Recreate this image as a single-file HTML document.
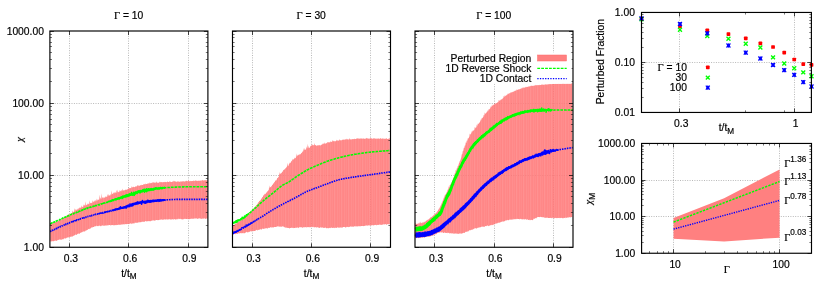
<!DOCTYPE html>
<html><head><meta charset="utf-8"><title>plot</title>
<style>html,body{margin:0;padding:0;background:#fff}svg{display:block;will-change:transform}</style>
</head><body>
<svg width="830" height="291" viewBox="0 0 830 291">
<defs>
<pattern id="st" width="7" height="8" patternUnits="userSpaceOnUse"><rect x="0" y="0" width="1" height="8" fill="#f00" fill-opacity="0.471"/><rect x="1" y="0" width="1" height="8" fill="#f00" fill-opacity="0.443"/><rect x="2" y="0" width="1" height="8" fill="#f00" fill-opacity="0.467"/><rect x="3" y="0" width="1" height="8" fill="#f00" fill-opacity="0.451"/><rect x="4" y="0" width="1" height="8" fill="#f00" fill-opacity="0.475"/><rect x="5" y="0" width="1" height="8" fill="#f00" fill-opacity="0.431"/><rect x="6" y="0" width="1" height="8" fill="#f00" fill-opacity="0.463"/></pattern>
<style>
.g{stroke:#000;stroke-opacity:.28;stroke-width:1;stroke-dasharray:1 1.4;fill:none}
.t{stroke:#000;stroke-opacity:.85;stroke-width:0.85;fill:none}
.m{stroke:#000;stroke-opacity:.6;stroke-width:.9;fill:none}
text{fill:#000;stroke:#000;stroke-width:.18px}
</style>
</defs>
<rect width="830" height="291" fill="#fff"/>
<path d="M49.9 175.5H207.9" class="g"/>
<path d="M49.9 103.5H207.9" class="g"/>
<path d="M69.5 31V247.25" class="g"/>
<path d="M128.5 31V247.25" class="g"/>
<path d="M188.5 31V247.25" class="g"/>
<path d="M232.5 175.5H390.5" class="g"/>
<path d="M232.5 103.5H390.5" class="g"/>
<path d="M252.5 31V247.25" class="g"/>
<path d="M311.5 31V247.25" class="g"/>
<path d="M370.5 31V247.25" class="g"/>
<path d="M415 175.5H573" class="g"/>
<path d="M415 103.5H573" class="g"/>
<path d="M434.5 31V247.25" class="g"/>
<path d="M494.5 31V247.25" class="g"/>
<path d="M553.5 31V247.25" class="g"/>
<path d="M50.2 224.67 L50.7 224.24 L51.2 224.27 L51.7 223.35 L52.2 223.85 L52.7 222.84 L53.2 223.49 L53.7 222.08 L54.2 223.01 L54.7 222.28 L55.2 222.57 L55.7 222.07 L56.2 222.16 L56.7 221.03 L57.2 221.71 L57.7 220.76 L58.2 221.02 L58.7 220.5 L59.2 220.43 L59.7 219.08 L60.2 219.92 L60.7 219.7 L61.2 219.47 L61.7 219.1 L62.2 219.1 L62.7 218.61 L63.2 218.07 L63.7 217.56 L64.2 217.91 L64.7 217.46 L65.2 217 L65.7 216.35 L66.2 216.47 L66.7 215.25 L67.2 215.82 L67.7 214.6 L68.2 215.42 L68.7 213.84 L69.2 214.69 L69.7 214.35 L70.2 214.19 L70.7 213.81 L71.2 213.31 L71.7 213.17 L72.2 212.66 L72.7 210.14 L73.2 212.16 L73.7 211.86 L74.2 211.6 L74.7 207.97 L75.2 210.96 L75.7 208.72 L76.2 210.56 L76.7 209.23 L77.2 209.96 L77.7 208.44 L78.2 209.45 L78.7 207.9 L79.2 208.51 L79.7 207.33 L80.2 208.36 L80.7 207.22 L81.2 207.87 L81.7 205.18 L82.2 207.23 L82.7 206.75 L83.2 206.64 L83.7 204.19 L84.2 206.01 L84.7 204.45 L85.2 205.76 L85.7 201.23 L86.2 205.36 L86.7 205.07 L87.2 204.63 L87.7 203.22 L88.2 204.5 L88.7 203.52 L89.2 204.09 L89.7 200.29 L90.2 203.59 L90.7 202.8 L91.2 203.2 L91.7 202.82 L92.2 202.84 L92.7 199.92 L93.2 202.5 L93.7 201.18 L94.2 201.65 L94.7 200.23 L95.2 201.69 L95.7 199.78 L96.2 201.17 L96.7 198.39 L97.2 200.9 L97.7 199.19 L98.2 200 L98.7 199.4 L99.2 199.45 L99.7 194.62 L100.2 199.59 L100.7 197.17 L101.2 199.24 L101.7 193.27 L102.2 198.58 L102.7 197.08 L103.2 198.42 L103.7 197.02 L104.2 198.01 L104.7 197.35 L105.2 197.4 L105.7 196.13 L106.2 196.85 L106.7 196.84 L107.2 196.81 L107.7 193.97 L108.2 196.31 L108.7 194.06 L109.2 195.63 L109.7 195.31 L110.2 195.54 L110.7 193.93 L111.2 195.12 L111.7 190.17 L112.2 194.36 L112.7 193.71 L113.2 193.62 L113.7 192.2 L114.2 193.38 L114.7 192.06 L115.2 193.32 L115.7 191.68 L116.2 193.2 L116.7 189.68 L117.2 192.48 L117.7 189.6 L118.2 192.51 L118.7 191.78 L119.2 192.14 L119.7 190.01 L120.2 191.52 L120.7 190.59 L121.2 191.5 L121.7 189.79 L122.2 191 L122.7 188.57 L123.2 190.5 L123.7 190.4 L124.2 190.26 L124.7 190.34 L125.2 190.02 L125.7 189.46 L126.2 189.73 L126.7 189.7 L127.2 189.46 L127.7 188.89 L128.2 188.89 L128.7 187.76 L129.2 188.51 L129.7 187.68 L130.2 188.33 L130.7 187.89 L131.2 187.93 L131.7 185.93 L132.2 187.87 L132.7 186.85 L133.2 187.22 L133.7 186.41 L134.2 187.27 L134.7 187.02 L135.2 186.81 L135.7 186.22 L136.2 186.56 L136.7 186.34 L137.2 186.17 L137.7 184.76 L138.2 185.87 L138.7 185.38 L139.2 185.79 L139.7 185.67 L140.2 185.51 L140.7 184.89 L141.2 185.22 L141.7 184.87 L142.2 185.04 L142.7 184.92 L143.2 184.65 L143.7 184.03 L144.2 184.54 L144.7 183.94 L145.2 184.18 L145.7 183.38 L146.2 184.04 L146.7 183.96 L147.2 183.92 L147.7 183.22 L148.2 183.73 L148.7 182.96 L149.2 183.63 L149.7 182.34 L150.2 183.39 L150.7 182.77 L151.2 183.35 L151.7 182.65 L152.2 183.07 L152.7 182.07 L153.2 183.04 L153.7 181.83 L154.2 182.97 L154.7 182.25 L155.2 182.96 L155.7 182.3 L156.2 182.69 L156.7 181.3 L157.2 182.75 L157.7 182.7 L158.2 182.67 L158.7 182.63 L159.2 182.53 L159.7 181.54 L160.2 182.53 L160.7 181.85 L161.2 182.31 L161.7 182.1 L162.2 182.4 L162.7 182.11 L163.2 182.25 L163.7 181.89 L164.2 182.19 L164.7 181.69 L165.2 182.21 L165.7 181.71 L166.2 182.14 L166.7 181.94 L167.2 181.93 L167.7 181.24 L168.2 181.99 L168.7 182 L169.2 182.03 L169.7 181.12 L170.2 181.95 L170.7 181.52 L171.2 181.94 L171.7 181.88 L172.2 181.88 L172.7 181.2 L173.2 181.87 L173.7 180.54 L174.2 181.78 L174.7 180.65 L175.2 181.52 L175.7 181.48 L176.2 181.66 L176.7 181.73 L177.2 181.64 L177.7 181.17 L178.2 181.61 L178.7 181.6 L179.2 181.67 L179.7 181.63 L180.2 181.64 L180.7 181.16 L181.2 181.57 L181.7 181.47 L182.2 181.49 L182.7 181.27 L183.2 181.49 L183.7 180.9 L184.2 181.41 L184.7 181.42 L185.2 181.48 L185.7 180.7 L186.2 181.3 L186.7 180.58 L187.2 181.37 L187.7 180.94 L188.2 181.33 L188.7 179.84 L189.2 181.3 L189.7 181.26 L190.2 181.27 L190.7 180.64 L191.2 181.21 L191.7 181.11 L192.2 181.09 L192.7 180.97 L193.2 181.14 L193.7 180.24 L194.2 181.04 L194.7 180.85 L195.2 180.89 L195.7 180.12 L196.2 180.91 L196.7 180.44 L197.2 180.89 L197.7 180.85 L198.2 180.87 L198.7 180.72 L199.2 180.82 L199.7 180.78 L200.2 180.66 L200.7 180.44 L201.2 180.73 L201.7 180.37 L202.2 180.62 L202.7 179.73 L203.2 180.58 L203.7 180.55 L204.2 180.53 L204.7 179.9 L205.2 180.5 L205.7 179.98 L206.2 180.41 L206.7 180.29 L207.2 180.37 L207.7 180.31 L207.7 218.74 L207.2 218.46 L206.7 218.41 L206.2 218.39 L205.7 218.93 L205.2 218.68 L204.7 218.46 L204.2 218.35 L203.7 218.69 L203.2 218.58 L202.7 218.6 L202.2 218.82 L201.7 218.97 L201.2 218.73 L200.7 218.71 L200.2 218.56 L199.7 217.91 L199.2 218.8 L198.7 218.62 L198.2 218.49 L197.7 218.75 L197.2 218.89 L196.7 218.59 L196.2 218.13 L195.7 218.49 L195.2 218.57 L194.7 218.64 L194.2 218.32 L193.7 218.84 L193.2 218.76 L192.7 218.93 L192.2 218.39 L191.7 218.56 L191.2 218.92 L190.7 218.76 L190.2 218.95 L189.7 219.14 L189.2 219.03 L188.7 219.08 L188.2 218.9 L187.7 218.73 L187.2 219.19 L186.7 218.98 L186.2 219.07 L185.7 219.09 L185.2 218.82 L184.7 218.69 L184.2 218.96 L183.7 219.01 L183.2 219.45 L182.7 219.5 L182.2 219.14 L181.7 218.99 L181.2 219.42 L180.7 218.95 L180.2 218.8 L179.7 218.76 L179.2 219.24 L178.7 218.53 L178.2 219.14 L177.7 219.42 L177.2 218.81 L176.7 219.27 L176.2 219.48 L175.7 219.53 L175.2 219.38 L174.7 218.88 L174.2 219.33 L173.7 219.4 L173.2 219.46 L172.7 219.25 L172.2 219.17 L171.7 219.44 L171.2 219.43 L170.7 219.44 L170.2 219.51 L169.7 219 L169.2 219.57 L168.7 219.34 L168.2 219.43 L167.7 219.52 L167.2 219.56 L166.7 219.22 L166.2 219.57 L165.7 219.43 L165.2 219.52 L164.7 219.37 L164.2 219.55 L163.7 219.56 L163.2 219.66 L162.7 219.77 L162.2 219.79 L161.7 219.28 L161.2 219.76 L160.7 219.72 L160.2 219.58 L159.7 219.98 L159.2 219.66 L158.7 220.05 L158.2 220.15 L157.7 220.01 L157.2 220.13 L156.7 220.01 L156.2 220.11 L155.7 220.3 L155.2 220.46 L154.7 220.43 L154.2 220.66 L153.7 220.31 L153.2 220.61 L152.7 220.5 L152.2 220.59 L151.7 220.78 L151.2 220.67 L150.7 220.88 L150.2 221.45 L149.7 221.36 L149.2 221.09 L148.7 221.14 L148.2 220.94 L147.7 221.26 L147.2 221.32 L146.7 221.39 L146.2 221.36 L145.7 221.04 L145.2 221.36 L144.7 221.54 L144.2 221.9 L143.7 222.11 L143.2 221.58 L142.7 221.52 L142.2 221.89 L141.7 221.76 L141.2 222.37 L140.7 221.91 L140.2 222.39 L139.7 221.63 L139.2 222.76 L138.7 222.4 L138.2 222.22 L137.7 222.41 L137.2 222.93 L136.7 223 L136.2 222.56 L135.7 222.72 L135.2 222.66 L134.7 222.87 L134.2 223.69 L133.7 223.3 L133.2 223.41 L132.7 223.43 L132.2 223.58 L131.7 223.51 L131.2 224.13 L130.7 223.28 L130.2 223.51 L129.7 223.63 L129.2 224.05 L128.7 223.82 L128.2 224.21 L127.7 223.95 L127.2 223.98 L126.7 224.33 L126.2 224.01 L125.7 224.15 L125.2 224.11 L124.7 224.04 L124.2 224.74 L123.7 224.49 L123.2 224.09 L122.7 224.31 L122.2 224.78 L121.7 224.23 L121.2 224.68 L120.7 224.5 L120.2 225 L119.7 224.81 L119.2 224.8 L118.7 224.59 L118.2 224.88 L117.7 225.07 L117.2 224.91 L116.7 225.13 L116.2 224.82 L115.7 224.98 L115.2 225.16 L114.7 224.9 L114.2 225.49 L113.7 225.02 L113.2 225.39 L112.7 224.96 L112.2 225.06 L111.7 225.25 L111.2 224.9 L110.7 225.52 L110.2 225.32 L109.7 225.03 L109.2 225.12 L108.7 225.33 L108.2 225.23 L107.7 225.32 L107.2 225.47 L106.7 225.4 L106.2 225.41 L105.7 225.3 L105.2 225.67 L104.7 225.88 L104.2 225.33 L103.7 225.91 L103.2 225.59 L102.7 225.29 L102.2 225.76 L101.7 225.58 L101.2 226.16 L100.7 225.74 L100.2 226.44 L99.7 225.54 L99.2 225.78 L98.7 225.78 L98.2 226.25 L97.7 226.09 L97.2 226.32 L96.7 225.56 L96.2 226.22 L95.7 226.4 L95.2 226.09 L94.7 226.16 L94.2 226.68 L93.7 227.06 L93.2 226.91 L92.7 227.31 L92.2 227.48 L91.7 227.47 L91.2 227.48 L90.7 228.42 L90.2 228.48 L89.7 228.64 L89.2 229.15 L88.7 228.85 L88.2 229.15 L87.7 229.65 L87.2 229.89 L86.7 230.2 L86.2 230.6 L85.7 230.58 L85.2 231.19 L84.7 231.39 L84.2 231.61 L83.7 231.25 L83.2 231.78 L82.7 231.68 L82.2 232.14 L81.7 232.38 L81.2 232.32 L80.7 232.64 L80.2 233.1 L79.7 233.83 L79.2 233.64 L78.7 233.53 L78.2 233.82 L77.7 233.7 L77.2 234.3 L76.7 234.72 L76.2 234.97 L75.7 234.61 L75.2 234.67 L74.7 235.46 L74.2 235.13 L73.7 235.76 L73.2 236.08 L72.7 236.58 L72.2 236.42 L71.7 236.44 L71.2 236.68 L70.7 236.78 L70.2 236.87 L69.7 237.16 L69.2 237.29 L68.7 237.33 L68.2 237.6 L67.7 237.54 L67.2 237.6 L66.7 237.72 L66.2 238.33 L65.7 238.6 L65.2 238.38 L64.7 238.17 L64.2 238.49 L63.7 238.73 L63.2 239.4 L62.7 239.18 L62.2 239.23 L61.7 239.67 L61.2 239.69 L60.7 239.31 L60.2 239.98 L59.7 239.5 L59.2 239.58 L58.7 240.09 L58.2 239.86 L57.7 240.18 L57.2 240.28 L56.7 240.95 L56.2 240.66 L55.7 240.4 L55.2 240.75 L54.7 240.89 L54.2 240.78 L53.7 240.95 L53.2 241.49 L52.7 241.34 L52.2 241.08 L51.7 241.58 L51.2 241.22 L50.7 241.45 L50.2 241.17Z" fill="#fff" fill-opacity=".75"/>
<path d="M50.2 224.67 L50.7 224.24 L51.2 224.27 L51.7 223.35 L52.2 223.85 L52.7 222.84 L53.2 223.49 L53.7 222.08 L54.2 223.01 L54.7 222.28 L55.2 222.57 L55.7 222.07 L56.2 222.16 L56.7 221.03 L57.2 221.71 L57.7 220.76 L58.2 221.02 L58.7 220.5 L59.2 220.43 L59.7 219.08 L60.2 219.92 L60.7 219.7 L61.2 219.47 L61.7 219.1 L62.2 219.1 L62.7 218.61 L63.2 218.07 L63.7 217.56 L64.2 217.91 L64.7 217.46 L65.2 217 L65.7 216.35 L66.2 216.47 L66.7 215.25 L67.2 215.82 L67.7 214.6 L68.2 215.42 L68.7 213.84 L69.2 214.69 L69.7 214.35 L70.2 214.19 L70.7 213.81 L71.2 213.31 L71.7 213.17 L72.2 212.66 L72.7 210.14 L73.2 212.16 L73.7 211.86 L74.2 211.6 L74.7 207.97 L75.2 210.96 L75.7 208.72 L76.2 210.56 L76.7 209.23 L77.2 209.96 L77.7 208.44 L78.2 209.45 L78.7 207.9 L79.2 208.51 L79.7 207.33 L80.2 208.36 L80.7 207.22 L81.2 207.87 L81.7 205.18 L82.2 207.23 L82.7 206.75 L83.2 206.64 L83.7 204.19 L84.2 206.01 L84.7 204.45 L85.2 205.76 L85.7 201.23 L86.2 205.36 L86.7 205.07 L87.2 204.63 L87.7 203.22 L88.2 204.5 L88.7 203.52 L89.2 204.09 L89.7 200.29 L90.2 203.59 L90.7 202.8 L91.2 203.2 L91.7 202.82 L92.2 202.84 L92.7 199.92 L93.2 202.5 L93.7 201.18 L94.2 201.65 L94.7 200.23 L95.2 201.69 L95.7 199.78 L96.2 201.17 L96.7 198.39 L97.2 200.9 L97.7 199.19 L98.2 200 L98.7 199.4 L99.2 199.45 L99.7 194.62 L100.2 199.59 L100.7 197.17 L101.2 199.24 L101.7 193.27 L102.2 198.58 L102.7 197.08 L103.2 198.42 L103.7 197.02 L104.2 198.01 L104.7 197.35 L105.2 197.4 L105.7 196.13 L106.2 196.85 L106.7 196.84 L107.2 196.81 L107.7 193.97 L108.2 196.31 L108.7 194.06 L109.2 195.63 L109.7 195.31 L110.2 195.54 L110.7 193.93 L111.2 195.12 L111.7 190.17 L112.2 194.36 L112.7 193.71 L113.2 193.62 L113.7 192.2 L114.2 193.38 L114.7 192.06 L115.2 193.32 L115.7 191.68 L116.2 193.2 L116.7 189.68 L117.2 192.48 L117.7 189.6 L118.2 192.51 L118.7 191.78 L119.2 192.14 L119.7 190.01 L120.2 191.52 L120.7 190.59 L121.2 191.5 L121.7 189.79 L122.2 191 L122.7 188.57 L123.2 190.5 L123.7 190.4 L124.2 190.26 L124.7 190.34 L125.2 190.02 L125.7 189.46 L126.2 189.73 L126.7 189.7 L127.2 189.46 L127.7 188.89 L128.2 188.89 L128.7 187.76 L129.2 188.51 L129.7 187.68 L130.2 188.33 L130.7 187.89 L131.2 187.93 L131.7 185.93 L132.2 187.87 L132.7 186.85 L133.2 187.22 L133.7 186.41 L134.2 187.27 L134.7 187.02 L135.2 186.81 L135.7 186.22 L136.2 186.56 L136.7 186.34 L137.2 186.17 L137.7 184.76 L138.2 185.87 L138.7 185.38 L139.2 185.79 L139.7 185.67 L140.2 185.51 L140.7 184.89 L141.2 185.22 L141.7 184.87 L142.2 185.04 L142.7 184.92 L143.2 184.65 L143.7 184.03 L144.2 184.54 L144.7 183.94 L145.2 184.18 L145.7 183.38 L146.2 184.04 L146.7 183.96 L147.2 183.92 L147.7 183.22 L148.2 183.73 L148.7 182.96 L149.2 183.63 L149.7 182.34 L150.2 183.39 L150.7 182.77 L151.2 183.35 L151.7 182.65 L152.2 183.07 L152.7 182.07 L153.2 183.04 L153.7 181.83 L154.2 182.97 L154.7 182.25 L155.2 182.96 L155.7 182.3 L156.2 182.69 L156.7 181.3 L157.2 182.75 L157.7 182.7 L158.2 182.67 L158.7 182.63 L159.2 182.53 L159.7 181.54 L160.2 182.53 L160.7 181.85 L161.2 182.31 L161.7 182.1 L162.2 182.4 L162.7 182.11 L163.2 182.25 L163.7 181.89 L164.2 182.19 L164.7 181.69 L165.2 182.21 L165.7 181.71 L166.2 182.14 L166.7 181.94 L167.2 181.93 L167.7 181.24 L168.2 181.99 L168.7 182 L169.2 182.03 L169.7 181.12 L170.2 181.95 L170.7 181.52 L171.2 181.94 L171.7 181.88 L172.2 181.88 L172.7 181.2 L173.2 181.87 L173.7 180.54 L174.2 181.78 L174.7 180.65 L175.2 181.52 L175.7 181.48 L176.2 181.66 L176.7 181.73 L177.2 181.64 L177.7 181.17 L178.2 181.61 L178.7 181.6 L179.2 181.67 L179.7 181.63 L180.2 181.64 L180.7 181.16 L181.2 181.57 L181.7 181.47 L182.2 181.49 L182.7 181.27 L183.2 181.49 L183.7 180.9 L184.2 181.41 L184.7 181.42 L185.2 181.48 L185.7 180.7 L186.2 181.3 L186.7 180.58 L187.2 181.37 L187.7 180.94 L188.2 181.33 L188.7 179.84 L189.2 181.3 L189.7 181.26 L190.2 181.27 L190.7 180.64 L191.2 181.21 L191.7 181.11 L192.2 181.09 L192.7 180.97 L193.2 181.14 L193.7 180.24 L194.2 181.04 L194.7 180.85 L195.2 180.89 L195.7 180.12 L196.2 180.91 L196.7 180.44 L197.2 180.89 L197.7 180.85 L198.2 180.87 L198.7 180.72 L199.2 180.82 L199.7 180.78 L200.2 180.66 L200.7 180.44 L201.2 180.73 L201.7 180.37 L202.2 180.62 L202.7 179.73 L203.2 180.58 L203.7 180.55 L204.2 180.53 L204.7 179.9 L205.2 180.5 L205.7 179.98 L206.2 180.41 L206.7 180.29 L207.2 180.37 L207.7 180.31 L207.7 218.74 L207.2 218.46 L206.7 218.41 L206.2 218.39 L205.7 218.93 L205.2 218.68 L204.7 218.46 L204.2 218.35 L203.7 218.69 L203.2 218.58 L202.7 218.6 L202.2 218.82 L201.7 218.97 L201.2 218.73 L200.7 218.71 L200.2 218.56 L199.7 217.91 L199.2 218.8 L198.7 218.62 L198.2 218.49 L197.7 218.75 L197.2 218.89 L196.7 218.59 L196.2 218.13 L195.7 218.49 L195.2 218.57 L194.7 218.64 L194.2 218.32 L193.7 218.84 L193.2 218.76 L192.7 218.93 L192.2 218.39 L191.7 218.56 L191.2 218.92 L190.7 218.76 L190.2 218.95 L189.7 219.14 L189.2 219.03 L188.7 219.08 L188.2 218.9 L187.7 218.73 L187.2 219.19 L186.7 218.98 L186.2 219.07 L185.7 219.09 L185.2 218.82 L184.7 218.69 L184.2 218.96 L183.7 219.01 L183.2 219.45 L182.7 219.5 L182.2 219.14 L181.7 218.99 L181.2 219.42 L180.7 218.95 L180.2 218.8 L179.7 218.76 L179.2 219.24 L178.7 218.53 L178.2 219.14 L177.7 219.42 L177.2 218.81 L176.7 219.27 L176.2 219.48 L175.7 219.53 L175.2 219.38 L174.7 218.88 L174.2 219.33 L173.7 219.4 L173.2 219.46 L172.7 219.25 L172.2 219.17 L171.7 219.44 L171.2 219.43 L170.7 219.44 L170.2 219.51 L169.7 219 L169.2 219.57 L168.7 219.34 L168.2 219.43 L167.7 219.52 L167.2 219.56 L166.7 219.22 L166.2 219.57 L165.7 219.43 L165.2 219.52 L164.7 219.37 L164.2 219.55 L163.7 219.56 L163.2 219.66 L162.7 219.77 L162.2 219.79 L161.7 219.28 L161.2 219.76 L160.7 219.72 L160.2 219.58 L159.7 219.98 L159.2 219.66 L158.7 220.05 L158.2 220.15 L157.7 220.01 L157.2 220.13 L156.7 220.01 L156.2 220.11 L155.7 220.3 L155.2 220.46 L154.7 220.43 L154.2 220.66 L153.7 220.31 L153.2 220.61 L152.7 220.5 L152.2 220.59 L151.7 220.78 L151.2 220.67 L150.7 220.88 L150.2 221.45 L149.7 221.36 L149.2 221.09 L148.7 221.14 L148.2 220.94 L147.7 221.26 L147.2 221.32 L146.7 221.39 L146.2 221.36 L145.7 221.04 L145.2 221.36 L144.7 221.54 L144.2 221.9 L143.7 222.11 L143.2 221.58 L142.7 221.52 L142.2 221.89 L141.7 221.76 L141.2 222.37 L140.7 221.91 L140.2 222.39 L139.7 221.63 L139.2 222.76 L138.7 222.4 L138.2 222.22 L137.7 222.41 L137.2 222.93 L136.7 223 L136.2 222.56 L135.7 222.72 L135.2 222.66 L134.7 222.87 L134.2 223.69 L133.7 223.3 L133.2 223.41 L132.7 223.43 L132.2 223.58 L131.7 223.51 L131.2 224.13 L130.7 223.28 L130.2 223.51 L129.7 223.63 L129.2 224.05 L128.7 223.82 L128.2 224.21 L127.7 223.95 L127.2 223.98 L126.7 224.33 L126.2 224.01 L125.7 224.15 L125.2 224.11 L124.7 224.04 L124.2 224.74 L123.7 224.49 L123.2 224.09 L122.7 224.31 L122.2 224.78 L121.7 224.23 L121.2 224.68 L120.7 224.5 L120.2 225 L119.7 224.81 L119.2 224.8 L118.7 224.59 L118.2 224.88 L117.7 225.07 L117.2 224.91 L116.7 225.13 L116.2 224.82 L115.7 224.98 L115.2 225.16 L114.7 224.9 L114.2 225.49 L113.7 225.02 L113.2 225.39 L112.7 224.96 L112.2 225.06 L111.7 225.25 L111.2 224.9 L110.7 225.52 L110.2 225.32 L109.7 225.03 L109.2 225.12 L108.7 225.33 L108.2 225.23 L107.7 225.32 L107.2 225.47 L106.7 225.4 L106.2 225.41 L105.7 225.3 L105.2 225.67 L104.7 225.88 L104.2 225.33 L103.7 225.91 L103.2 225.59 L102.7 225.29 L102.2 225.76 L101.7 225.58 L101.2 226.16 L100.7 225.74 L100.2 226.44 L99.7 225.54 L99.2 225.78 L98.7 225.78 L98.2 226.25 L97.7 226.09 L97.2 226.32 L96.7 225.56 L96.2 226.22 L95.7 226.4 L95.2 226.09 L94.7 226.16 L94.2 226.68 L93.7 227.06 L93.2 226.91 L92.7 227.31 L92.2 227.48 L91.7 227.47 L91.2 227.48 L90.7 228.42 L90.2 228.48 L89.7 228.64 L89.2 229.15 L88.7 228.85 L88.2 229.15 L87.7 229.65 L87.2 229.89 L86.7 230.2 L86.2 230.6 L85.7 230.58 L85.2 231.19 L84.7 231.39 L84.2 231.61 L83.7 231.25 L83.2 231.78 L82.7 231.68 L82.2 232.14 L81.7 232.38 L81.2 232.32 L80.7 232.64 L80.2 233.1 L79.7 233.83 L79.2 233.64 L78.7 233.53 L78.2 233.82 L77.7 233.7 L77.2 234.3 L76.7 234.72 L76.2 234.97 L75.7 234.61 L75.2 234.67 L74.7 235.46 L74.2 235.13 L73.7 235.76 L73.2 236.08 L72.7 236.58 L72.2 236.42 L71.7 236.44 L71.2 236.68 L70.7 236.78 L70.2 236.87 L69.7 237.16 L69.2 237.29 L68.7 237.33 L68.2 237.6 L67.7 237.54 L67.2 237.6 L66.7 237.72 L66.2 238.33 L65.7 238.6 L65.2 238.38 L64.7 238.17 L64.2 238.49 L63.7 238.73 L63.2 239.4 L62.7 239.18 L62.2 239.23 L61.7 239.67 L61.2 239.69 L60.7 239.31 L60.2 239.98 L59.7 239.5 L59.2 239.58 L58.7 240.09 L58.2 239.86 L57.7 240.18 L57.2 240.28 L56.7 240.95 L56.2 240.66 L55.7 240.4 L55.2 240.75 L54.7 240.89 L54.2 240.78 L53.7 240.95 L53.2 241.49 L52.7 241.34 L52.2 241.08 L51.7 241.58 L51.2 241.22 L50.7 241.45 L50.2 241.17Z" fill="url(#st)"/>
<path d="M110 200.64 L110.4 199.84 L110.8 199.92 L111.2 200.13 L111.6 199.98 L112 199.57 L112.4 199.31 L112.8 198.96 L113.2 199.08 L113.6 199.2 L114 198.91 L114.4 198.38 L114.8 198.46 L115.2 198.56 L115.6 198.42 L116 198.29 L116.4 197.9 L116.8 198.11 L117.2 197.58 L117.6 197.52 L118 197.41 L118.4 197.56 L118.8 197.19 L119.2 197.06 L119.6 197.11 L120 196.67 L120.4 196.91 L120.8 196.64 L121.2 196.25 L121.6 196.23 L122 196.18 L122.4 195.69 L122.8 195.09 L123.2 195.06 L123.6 195.79 L124 195.59 L124.4 194.86 L124.8 195.36 L125.2 194.84 L125.6 195.09 L126 194.81 L126.4 194.52 L126.8 194.03 L127.2 194 L127.6 194.22 L128 194.06 L128.4 194.22 L128.8 194.06 L129.2 193.76 L129.6 193.76 L130 193.56 L130.4 193.26 L130.8 193.38 L131.2 192.95 L131.6 192.78 L132 193.15 L132.4 192.71 L132.8 192.75 L133.2 192.69 L133.6 192.35 L134 191.82 L134.4 191.95 L134.8 192.12 L135.2 191.03 L135.6 191.61 L136 191.87 L136.4 191.48 L136.8 190.75 L137.2 191.45 L137.6 191.28 L138 190.78 L138.4 190.98 L138.8 190.79 L139.2 190.75 L139.6 190 L140 189.98 L140.4 190.39 L140.8 190.22 L141.2 189.51 L141.6 190.03 L142 190.13 L142.4 189.92 L142.8 189.71 L143.2 189.76 L143.6 189.06 L144 189.56 L144.4 189.3 L144.8 189.4 L145.2 189.19 L145.6 189.23 L146 188.27 L146.4 188.69 L146.8 189.05 L147.2 188.6 L147.6 188.14 L148 188.96 L148.4 188.1 L148.8 188.44 L149.2 188.24 L149.6 188.5 L150 188.63 L150.4 187.7 L150.8 188.39 L151.2 187.8 L151.6 188.29 L152 188.32 L152.4 188.17 L152.8 188.22 L153.2 187.96 L153.6 187.87 L154 187.33 L154.4 188.02 L154.8 187.15 L155.2 187.04 L155.6 187.29 L156 187.51 L156.4 187.48 L156.8 187.08 L157.2 187.66 L157.6 187.61 L158 187.46 L158.4 187.5 L158.8 187.3 L159.2 187.42 L159.6 186.93 L160 187.2 L160.4 186.31 L160.8 187.27 L161.2 187.17 L161.6 187.01 L162 186.91 L162.4 186.7 L162.8 187.09 L163.2 186.75 L163.6 187.02 L164 187.07 L164.4 186.41 L164.8 186.79 L165.2 187.04 L165.2 188.76 L164.8 188.93 L164.4 189.08 L164 188.48 L163.6 188.54 L163.2 188.88 L162.8 188.7 L162.4 189.56 L162 189.75 L161.6 189.28 L161.2 189.3 L160.8 188.97 L160.4 189.42 L160 189.29 L159.6 189.15 L159.2 189.53 L158.8 189.54 L158.4 189.21 L158 189.76 L157.6 189.36 L157.2 189.41 L156.8 189.54 L156.4 189.61 L156 189.73 L155.6 189.92 L155.2 189.86 L154.8 189.76 L154.4 190.19 L154 190.64 L153.6 189.96 L153.2 190.07 L152.8 190.37 L152.4 191.03 L152 190.54 L151.6 190.71 L151.2 190.65 L150.8 190.49 L150.4 191.01 L150 190.53 L149.6 190.56 L149.2 190.75 L148.8 191.47 L148.4 190.98 L148 191.38 L147.6 191.05 L147.2 191.02 L146.8 191.28 L146.4 191.48 L146 192.34 L145.6 191.38 L145.2 191.67 L144.8 191.91 L144.4 191.79 L144 192.19 L143.6 191.86 L143.2 192.51 L142.8 192.31 L142.4 192.57 L142 192.41 L141.6 192.53 L141.2 192.75 L140.8 192.49 L140.4 192.81 L140 193.03 L139.6 192.99 L139.2 193.69 L138.8 193.08 L138.4 193.18 L138 193.41 L137.6 193.99 L137.2 194.4 L136.8 193.79 L136.4 194.12 L136 194.25 L135.6 193.94 L135.2 194.27 L134.8 194.68 L134.4 194.64 L134 194.79 L133.6 194.74 L133.2 195.1 L132.8 195.93 L132.4 195.33 L132 195.03 L131.6 195.46 L131.2 195.5 L130.8 195.66 L130.4 195.53 L130 195.93 L129.6 195.77 L129.2 195.97 L128.8 196.73 L128.4 196.63 L128 196.25 L127.6 197.05 L127.2 197.05 L126.8 196.65 L126.4 196.79 L126 196.87 L125.6 197.57 L125.2 197.22 L124.8 197.33 L124.4 197.46 L124 197.94 L123.6 197.52 L123.2 197.91 L122.8 197.8 L122.4 198.03 L122 198.04 L121.6 198.43 L121.2 199.13 L120.8 198.65 L120.4 198.68 L120 199.15 L119.6 199.14 L119.2 199.19 L118.8 199.67 L118.4 199.19 L118 199.94 L117.6 199.49 L117.2 199.64 L116.8 199.88 L116.4 200.39 L116 200.01 L115.6 200.9 L115.2 200.5 L114.8 200.45 L114.4 200.63 L114 200.58 L113.6 200.91 L113.2 201.41 L112.8 201.45 L112.4 201.22 L112 201.38 L111.6 201.44 L111.2 201.63 L110.8 202.33 L110.4 202.25 L110 201.94Z" fill="#00ff00"/>
<path d="M50.2 223.9 L50.4 223.98 L50.6 223.74 L50.8 223.54 L51 223.56 L51.2 223.52 L51.4 223.34 L51.6 223.3 L51.8 223.09 L52 222.8 L52.2 223.07 L52.4 222.95 L52.6 222.8 L52.8 222.69 L53 222.72 L53.2 222.44 L53.4 222.32 L53.6 222.29 L53.8 222.36 L54 221.96 L54.2 222.18 L54.4 221.86 L54.6 221.72 L54.8 221.91 L55 221.65 L55.2 221.42 L55.4 221.44 L55.6 221.5 L55.8 221.44 L56 221.15 L56.2 221.16 L56.4 221.11 L56.6 220.85 L56.8 220.88 L57 220.75 L57.2 220.59 L57.4 220.51 L57.6 220.49 L57.8 220.39 L58 220.23 L58.2 220.15 L58.4 220.25 L58.6 220.05 L58.8 220.04 L59 219.99 L59.2 219.83 L59.4 219.94 L59.6 219.48 L59.8 219.58 L60 219.36 L60.2 219.53 L60.4 219.42 L60.6 218.9 L60.8 218.93 L61 219.03 L61.2 218.96 L61.4 218.86 L61.6 218.68 L61.8 218.65 L62 218.59 L62.2 218.41 L62.4 218.46 L62.6 217.98 L62.8 218.24 L63 217.95 L63.2 218.1 L63.4 217.87 L63.6 217.7 L63.8 217.77 L64 217.53 L64.2 217.44 L64.4 217.27 L64.6 217.37 L64.8 217.35 L65 217.33 L65.2 217.1 L65.4 217.16 L65.6 216.95 L65.8 216.85 L66 216.84 L66.2 216.81 L66.4 216.56 L66.6 216.49 L66.8 216.41 L67 216.35 L67.2 216.15 L67.4 216.3 L67.6 216.04 L67.8 216.06 L68 215.82 L68.2 215.88 L68.4 215.8 L68.6 215.62 L68.8 215.83 L69 215.54 L69.2 215.63 L69.4 215.45 L69.6 215.17 L69.8 215.12 L70 215.13 L70.2 215 L70.4 214.92 L70.6 214.79 L70.8 214.53 L71 214.63 L71.2 214.31 L71.4 214.54 L71.6 214.32 L71.8 214.24 L72 214.21 L72.2 214.19 L72.4 213.9 L72.6 213.78 L72.8 213.78 L73 213.58 L73.2 213.62 L73.4 213.85 L73.6 213.45 L73.8 213.57 L74 213.24 L74.2 213.36 L74.4 213.2 L74.6 213.15 L74.8 213.14 L75 213.2 L75.2 212.93 L75.4 212.84 L75.6 212.63 L75.8 212.73 L76 212.55 L76.2 212.6 L76.4 212.41 L76.6 212.54 L76.8 212.01 L77 212.13 L77.2 212.19 L77.4 211.96 L77.6 211.83 L77.8 211.81 L78 211.6 L78.2 211.69 L78.4 211.89 L78.6 211.66 L78.8 211.31 L79 211.25 L79.2 211.23 L79.4 211.32 L79.6 211.02 L79.8 210.96 L80 211.07 L80.2 210.99 L80.4 210.76 L80.6 210.59 L80.8 210.46 L81 210.48 L81.2 210.22 L81.4 210.5 L81.6 210.26 L81.8 210.32 L82 210.41 L82.2 210.25 L82.4 209.89 L82.6 210.06 L82.8 210.01 L83 209.71 L83.2 209.61 L83.4 209.63 L83.6 209.38 L83.8 209.68 L84 209.13 L84.2 209.22 L84.4 209.24 L84.6 209.17 L84.8 209.15 L85 209.09 L85.2 208.96 L85.4 209.05 L85.6 208.58 L85.8 208.77 L86 208.61 L86.2 208.64 L86.4 208.58 L86.6 208.37 L86.8 208.33 L87 208.44 L87.2 208.32 L87.4 208.12 L87.6 208.39 L87.8 208.35 L88 207.82 L88.2 207.97 L88.4 208.17 L88.6 207.9 L88.8 207.76 L89 207.64 L89.2 207.53 L89.4 207.51 L89.6 207.4 L89.8 207.5 L90 207.3 L90.2 207.23 L90.4 207.07 L90.6 207.15 L90.8 206.98 L91 207.01 L91.2 207.1 L91.4 206.96 L91.6 206.91 L91.8 206.83 L92 206.74 L92.2 206.65 L92.4 206.57 L92.6 206.65 L92.8 206.35 L93 206.6 L93.2 206.38 L93.4 206.22 L93.6 206.19 L93.8 206.11 L94 206.16 L94.2 205.99 L94.4 206.17 L94.6 205.86 L94.8 205.61 L95 205.75 L95.2 205.53 L95.4 205.73 L95.6 205.82 L95.8 205.71 L96 205.38 L96.2 205.4 L96.4 205.69 L96.6 205.44 L96.8 205.34 L97 205.43 L97.2 205.56 L97.4 205.35 L97.6 205.13 L97.8 205.1 L98 205.08 L98.2 204.85 L98.4 204.73 L98.6 204.83 L98.8 204.62 L99 204.7 L99.2 204.66 L99.4 204.94 L99.6 204.4 L99.8 204.45 L100 204.39 L100.2 204.42 L100.4 204.46 L100.6 204.16 L100.8 204.05 L101 203.86 L101.2 203.91 L101.4 204.08 L101.6 203.94 L101.8 203.71 L102 203.75 L102.2 203.76 L102.4 203.77 L102.6 203.53 L102.8 203.52 L103 203.19 L103.2 203.24 L103.4 203.66 L103.6 202.92 L103.8 203.18 L104 203.22 L104.2 203.05 L104.4 202.9 L104.6 202.97 L104.8 202.92 L105 202.84 L105.2 202.43 L105.4 202.7 L105.6 202.49 L105.8 202.48 L106 202.57 L106.2 202.59 L106.4 202.58 L106.6 202.22 L106.8 202.45 L107 202.44 L107.2 202.37 L107.4 202.36 L107.6 201.96 L107.8 201.88 L108 202.04 L108.2 201.48 L108.4 201.77 L108.6 201.53 L108.8 201.5 L109 201.1 L109.2 201.24 L109.4 201.38 L109.6 201.53 L109.8 201.49 L110 201.16 L110.2 201.06 L110.4 200.83 L110.6 201.08 L110.8 200.84 L111 201 L111.2 201.25 L111.4 200.69 L111.6 200.22 L111.8 200.32 L112 200.08 L112.2 200.09 L112.4 200.75 L112.6 200.37 L112.8 199.77 L113 200.36 L113.2 200.49 L113.4 199.92 L113.6 199.75 L113.8 199.79 L114 199.92 L114.2 199.98 L114.4 200.09 L114.6 200.04 L114.8 199.97 L115 199.97 L115.2 199.67 L115.4 198.82 L115.6 199.26 L115.8 199.35 L116 199.03 L116.2 199.45 L116.4 198.9 L116.6 198.62 L116.8 199.47 L117 199.1 L117.2 198.86 L117.4 199.08 L117.6 199.07 L117.8 198.71 L118 197.48 L118.2 198.16 L118.4 198.18 L118.6 197.88 L118.8 198.33 L119 198.7 L119.2 197.89 L119.4 197.53 L119.6 198.9 L119.8 197.7 L120 197.27 L120.2 197.89 L120.4 197.91 L120.6 197.3 L120.8 197.96 L121 197.27 L121.2 196.99 L121.4 197.47 L121.6 197.71 L121.8 196.93 L122 197.35 L122.2 197.07 L122.4 198.54 L122.6 196.61 L122.8 197.67 L123 196.83 L123.2 196.72 L123.4 197.13 L123.6 197.16 L123.8 197.31 L124 196.72 L124.2 196.13 L124.4 196.1 L124.6 196.64 L124.8 196.62 L125 197.04 L125.2 196.4 L125.4 196.73 L125.6 196.94 L125.8 196.07 L126 195 L126.2 195.12 L126.4 194.89 L126.6 196.71 L126.8 195.13 L127 196.38 L127.2 195.91 L127.4 196.58 L127.6 196.06 L127.8 195.29 L128 195.17 L128.2 195.3 L128.4 195.3 L128.6 194.77 L128.8 195.04 L129 196.08 L129.2 193.8 L129.4 195.06 L129.6 194.21 L129.8 194.89 L130 195.27 L130.2 194.6 L130.4 195.11 L130.6 193.42 L130.8 195.22 L131 193.97 L131.2 194.77 L131.4 194.4 L131.6 192.4 L131.8 193.62 L132 194.24 L132.2 195.12 L132.4 194.17 L132.6 194.09 L132.8 192.84 L133 194.8 L133.2 195.01 L133.4 193.68 L133.6 193.44 L133.8 192.37 L134 194.11 L134.2 195.35 L134.4 193.87 L134.6 194.2 L134.8 193.62 L135 192.46 L135.2 194.07 L135.4 192.16 L135.6 192.83 L135.8 193.13 L136 193.5 L136.2 193.1 L136.4 193.02 L136.6 192.14 L136.8 191.7 L137 192.61 L137.2 192 L137.4 191.52 L137.6 191.49 L137.8 191.99 L138 190.96 L138.2 191.26 L138.4 191.01 L138.6 192.23 L138.8 192.33 L139 193.39 L139.2 190.89 L139.4 191.4 L139.6 192.45 L139.8 191.62 L140 191.49 L140.2 192.83 L140.4 191.37 L140.6 190.76 L140.8 190.6 L141 191.67 L141.2 191.59 L141.4 190.42 L141.6 190.63 L141.8 191.59 L142 191.56 L142.2 190.71 L142.4 191.49 L142.6 191.4 L142.8 189.83 L143 190.73 L143.2 191.15 L143.4 190.48 L143.6 189.45 L143.8 190.57 L144 191.16 L144.2 191.62 L144.4 189.27 L144.6 192.15 L144.8 189.84 L145 191.05 L145.2 191.16 L145.4 190.97 L145.6 190.44 L145.8 189.63 L146 190.63 L146.2 189.82 L146.4 188.76 L146.6 191.74 L146.8 190.51 L147 191.08 L147.2 189.54 L147.4 190.8 L147.6 190.82 L147.8 190.76 L148 189.89 L148.2 189.24 L148.4 189.74 L148.6 188.67 L148.8 188.91 L149 189.78 L149.2 189.21 L149.4 189.59 L149.6 189.58 L149.8 190.53 L150 190.19 L150.2 189.52 L150.4 190.07 L150.6 189.12 L150.8 189.29 L151 189.82 L151.2 188.83 L151.4 189.23 L151.6 188.75 L151.8 189.34 L152 189.95 L152.2 188.91 L152.4 189.29 L152.6 188.8 L152.8 188.67 L153 188.61 L153.2 189.65 L153.4 189.97 L153.6 189.21 L153.8 188.72 L154 189.23 L154.2 188.81 L154.4 189.2 L154.6 188.98 L154.8 188.95 L155 189.03 L155.2 188.59 L155.4 188.63 L155.6 188.16 L155.8 188.56 L156 188.22 L156.2 188.61 L156.4 188.33 L156.6 188.63 L156.8 188.71 L157 188.12 L157.2 188.28 L157.4 188.22 L157.6 188.68 L157.8 188.92 L158 188.65 L158.2 188.3 L158.4 188.75 L158.6 187.96 L158.8 188.7 L159 188.14 L159.2 187.61 L159.4 188.87 L159.6 188.59 L159.8 187.97 L160 188.22 L160.2 188.11 L160.4 188.16 L160.6 187.82 L160.8 187.96 L161 188.16 L161.2 188.09 L161.4 188.24 L161.6 188.02 L161.8 188.38 L162 187.85 L162.2 187.99 L162.4 187.64 L162.6 187.73 L162.8 188.07 L163 187.75 L163.2 187.92 L163.4 187.83 L163.6 187.7 L163.8 187.76 L164 187.73 L164.2 187.72 L164.4 187.82 L164.6 187.79 L164.8 187.67 L165 187.62 L165.2 187.71 L165.4 187.66 L165.6 187.73 L165.8 187.82 L166 187.68 L166.2 187.61 L166.4 187.59 L166.6 187.54 L166.8 187.52 L167 187.51 L167.2 187.53 L167.4 187.51 L167.6 187.56 L167.8 187.49 L168 187.49 L168.2 187.44 L168.4 187.54 L168.6 187.49 L168.8 187.52 L169 187.47 L169.2 187.48 L169.4 187.42 L169.6 187.44 L169.8 187.48 L170 187.36 L170.2 187.42 L170.4 187.42 L170.6 187.37 L170.8 187.37 L171 187.38 L171.2 187.32 L171.4 187.33 L171.6 187.29 L171.8 187.29 L172 187.28 L172.2 187.28 L172.4 187.28 L172.6 187.28 L172.8 187.22 L173 187.29 L173.2 187.26 L173.4 187.24 L173.6 187.21 L173.8 187.21 L174 187.21 L174.2 187.2 L174.4 187.15 L174.6 187.19 L174.8 187.23 L175 187.12 L175.2 187.17 L175.4 187.15 L175.6 187.13 L175.8 187.15 L176 187.09 L176.2 187.11 L176.4 187.13 L176.6 187.09 L176.8 187.07 L177 187.08 L177.2 187.06 L177.4 187.09 L177.6 187.03 L177.8 187.06 L178 187.01 L178.2 187.04 L178.4 187.02 L178.6 186.96 L178.8 187.01 L179 186.98 L179.2 186.99 L179.4 187.02 L179.6 186.96 L179.8 186.95 L180 187 L180.2 186.96 L180.4 186.99 L180.6 186.96 L180.8 186.93 L181 186.94 L181.2 186.96 L181.4 186.95 L181.6 186.92 L181.8 186.92 L182 186.91 L182.2 186.89 L182.4 186.94 L182.6 186.89 L182.8 186.87 L183 186.87 L183.2 186.89 L183.4 186.89 L183.6 186.87 L183.8 186.85 L184 186.86 L184.2 186.82 L184.4 186.83 L184.6 186.87 L184.8 186.83 L185 186.85 L185.2 186.86 L185.4 186.85 L185.6 186.83 L185.8 186.87 L186 186.84 L186.2 186.81 L186.4 186.83 L186.6 186.82 L186.8 186.8 L187 186.81 L187.2 186.8 L187.4 186.77 L187.6 186.8 L187.8 186.8 L188 186.79 L188.2 186.76 L188.4 186.79 L188.6 186.79 L188.8 186.8 L189 186.77 L189.2 186.8 L189.4 186.76 L189.6 186.78 L189.8 186.81 L190 186.77 L190.2 186.77 L190.4 186.8 L190.6 186.77 L190.8 186.77 L191 186.78 L191.2 186.79 L191.4 186.73 L191.6 186.75 L191.8 186.75 L192 186.74 L192.2 186.75 L192.4 186.75 L192.6 186.77 L192.8 186.74 L193 186.76 L193.2 186.77 L193.4 186.74 L193.6 186.76 L193.8 186.79 L194 186.76 L194.2 186.74 L194.4 186.75 L194.6 186.73 L194.8 186.75 L195 186.76 L195.2 186.73 L195.4 186.74 L195.6 186.76 L195.8 186.73 L196 186.74 L196.2 186.72 L196.4 186.72 L196.6 186.72 L196.8 186.78 L197 186.72 L197.2 186.72 L197.4 186.72 L197.6 186.73 L197.8 186.74 L198 186.73 L198.2 186.77 L198.4 186.73 L198.6 186.75 L198.8 186.73 L199 186.73 L199.2 186.69 L199.4 186.72 L199.6 186.72 L199.8 186.71 L200 186.67 L200.2 186.73 L200.4 186.71 L200.6 186.71 L200.8 186.71 L201 186.71 L201.2 186.72 L201.4 186.69 L201.6 186.69 L201.8 186.72 L202 186.71 L202.2 186.7 L202.4 186.7 L202.6 186.69 L202.8 186.71 L203 186.73 L203.2 186.68 L203.4 186.74 L203.6 186.72 L203.8 186.7 L204 186.72 L204.2 186.67 L204.4 186.67 L204.6 186.68 L204.8 186.69 L205 186.7 L205.2 186.69 L205.4 186.7 L205.6 186.66 L205.8 186.71 L206 186.67 L206.2 186.69 L206.4 186.69 L206.6 186.68 L206.8 186.67 L207 186.68 L207.2 186.7 L207.4 186.71 L207.6 186.71" fill="none" stroke="#00ff00" stroke-width="1.55" stroke-dasharray="2.7 1.0" stroke-linejoin="round"/>
<path d="M113.2 209.21 L113.6 209.19 L114 209.02 L114.4 209.12 L114.8 208.29 L115.2 208.54 L115.6 208.77 L116 208.52 L116.4 208.61 L116.8 208.18 L117.2 208.38 L117.6 207.95 L118 208.25 L118.4 207.64 L118.8 207.52 L119.2 207.92 L119.6 207.21 L120 207.67 L120.4 207.59 L120.8 207.09 L121.2 207.26 L121.6 206.93 L122 206.57 L122.4 206.75 L122.8 206.77 L123.2 206.68 L123.6 205.69 L124 206.52 L124.4 206.16 L124.8 205.98 L125.2 206.16 L125.6 205.01 L126 205.66 L126.4 205.54 L126.8 205.32 L127.2 204.76 L127.6 205.15 L128 205.23 L128.4 204.84 L128.8 204.65 L129.2 204.65 L129.6 203.78 L130 204.27 L130.4 204.18 L130.8 204.23 L131.2 203.74 L131.6 203.52 L132 203.13 L132.4 203.44 L132.8 202.83 L133.2 202.94 L133.6 202.82 L134 202.81 L134.4 202.53 L134.8 202.52 L135.2 202.71 L135.6 202.04 L136 201.91 L136.4 202 L136.8 202.04 L137.2 201.22 L137.6 202.13 L138 201.8 L138.4 201.65 L138.8 201.13 L139.2 201.65 L139.6 201.25 L140 201.56 L140.4 201.04 L140.8 201.37 L141.2 201.18 L141.6 201.01 L142 201.34 L142.4 200.84 L142.8 201.11 L143.2 200.88 L143.6 201.03 L144 201.05 L144.4 200.53 L144.8 200.67 L145.2 200.23 L145.6 200.7 L146 200.43 L146.4 200.58 L146.8 200.27 L147.2 200.43 L147.6 200.2 L148 200.17 L148.4 200.07 L148.8 199.53 L149.2 200.01 L149.6 200.1 L150 200.25 L150.4 199.73 L150.8 199.72 L151.2 199.76 L151.6 200.09 L152 200.05 L152.4 199.15 L152.8 199.81 L153.2 199.59 L153.6 199.61 L154 199.75 L154.4 199.99 L154.8 199.3 L155.2 199.14 L155.6 199.55 L156 199.8 L156.4 199.79 L156.8 199.22 L157.2 199.62 L157.6 199.34 L158 199.43 L158.4 199.24 L158.8 199.37 L159.2 199.52 L159.6 198.8 L160 199.49 L160.4 199.55 L160.8 198.57 L161.2 199.4 L161.6 199.18 L162 199.2 L162.4 198.98 L162.8 198.99 L163.2 198.94 L163.6 199.21 L164 199.17 L164.4 199.36 L164.8 199.41 L165.2 198.97 L165.2 201.16 L164.8 201.1 L164.4 200.78 L164 200.89 L163.6 201.08 L163.2 201.56 L162.8 201.02 L162.4 201.13 L162 201.08 L161.6 201.1 L161.2 201.42 L160.8 201.63 L160.4 201.27 L160 201.67 L159.6 201.5 L159.2 201.51 L158.8 201.41 L158.4 202.26 L158 202.11 L157.6 201.71 L157.2 201.84 L156.8 201.72 L156.4 201.89 L156 201.78 L155.6 201.7 L155.2 201.76 L154.8 202.36 L154.4 201.93 L154 202.32 L153.6 202.42 L153.2 202.32 L152.8 201.97 L152.4 202.13 L152 202.84 L151.6 202.52 L151.2 202.43 L150.8 202.56 L150.4 203.15 L150 202.26 L149.6 202.93 L149.2 202.48 L148.8 202.53 L148.4 202.48 L148 202.64 L147.6 203.53 L147.2 202.61 L146.8 202.83 L146.4 203.28 L146 203.63 L145.6 203.05 L145.2 202.88 L144.8 203.13 L144.4 202.95 L144 203.21 L143.6 203.44 L143.2 203.24 L142.8 203.27 L142.4 203.27 L142 203.32 L141.6 203.82 L141.2 203.38 L140.8 203.48 L140.4 203.53 L140 203.68 L139.6 204 L139.2 203.94 L138.8 204.41 L138.4 204.3 L138 204.03 L137.6 204.66 L137.2 204.68 L136.8 204.38 L136.4 204.53 L136 204.67 L135.6 205.56 L135.2 204.76 L134.8 204.78 L134.4 205.36 L134 205.17 L133.6 205.45 L133.2 205.63 L132.8 206.27 L132.4 205.91 L132 205.91 L131.6 206.35 L131.2 206.46 L130.8 206.27 L130.4 207.29 L130 206.6 L129.6 206.91 L129.2 207.3 L128.8 206.98 L128.4 207.87 L128 207.18 L127.6 207.21 L127.2 207.72 L126.8 207.43 L126.4 208.27 L126 207.82 L125.6 208.14 L125.2 207.9 L124.8 208.01 L124.4 208.18 L124 208.33 L123.6 208.53 L123.2 208.69 L122.8 208.94 L122.4 208.51 L122 209.11 L121.6 208.84 L121.2 209.26 L120.8 209.39 L120.4 209.13 L120 209.79 L119.6 209.65 L119.2 209.76 L118.8 209.41 L118.4 209.91 L118 209.73 L117.6 210.19 L117.2 210.37 L116.8 210.14 L116.4 210.03 L116 210.3 L115.6 210.68 L115.2 210.36 L114.8 210.44 L114.4 210.59 L114 210.7 L113.6 211.52 L113.2 210.95Z" fill="#0000ff"/>
<path d="M50.2 231.37 L50.4 231.3 L50.6 231.48 L50.8 231.37 L51 231.01 L51.2 230.85 L51.4 230.82 L51.6 230.73 L51.8 230.5 L52 230.6 L52.2 230.34 L52.4 230.25 L52.6 230.41 L52.8 230.12 L53 230.09 L53.2 230.08 L53.4 230 L53.6 229.76 L53.8 229.71 L54 229.51 L54.2 229.72 L54.4 229.49 L54.6 229.19 L54.8 229.22 L55 229.21 L55.2 229.09 L55.4 229.15 L55.6 229 L55.8 228.68 L56 228.64 L56.2 228.4 L56.4 228.49 L56.6 228.38 L56.8 228.59 L57 228.19 L57.2 227.83 L57.4 227.91 L57.6 227.91 L57.8 227.65 L58 227.6 L58.2 227.57 L58.4 227.56 L58.6 227.41 L58.8 227.23 L59 227.34 L59.2 227.09 L59.4 227 L59.6 226.81 L59.8 226.79 L60 226.87 L60.2 226.51 L60.4 226.6 L60.6 226.61 L60.8 226.39 L61 226.37 L61.2 226.12 L61.4 226.32 L61.6 226.21 L61.8 226.02 L62 225.69 L62.2 225.69 L62.4 225.84 L62.6 225.85 L62.8 225.59 L63 225.62 L63.2 225.31 L63.4 225.27 L63.6 225.21 L63.8 225.17 L64 224.86 L64.2 225.07 L64.4 225.03 L64.6 224.65 L64.8 224.54 L65 224.66 L65.2 224.45 L65.4 224.17 L65.6 224.46 L65.8 224.3 L66 224.14 L66.2 224.37 L66.4 224.05 L66.6 223.87 L66.8 223.89 L67 223.67 L67.2 223.62 L67.4 223.68 L67.6 223.49 L67.8 223.42 L68 223.59 L68.2 223.42 L68.4 223.33 L68.6 223.22 L68.8 223.14 L69 223.17 L69.2 222.92 L69.4 223.07 L69.6 222.65 L69.8 222.66 L70 222.45 L70.2 222.49 L70.4 222.52 L70.6 222.56 L70.8 222.23 L71 222.23 L71.2 222.11 L71.4 221.99 L71.6 221.86 L71.8 221.93 L72 221.64 L72.2 221.79 L72.4 221.7 L72.6 221.55 L72.8 221.43 L73 221.31 L73.2 221.63 L73.4 221.17 L73.6 221.44 L73.8 221.25 L74 221.07 L74.2 220.9 L74.4 221.09 L74.6 221.1 L74.8 220.71 L75 220.71 L75.2 220.8 L75.4 220.64 L75.6 220.77 L75.8 220.39 L76 220.45 L76.2 220.17 L76.4 220.5 L76.6 220.09 L76.8 219.84 L77 220.02 L77.2 219.95 L77.4 220.12 L77.6 219.78 L77.8 219.75 L78 219.76 L78.2 219.81 L78.4 219.54 L78.6 219.6 L78.8 219.47 L79 219.3 L79.2 219.28 L79.4 219.21 L79.6 219.03 L79.8 219.22 L80 218.84 L80.2 219.08 L80.4 218.98 L80.6 218.79 L80.8 218.64 L81 218.64 L81.2 218.66 L81.4 218.63 L81.6 218.51 L81.8 218.53 L82 218.28 L82.2 218.31 L82.4 218.02 L82.6 218.24 L82.8 218.1 L83 217.97 L83.2 218.1 L83.4 217.98 L83.6 217.49 L83.8 217.77 L84 217.53 L84.2 217.77 L84.4 217.88 L84.6 217.46 L84.8 217.47 L85 217.36 L85.2 217.38 L85.4 217.35 L85.6 217.37 L85.8 217.03 L86 217.28 L86.2 216.92 L86.4 217 L86.6 217.05 L86.8 216.94 L87 216.68 L87.2 216.65 L87.4 216.62 L87.6 216.61 L87.8 216.7 L88 216.34 L88.2 216.5 L88.4 216.46 L88.6 216.4 L88.8 216.33 L89 216.4 L89.2 216.22 L89.4 216.21 L89.6 216.12 L89.8 216.21 L90 215.71 L90.2 216.04 L90.4 215.8 L90.6 215.74 L90.8 215.6 L91 215.44 L91.2 215.57 L91.4 215.48 L91.6 215.57 L91.8 215.27 L92 215.58 L92.2 215.39 L92.4 215.27 L92.6 215.16 L92.8 215.1 L93 215.01 L93.2 215.03 L93.4 215.05 L93.6 214.97 L93.8 214.77 L94 214.86 L94.2 214.73 L94.4 214.81 L94.6 214.98 L94.8 214.77 L95 214.61 L95.2 214.39 L95.4 214.37 L95.6 214.28 L95.8 214.54 L96 214.3 L96.2 214.36 L96.4 214.22 L96.6 214.27 L96.8 214.39 L97 214.07 L97.2 214.07 L97.4 213.96 L97.6 214.13 L97.8 213.83 L98 213.77 L98.2 213.69 L98.4 213.64 L98.6 213.84 L98.8 214.08 L99 213.55 L99.2 213.76 L99.4 213.62 L99.6 213.39 L99.8 213.45 L100 213.41 L100.2 213.3 L100.4 213.62 L100.6 213.04 L100.8 213.31 L101 213.26 L101.2 213.08 L101.4 213.14 L101.6 213.19 L101.8 213.04 L102 213.03 L102.2 213.03 L102.4 212.58 L102.6 213.05 L102.8 213.12 L103 212.88 L103.2 212.84 L103.4 212.42 L103.6 212.57 L103.8 212.42 L104 212.4 L104.2 212.6 L104.4 212.27 L104.6 212.33 L104.8 211.99 L105 212.22 L105.2 212.22 L105.4 212.04 L105.6 211.98 L105.8 212.37 L106 211.8 L106.2 211.77 L106.4 211.77 L106.6 212.06 L106.8 212.18 L107 211.81 L107.2 211.58 L107.4 211.58 L107.6 211.8 L107.8 211.38 L108 211.77 L108.2 211.72 L108.4 211.41 L108.6 211.47 L108.8 211.44 L109 211.55 L109.2 210.98 L109.4 211.38 L109.6 211.01 L109.8 210.88 L110 211.01 L110.2 210.89 L110.4 210.67 L110.6 210.49 L110.8 210.58 L111 211.05 L111.2 211.12 L111.4 210.78 L111.6 210.85 L111.8 210.41 L112 210.46 L112.2 210.49 L112.4 210.12 L112.6 210.08 L112.8 210.3 L113 210.14 L113.2 209.9 L113.4 210.22 L113.6 210 L113.8 210.29 L114 209.97 L114.2 209.84 L114.4 209.9 L114.6 209.77 L114.8 209.58 L115 209.6 L115.2 209.88 L115.4 209.8 L115.6 209.94 L115.8 209 L116 209.34 L116.2 209.28 L116.4 209.41 L116.6 209.16 L116.8 209.09 L117 209.45 L117.2 209.2 L117.4 208.71 L117.6 209.49 L117.8 209.33 L118 208.74 L118.2 209.18 L118.4 208.58 L118.6 209.19 L118.8 208.65 L119 208.38 L119.2 208.49 L119.4 208.29 L119.6 208.59 L119.8 208.54 L120 208.43 L120.2 208.14 L120.4 206.85 L120.6 208.29 L120.8 207.43 L121 208.25 L121.2 208.57 L121.4 208.16 L121.6 207.82 L121.8 207.86 L122 207.82 L122.2 207.58 L122.4 207.51 L122.6 207.3 L122.8 208.21 L123 207.6 L123.2 208 L123.4 207.38 L123.6 207.48 L123.8 207.31 L124 207.56 L124.2 207.69 L124.4 207.35 L124.6 206.83 L124.8 206.72 L125 207.91 L125.2 206.86 L125.4 206.79 L125.6 207.66 L125.8 207.41 L126 207.06 L126.2 206.5 L126.4 207.95 L126.6 206.82 L126.8 206.85 L127 206.39 L127.2 205.63 L127.4 205.61 L127.6 206.55 L127.8 206.49 L128 206.06 L128.2 205.45 L128.4 205.22 L128.6 205.82 L128.8 205.08 L129 206.44 L129.2 206.53 L129.4 207.5 L129.6 206.23 L129.8 205.25 L130 205 L130.2 203.3 L130.4 205.03 L130.6 205.23 L130.8 205.89 L131 205.59 L131.2 205.5 L131.4 205.19 L131.6 205.41 L131.8 205.86 L132 204.12 L132.2 204.45 L132.4 203.75 L132.6 205.7 L132.8 205.41 L133 204.98 L133.2 203.57 L133.4 204.44 L133.6 204.09 L133.8 204.24 L134 203.98 L134.2 204.4 L134.4 203.7 L134.6 204.51 L134.8 204.01 L135 203.57 L135.2 203.63 L135.4 203.34 L135.6 204.17 L135.8 203.34 L136 203.68 L136.2 203.14 L136.4 202.3 L136.6 203.96 L136.8 202.5 L137 203.7 L137.2 203.47 L137.4 201.93 L137.6 202.4 L137.8 202.67 L138 202.41 L138.2 202.11 L138.4 203.46 L138.6 202.72 L138.8 203.13 L139 202.51 L139.2 203.01 L139.4 202.21 L139.6 202.7 L139.8 203.1 L140 202.68 L140.2 202.29 L140.4 201.81 L140.6 202.67 L140.8 202.76 L141 202.3 L141.2 201.91 L141.4 202.81 L141.6 204.14 L141.8 202.15 L142 202.57 L142.2 202.56 L142.4 200.48 L142.6 202.33 L142.8 201.72 L143 203.14 L143.2 201.98 L143.4 201.59 L143.6 201.95 L143.8 202.18 L144 201.66 L144.2 201.98 L144.4 201.08 L144.6 201.81 L144.8 202.45 L145 203.21 L145.2 202.35 L145.4 202.03 L145.6 202.6 L145.8 202.46 L146 202.85 L146.2 202.45 L146.4 201.65 L146.6 201.87 L146.8 201.79 L147 201.85 L147.2 201.76 L147.4 201.13 L147.6 200.3 L147.8 201.16 L148 200.32 L148.2 201.56 L148.4 201.5 L148.6 200.49 L148.8 201.85 L149 201.93 L149.2 201.46 L149.4 202.33 L149.6 202.42 L149.8 200.67 L150 201.9 L150.2 201.54 L150.4 201.51 L150.6 201.76 L150.8 200.86 L151 200.91 L151.2 200.77 L151.4 200.79 L151.6 201.11 L151.8 200.4 L152 200.6 L152.2 201.39 L152.4 201.05 L152.6 201.25 L152.8 200.14 L153 200.65 L153.2 200.75 L153.4 201.01 L153.6 200.7 L153.8 201.38 L154 200.91 L154.2 200.93 L154.4 200.91 L154.6 201.19 L154.8 200.66 L155 201.32 L155.2 201.02 L155.4 200.88 L155.6 200.81 L155.8 200.99 L156 201.16 L156.2 201.11 L156.4 200.87 L156.6 201.04 L156.8 200.74 L157 201.14 L157.2 200.66 L157.4 199.92 L157.6 201.09 L157.8 200.65 L158 200.21 L158.2 200.52 L158.4 200.29 L158.6 201.21 L158.8 200.69 L159 200.05 L159.2 200.66 L159.4 200.37 L159.6 201.01 L159.8 200.17 L160 199.84 L160.2 200.44 L160.4 200.32 L160.6 200.29 L160.8 199.86 L161 200.45 L161.2 200.71 L161.4 199.91 L161.6 200.55 L161.8 200.17 L162 200.73 L162.2 200.34 L162.4 200.2 L162.6 200.41 L162.8 200.29 L163 200.09 L163.2 200.28 L163.4 200.08 L163.6 199.89 L163.8 200.39 L164 200.06 L164.2 200.02 L164.4 200.11 L164.6 199.89 L164.8 199.9 L165 199.98 L165.2 199.96 L165.4 200 L165.6 200.07 L165.8 199.93 L166 199.98 L166.2 199.97 L166.4 199.84 L166.6 199.92 L166.8 199.83 L167 199.93 L167.2 199.88 L167.4 199.84 L167.6 199.76 L167.8 199.82 L168 199.77 L168.2 199.82 L168.4 199.77 L168.6 199.73 L168.8 199.78 L169 199.76 L169.2 199.7 L169.4 199.74 L169.6 199.68 L169.8 199.67 L170 199.67 L170.2 199.63 L170.4 199.63 L170.6 199.63 L170.8 199.66 L171 199.65 L171.2 199.59 L171.4 199.63 L171.6 199.58 L171.8 199.58 L172 199.58 L172.2 199.56 L172.4 199.6 L172.6 199.54 L172.8 199.49 L173 199.54 L173.2 199.49 L173.4 199.49 L173.6 199.42 L173.8 199.5 L174 199.49 L174.2 199.48 L174.4 199.48 L174.6 199.49 L174.8 199.45 L175 199.46 L175.2 199.42 L175.4 199.42 L175.6 199.45 L175.8 199.43 L176 199.39 L176.2 199.42 L176.4 199.41 L176.6 199.39 L176.8 199.42 L177 199.4 L177.2 199.37 L177.4 199.38 L177.6 199.44 L177.8 199.37 L178 199.4 L178.2 199.41 L178.4 199.41 L178.6 199.38 L178.8 199.39 L179 199.4 L179.2 199.42 L179.4 199.39 L179.6 199.38 L179.8 199.42 L180 199.42 L180.2 199.41 L180.4 199.39 L180.6 199.41 L180.8 199.4 L181 199.42 L181.2 199.37 L181.4 199.4 L181.6 199.4 L181.8 199.38 L182 199.4 L182.2 199.4 L182.4 199.39 L182.6 199.41 L182.8 199.37 L183 199.4 L183.2 199.41 L183.4 199.41 L183.6 199.42 L183.8 199.38 L184 199.37 L184.2 199.4 L184.4 199.41 L184.6 199.44 L184.8 199.41 L185 199.38 L185.2 199.42 L185.4 199.38 L185.6 199.37 L185.8 199.45 L186 199.41 L186.2 199.41 L186.4 199.41 L186.6 199.44 L186.8 199.41 L187 199.42 L187.2 199.38 L187.4 199.37 L187.6 199.43 L187.8 199.43 L188 199.41 L188.2 199.4 L188.4 199.4 L188.6 199.39 L188.8 199.43 L189 199.41 L189.2 199.41 L189.4 199.41 L189.6 199.42 L189.8 199.41 L190 199.41 L190.2 199.38 L190.4 199.41 L190.6 199.44 L190.8 199.39 L191 199.4 L191.2 199.42 L191.4 199.42 L191.6 199.41 L191.8 199.37 L192 199.41 L192.2 199.38 L192.4 199.38 L192.6 199.41 L192.8 199.39 L193 199.42 L193.2 199.46 L193.4 199.42 L193.6 199.41 L193.8 199.38 L194 199.39 L194.2 199.38 L194.4 199.39 L194.6 199.38 L194.8 199.39 L195 199.4 L195.2 199.38 L195.4 199.37 L195.6 199.37 L195.8 199.41 L196 199.4 L196.2 199.42 L196.4 199.42 L196.6 199.39 L196.8 199.41 L197 199.37 L197.2 199.45 L197.4 199.42 L197.6 199.4 L197.8 199.38 L198 199.41 L198.2 199.36 L198.4 199.38 L198.6 199.41 L198.8 199.4 L199 199.39 L199.2 199.42 L199.4 199.38 L199.6 199.41 L199.8 199.39 L200 199.38 L200.2 199.41 L200.4 199.38 L200.6 199.44 L200.8 199.39 L201 199.44 L201.2 199.38 L201.4 199.41 L201.6 199.38 L201.8 199.37 L202 199.4 L202.2 199.41 L202.4 199.37 L202.6 199.42 L202.8 199.38 L203 199.4 L203.2 199.41 L203.4 199.41 L203.6 199.36 L203.8 199.43 L204 199.41 L204.2 199.39 L204.4 199.38 L204.6 199.37 L204.8 199.37 L205 199.41 L205.2 199.39 L205.4 199.38 L205.6 199.39 L205.8 199.43 L206 199.39 L206.2 199.39 L206.4 199.43 L206.6 199.41 L206.8 199.4 L207 199.39 L207.2 199.37 L207.4 199.38 L207.6 199.39" fill="none" stroke="#0000ff" stroke-width="1.6" stroke-dasharray="1.5 1.0" stroke-linejoin="round"/>
<path d="M232.8 225.66 L233.3 225.28 L233.8 225.15 L234.3 224.75 L234.8 224.55 L235.3 223.62 L235.8 223.72 L236.3 223.26 L236.8 223.16 L237.3 222.5 L237.8 222.54 L238.3 221.41 L238.8 221.75 L239.3 221.44 L239.8 221.13 L240.3 220.33 L240.8 220.35 L241.3 219.87 L241.8 219.53 L242.3 219.23 L242.8 218.67 L243.3 218 L243.8 217.95 L244.3 216.69 L244.8 217.12 L245.3 216.27 L245.8 216.24 L246.3 215.96 L246.8 215.59 L247.3 215.02 L247.8 214.69 L248.3 214.28 L248.8 213.85 L249.3 212.38 L249.8 212.87 L250.3 211.62 L250.8 211.9 L251.3 210.91 L251.8 210.87 L252.3 209.56 L252.8 209.84 L253.3 209.01 L253.8 208.64 L254.3 207.12 L254.8 207.65 L255.3 206.78 L255.8 206.17 L256.3 205.03 L256.8 204.9 L257.3 203.92 L257.8 203.61 L258.3 202.13 L258.8 202.23 L259.3 200.64 L259.8 200.96 L260.3 200.4 L260.8 199.66 L261.3 198.43 L261.8 198.46 L262.3 196.95 L262.8 197.06 L263.3 195.26 L263.8 195.61 L264.3 193.58 L264.8 194.69 L265.3 194.09 L265.8 193.53 L266.3 192.84 L266.8 192.28 L267.3 191.59 L267.8 190.98 L268.3 190.51 L268.8 189.83 L269.3 185.13 L269.8 188.58 L270.3 186.81 L270.8 187.33 L271.3 186.24 L271.8 185.96 L272.3 184.51 L272.8 184.98 L273.3 182.98 L273.8 183.83 L274.3 181.85 L274.8 182.3 L275.3 179.78 L275.8 181.34 L276.3 180.24 L276.8 179.6 L277.3 177.9 L277.8 178.07 L278.3 177.08 L278.8 176.84 L279.3 171.85 L279.8 174.99 L280.3 173.15 L280.8 173.68 L281.3 173.07 L281.8 172.68 L282.3 171.43 L282.8 171.65 L283.3 169.69 L283.8 170.33 L284.3 169.33 L284.8 169.52 L285.3 168.28 L285.8 168.34 L286.3 167.24 L286.8 167.2 L287.3 162.75 L287.8 166.36 L288.3 165.9 L288.8 164.84 L289.3 162.29 L289.8 164.3 L290.3 162.44 L290.8 162.87 L291.3 161.11 L291.8 161.35 L292.3 158.56 L292.8 160.45 L293.3 158.91 L293.8 159.84 L294.3 157.13 L294.8 159.1 L295.3 158 L295.8 157.98 L296.3 153.15 L296.8 157.17 L297.3 154.58 L297.8 156.21 L298.3 154.18 L298.8 155.57 L299.3 154.04 L299.8 154.81 L300.3 154.3 L300.8 154.01 L301.3 152.7 L301.8 153.16 L302.3 151.14 L302.8 152.37 L303.3 148.08 L303.8 151.73 L304.3 147.81 L304.8 150.29 L305.3 149.27 L305.8 150.37 L306.3 146.36 L306.8 149.05 L307.3 143.58 L307.8 148.82 L308.3 145.41 L308.8 148.32 L309.3 147.75 L309.8 147.74 L310.3 145.48 L310.8 146.81 L311.3 144.29 L311.8 146.3 L312.3 144 L312.8 145.52 L313.3 144.95 L313.8 145.57 L314.3 142.92 L314.8 145.3 L315.3 145.04 L315.8 145.35 L316.3 145.79 L316.8 145.74 L317.3 144.8 L317.8 146.02 L318.3 144.76 L318.8 145.73 L319.3 144.69 L319.8 145.56 L320.3 145.61 L320.8 145.33 L321.3 144.5 L321.8 145.07 L322.3 143.19 L322.8 144.67 L323.3 143.17 L323.8 143.91 L324.3 142.28 L324.8 143.91 L325.3 143.46 L325.8 143.49 L326.3 143.35 L326.8 142.92 L327.3 141.82 L327.8 142.77 L328.3 141.94 L328.8 142.45 L329.3 142.22 L329.8 142.45 L330.3 140.98 L330.8 142.22 L331.3 141.86 L331.8 142 L332.3 139.82 L332.8 141.74 L333.3 140.49 L333.8 141.6 L334.3 140.83 L334.8 141.39 L335.3 141.34 L335.8 141.31 L336.3 139.61 L336.8 141.13 L337.3 139.68 L337.8 140.93 L338.3 140.56 L338.8 140.81 L339.3 138.95 L339.8 140.59 L340.3 140.08 L340.8 140.5 L341.3 140.29 L341.8 140.26 L342.3 139.43 L342.8 140.09 L343.3 139.36 L343.8 140.07 L344.3 139.33 L344.8 139.96 L345.3 139.03 L345.8 139.78 L346.3 138.53 L346.8 139.79 L347.3 138.76 L347.8 139.69 L348.3 139.43 L348.8 139.46 L349.3 138.04 L349.8 139.41 L350.3 139.35 L350.8 139.49 L351.3 139.29 L351.8 139.39 L352.3 138.99 L352.8 139.14 L353.3 139.11 L353.8 139.19 L354.3 138.45 L354.8 139.15 L355.3 139.09 L355.8 139.11 L356.3 138.19 L356.8 139.02 L357.3 137.79 L357.8 138.91 L358.3 137.95 L358.8 138.93 L359.3 138.56 L359.8 138.86 L360.3 138.2 L360.8 138.76 L361.3 138.36 L361.8 138.71 L362.3 138.43 L362.8 138.76 L363.3 138.33 L363.8 138.68 L364.3 138.71 L364.8 138.63 L365.3 138.65 L365.8 138.61 L366.3 137.86 L366.8 138.54 L367.3 138.22 L367.8 138.55 L368.3 138.5 L368.8 138.67 L369.3 138.39 L369.8 138.63 L370.3 137.87 L370.8 138.46 L371.3 138.16 L371.8 138.48 L372.3 138.66 L372.8 138.68 L373.3 138.26 L373.8 138.52 L374.3 138 L374.8 138.68 L375.3 138.58 L375.8 138.64 L376.3 138.6 L376.8 138.64 L377.3 138.46 L377.8 138.71 L378.3 138.33 L378.8 138.66 L379.3 138.65 L379.8 138.72 L380.3 138.07 L380.8 138.62 L381.3 138.68 L381.8 138.65 L382.3 138.15 L382.8 138.73 L383.3 138.52 L383.8 138.82 L384.3 138.69 L384.8 138.84 L385.3 138.54 L385.8 138.88 L386.3 137.74 L386.8 138.73 L387.3 138.91 L387.8 138.93 L388.3 138.38 L388.8 138.89 L389.3 137.8 L389.8 139.03 L389.8 224.03 L389.3 224.16 L388.8 224.4 L388.3 224.07 L387.8 224.26 L387.3 224.1 L386.8 224.77 L386.3 224.66 L385.8 224.1 L385.3 224.37 L384.8 224.28 L384.3 224.48 L383.8 224.42 L383.3 224.22 L382.8 224.61 L382.3 224.67 L381.8 224.86 L381.3 224.92 L380.8 224.79 L380.3 224.74 L379.8 224.85 L379.3 224.49 L378.8 224.84 L378.3 225.02 L377.8 224.88 L377.3 224.71 L376.8 225.57 L376.3 225.1 L375.8 225.01 L375.3 224.81 L374.8 225.32 L374.3 225.12 L373.8 224.92 L373.3 225.77 L372.8 225.11 L372.3 225.31 L371.8 225.59 L371.3 225.34 L370.8 225.41 L370.3 225.86 L369.8 225.03 L369.3 225.64 L368.8 225.6 L368.3 225.31 L367.8 225.44 L367.3 225.7 L366.8 225.42 L366.3 225.51 L365.8 225.51 L365.3 225.78 L364.8 225.88 L364.3 225.87 L363.8 226.16 L363.3 225.9 L362.8 226.01 L362.3 226.02 L361.8 226.02 L361.3 225.97 L360.8 226.38 L360.3 226.08 L359.8 226.15 L359.3 226.22 L358.8 226.28 L358.3 226.31 L357.8 225.9 L357.3 226.82 L356.8 226.55 L356.3 226.35 L355.8 226.32 L355.3 226.47 L354.8 226.33 L354.3 226.36 L353.8 227.02 L353.3 226.57 L352.8 226.5 L352.3 226.76 L351.8 226.86 L351.3 226.52 L350.8 226.64 L350.3 226.36 L349.8 226.79 L349.3 227.04 L348.8 227.03 L348.3 227.35 L347.8 226.84 L347.3 227.01 L346.8 226.81 L346.3 227.17 L345.8 227.47 L345.3 227.47 L344.8 226.94 L344.3 227.08 L343.8 226.99 L343.3 226.95 L342.8 227.17 L342.3 227.63 L341.8 227.38 L341.3 227.77 L340.8 227.31 L340.3 227.67 L339.8 227.19 L339.3 227.95 L338.8 227.6 L338.3 227.78 L337.8 227.51 L337.3 227.25 L336.8 227.8 L336.3 228.1 L335.8 228.08 L335.3 227.62 L334.8 227.71 L334.3 228.2 L333.8 227.76 L333.3 227.87 L332.8 227.89 L332.3 227.99 L331.8 227.58 L331.3 227.72 L330.8 227.77 L330.3 228.18 L329.8 227.87 L329.3 228.11 L328.8 228.38 L328.3 227.92 L327.8 228.3 L327.3 227.88 L326.8 228.25 L326.3 228.27 L325.8 227.81 L325.3 227.59 L324.8 227.7 L324.3 228.03 L323.8 227.85 L323.3 228.02 L322.8 227.86 L322.3 227.36 L321.8 227.73 L321.3 227.51 L320.8 227.54 L320.3 227.37 L319.8 227.69 L319.3 227.89 L318.8 227.81 L318.3 227.52 L317.8 227.22 L317.3 227.14 L316.8 227.24 L316.3 227.69 L315.8 227.1 L315.3 227.34 L314.8 227.43 L314.3 227.24 L313.8 226.69 L313.3 227.24 L312.8 227.17 L312.3 226.86 L311.8 227.01 L311.3 226.86 L310.8 227.03 L310.3 227.16 L309.8 227.46 L309.3 227.09 L308.8 227.12 L308.3 227.23 L307.8 227.31 L307.3 227.09 L306.8 227.16 L306.3 227.42 L305.8 227.03 L305.3 227.17 L304.8 227.17 L304.3 227.25 L303.8 227.38 L303.3 226.92 L302.8 227.79 L302.3 227.66 L301.8 227.3 L301.3 227.28 L300.8 227.59 L300.3 226.97 L299.8 227.19 L299.3 227.34 L298.8 227.42 L298.3 228.13 L297.8 227.64 L297.3 227.37 L296.8 227.82 L296.3 227.79 L295.8 227.71 L295.3 227.76 L294.8 227.94 L294.3 227.95 L293.8 228.21 L293.3 227.82 L292.8 228.09 L292.3 227.67 L291.8 227.88 L291.3 227.57 L290.8 227.89 L290.3 228.1 L289.8 228.13 L289.3 228.4 L288.8 228 L288.3 228.1 L287.8 227.82 L287.3 227.88 L286.8 227.78 L286.3 227.61 L285.8 228.01 L285.3 227.2 L284.8 227.38 L284.3 227.04 L283.8 226.5 L283.3 226.63 L282.8 226.43 L282.3 226.26 L281.8 226.65 L281.3 226.74 L280.8 226.64 L280.3 226.45 L279.8 226.86 L279.3 226.61 L278.8 226.72 L278.3 226.32 L277.8 226.26 L277.3 226.59 L276.8 226.83 L276.3 226.8 L275.8 227.07 L275.3 227.04 L274.8 226.91 L274.3 227.05 L273.8 227.2 L273.3 227.44 L272.8 227.52 L272.3 227.32 L271.8 227.5 L271.3 227.52 L270.8 227.34 L270.3 227.3 L269.8 227.67 L269.3 228.03 L268.8 227.85 L268.3 227.77 L267.8 228.65 L267.3 228.2 L266.8 228.51 L266.3 227.99 L265.8 228.28 L265.3 228.45 L264.8 228.48 L264.3 228.81 L263.8 228.9 L263.3 228.64 L262.8 228.59 L262.3 228.87 L261.8 229.18 L261.3 229.77 L260.8 229.16 L260.3 229.36 L259.8 229.55 L259.3 229.66 L258.8 229.66 L258.3 229.9 L257.8 230.16 L257.3 230.43 L256.8 229.85 L256.3 229.97 L255.8 230.41 L255.3 230.8 L254.8 230.88 L254.3 230.88 L253.8 231.01 L253.3 231.18 L252.8 230.75 L252.3 231.17 L251.8 231.42 L251.3 231.27 L250.8 231.5 L250.3 230.94 L249.8 231.87 L249.3 231.73 L248.8 232.38 L248.3 231.67 L247.8 232.61 L247.3 232.28 L246.8 232.3 L246.3 231.73 L245.8 232.41 L245.3 232.76 L244.8 232.97 L244.3 233.6 L243.8 232.87 L243.3 233.48 L242.8 233.03 L242.3 233.34 L241.8 233.26 L241.3 233.16 L240.8 233.04 L240.3 233.25 L239.8 233.25 L239.3 233.54 L238.8 233.36 L238.3 233.32 L237.8 233.83 L237.3 234.01 L236.8 233.77 L236.3 233.8 L235.8 233.92 L235.3 234.15 L234.8 234.05 L234.3 234.04 L233.8 233.97 L233.3 234.12 L232.8 234.52Z" fill="#fff" fill-opacity=".75"/>
<path d="M232.8 225.66 L233.3 225.28 L233.8 225.15 L234.3 224.75 L234.8 224.55 L235.3 223.62 L235.8 223.72 L236.3 223.26 L236.8 223.16 L237.3 222.5 L237.8 222.54 L238.3 221.41 L238.8 221.75 L239.3 221.44 L239.8 221.13 L240.3 220.33 L240.8 220.35 L241.3 219.87 L241.8 219.53 L242.3 219.23 L242.8 218.67 L243.3 218 L243.8 217.95 L244.3 216.69 L244.8 217.12 L245.3 216.27 L245.8 216.24 L246.3 215.96 L246.8 215.59 L247.3 215.02 L247.8 214.69 L248.3 214.28 L248.8 213.85 L249.3 212.38 L249.8 212.87 L250.3 211.62 L250.8 211.9 L251.3 210.91 L251.8 210.87 L252.3 209.56 L252.8 209.84 L253.3 209.01 L253.8 208.64 L254.3 207.12 L254.8 207.65 L255.3 206.78 L255.8 206.17 L256.3 205.03 L256.8 204.9 L257.3 203.92 L257.8 203.61 L258.3 202.13 L258.8 202.23 L259.3 200.64 L259.8 200.96 L260.3 200.4 L260.8 199.66 L261.3 198.43 L261.8 198.46 L262.3 196.95 L262.8 197.06 L263.3 195.26 L263.8 195.61 L264.3 193.58 L264.8 194.69 L265.3 194.09 L265.8 193.53 L266.3 192.84 L266.8 192.28 L267.3 191.59 L267.8 190.98 L268.3 190.51 L268.8 189.83 L269.3 185.13 L269.8 188.58 L270.3 186.81 L270.8 187.33 L271.3 186.24 L271.8 185.96 L272.3 184.51 L272.8 184.98 L273.3 182.98 L273.8 183.83 L274.3 181.85 L274.8 182.3 L275.3 179.78 L275.8 181.34 L276.3 180.24 L276.8 179.6 L277.3 177.9 L277.8 178.07 L278.3 177.08 L278.8 176.84 L279.3 171.85 L279.8 174.99 L280.3 173.15 L280.8 173.68 L281.3 173.07 L281.8 172.68 L282.3 171.43 L282.8 171.65 L283.3 169.69 L283.8 170.33 L284.3 169.33 L284.8 169.52 L285.3 168.28 L285.8 168.34 L286.3 167.24 L286.8 167.2 L287.3 162.75 L287.8 166.36 L288.3 165.9 L288.8 164.84 L289.3 162.29 L289.8 164.3 L290.3 162.44 L290.8 162.87 L291.3 161.11 L291.8 161.35 L292.3 158.56 L292.8 160.45 L293.3 158.91 L293.8 159.84 L294.3 157.13 L294.8 159.1 L295.3 158 L295.8 157.98 L296.3 153.15 L296.8 157.17 L297.3 154.58 L297.8 156.21 L298.3 154.18 L298.8 155.57 L299.3 154.04 L299.8 154.81 L300.3 154.3 L300.8 154.01 L301.3 152.7 L301.8 153.16 L302.3 151.14 L302.8 152.37 L303.3 148.08 L303.8 151.73 L304.3 147.81 L304.8 150.29 L305.3 149.27 L305.8 150.37 L306.3 146.36 L306.8 149.05 L307.3 143.58 L307.8 148.82 L308.3 145.41 L308.8 148.32 L309.3 147.75 L309.8 147.74 L310.3 145.48 L310.8 146.81 L311.3 144.29 L311.8 146.3 L312.3 144 L312.8 145.52 L313.3 144.95 L313.8 145.57 L314.3 142.92 L314.8 145.3 L315.3 145.04 L315.8 145.35 L316.3 145.79 L316.8 145.74 L317.3 144.8 L317.8 146.02 L318.3 144.76 L318.8 145.73 L319.3 144.69 L319.8 145.56 L320.3 145.61 L320.8 145.33 L321.3 144.5 L321.8 145.07 L322.3 143.19 L322.8 144.67 L323.3 143.17 L323.8 143.91 L324.3 142.28 L324.8 143.91 L325.3 143.46 L325.8 143.49 L326.3 143.35 L326.8 142.92 L327.3 141.82 L327.8 142.77 L328.3 141.94 L328.8 142.45 L329.3 142.22 L329.8 142.45 L330.3 140.98 L330.8 142.22 L331.3 141.86 L331.8 142 L332.3 139.82 L332.8 141.74 L333.3 140.49 L333.8 141.6 L334.3 140.83 L334.8 141.39 L335.3 141.34 L335.8 141.31 L336.3 139.61 L336.8 141.13 L337.3 139.68 L337.8 140.93 L338.3 140.56 L338.8 140.81 L339.3 138.95 L339.8 140.59 L340.3 140.08 L340.8 140.5 L341.3 140.29 L341.8 140.26 L342.3 139.43 L342.8 140.09 L343.3 139.36 L343.8 140.07 L344.3 139.33 L344.8 139.96 L345.3 139.03 L345.8 139.78 L346.3 138.53 L346.8 139.79 L347.3 138.76 L347.8 139.69 L348.3 139.43 L348.8 139.46 L349.3 138.04 L349.8 139.41 L350.3 139.35 L350.8 139.49 L351.3 139.29 L351.8 139.39 L352.3 138.99 L352.8 139.14 L353.3 139.11 L353.8 139.19 L354.3 138.45 L354.8 139.15 L355.3 139.09 L355.8 139.11 L356.3 138.19 L356.8 139.02 L357.3 137.79 L357.8 138.91 L358.3 137.95 L358.8 138.93 L359.3 138.56 L359.8 138.86 L360.3 138.2 L360.8 138.76 L361.3 138.36 L361.8 138.71 L362.3 138.43 L362.8 138.76 L363.3 138.33 L363.8 138.68 L364.3 138.71 L364.8 138.63 L365.3 138.65 L365.8 138.61 L366.3 137.86 L366.8 138.54 L367.3 138.22 L367.8 138.55 L368.3 138.5 L368.8 138.67 L369.3 138.39 L369.8 138.63 L370.3 137.87 L370.8 138.46 L371.3 138.16 L371.8 138.48 L372.3 138.66 L372.8 138.68 L373.3 138.26 L373.8 138.52 L374.3 138 L374.8 138.68 L375.3 138.58 L375.8 138.64 L376.3 138.6 L376.8 138.64 L377.3 138.46 L377.8 138.71 L378.3 138.33 L378.8 138.66 L379.3 138.65 L379.8 138.72 L380.3 138.07 L380.8 138.62 L381.3 138.68 L381.8 138.65 L382.3 138.15 L382.8 138.73 L383.3 138.52 L383.8 138.82 L384.3 138.69 L384.8 138.84 L385.3 138.54 L385.8 138.88 L386.3 137.74 L386.8 138.73 L387.3 138.91 L387.8 138.93 L388.3 138.38 L388.8 138.89 L389.3 137.8 L389.8 139.03 L389.8 224.03 L389.3 224.16 L388.8 224.4 L388.3 224.07 L387.8 224.26 L387.3 224.1 L386.8 224.77 L386.3 224.66 L385.8 224.1 L385.3 224.37 L384.8 224.28 L384.3 224.48 L383.8 224.42 L383.3 224.22 L382.8 224.61 L382.3 224.67 L381.8 224.86 L381.3 224.92 L380.8 224.79 L380.3 224.74 L379.8 224.85 L379.3 224.49 L378.8 224.84 L378.3 225.02 L377.8 224.88 L377.3 224.71 L376.8 225.57 L376.3 225.1 L375.8 225.01 L375.3 224.81 L374.8 225.32 L374.3 225.12 L373.8 224.92 L373.3 225.77 L372.8 225.11 L372.3 225.31 L371.8 225.59 L371.3 225.34 L370.8 225.41 L370.3 225.86 L369.8 225.03 L369.3 225.64 L368.8 225.6 L368.3 225.31 L367.8 225.44 L367.3 225.7 L366.8 225.42 L366.3 225.51 L365.8 225.51 L365.3 225.78 L364.8 225.88 L364.3 225.87 L363.8 226.16 L363.3 225.9 L362.8 226.01 L362.3 226.02 L361.8 226.02 L361.3 225.97 L360.8 226.38 L360.3 226.08 L359.8 226.15 L359.3 226.22 L358.8 226.28 L358.3 226.31 L357.8 225.9 L357.3 226.82 L356.8 226.55 L356.3 226.35 L355.8 226.32 L355.3 226.47 L354.8 226.33 L354.3 226.36 L353.8 227.02 L353.3 226.57 L352.8 226.5 L352.3 226.76 L351.8 226.86 L351.3 226.52 L350.8 226.64 L350.3 226.36 L349.8 226.79 L349.3 227.04 L348.8 227.03 L348.3 227.35 L347.8 226.84 L347.3 227.01 L346.8 226.81 L346.3 227.17 L345.8 227.47 L345.3 227.47 L344.8 226.94 L344.3 227.08 L343.8 226.99 L343.3 226.95 L342.8 227.17 L342.3 227.63 L341.8 227.38 L341.3 227.77 L340.8 227.31 L340.3 227.67 L339.8 227.19 L339.3 227.95 L338.8 227.6 L338.3 227.78 L337.8 227.51 L337.3 227.25 L336.8 227.8 L336.3 228.1 L335.8 228.08 L335.3 227.62 L334.8 227.71 L334.3 228.2 L333.8 227.76 L333.3 227.87 L332.8 227.89 L332.3 227.99 L331.8 227.58 L331.3 227.72 L330.8 227.77 L330.3 228.18 L329.8 227.87 L329.3 228.11 L328.8 228.38 L328.3 227.92 L327.8 228.3 L327.3 227.88 L326.8 228.25 L326.3 228.27 L325.8 227.81 L325.3 227.59 L324.8 227.7 L324.3 228.03 L323.8 227.85 L323.3 228.02 L322.8 227.86 L322.3 227.36 L321.8 227.73 L321.3 227.51 L320.8 227.54 L320.3 227.37 L319.8 227.69 L319.3 227.89 L318.8 227.81 L318.3 227.52 L317.8 227.22 L317.3 227.14 L316.8 227.24 L316.3 227.69 L315.8 227.1 L315.3 227.34 L314.8 227.43 L314.3 227.24 L313.8 226.69 L313.3 227.24 L312.8 227.17 L312.3 226.86 L311.8 227.01 L311.3 226.86 L310.8 227.03 L310.3 227.16 L309.8 227.46 L309.3 227.09 L308.8 227.12 L308.3 227.23 L307.8 227.31 L307.3 227.09 L306.8 227.16 L306.3 227.42 L305.8 227.03 L305.3 227.17 L304.8 227.17 L304.3 227.25 L303.8 227.38 L303.3 226.92 L302.8 227.79 L302.3 227.66 L301.8 227.3 L301.3 227.28 L300.8 227.59 L300.3 226.97 L299.8 227.19 L299.3 227.34 L298.8 227.42 L298.3 228.13 L297.8 227.64 L297.3 227.37 L296.8 227.82 L296.3 227.79 L295.8 227.71 L295.3 227.76 L294.8 227.94 L294.3 227.95 L293.8 228.21 L293.3 227.82 L292.8 228.09 L292.3 227.67 L291.8 227.88 L291.3 227.57 L290.8 227.89 L290.3 228.1 L289.8 228.13 L289.3 228.4 L288.8 228 L288.3 228.1 L287.8 227.82 L287.3 227.88 L286.8 227.78 L286.3 227.61 L285.8 228.01 L285.3 227.2 L284.8 227.38 L284.3 227.04 L283.8 226.5 L283.3 226.63 L282.8 226.43 L282.3 226.26 L281.8 226.65 L281.3 226.74 L280.8 226.64 L280.3 226.45 L279.8 226.86 L279.3 226.61 L278.8 226.72 L278.3 226.32 L277.8 226.26 L277.3 226.59 L276.8 226.83 L276.3 226.8 L275.8 227.07 L275.3 227.04 L274.8 226.91 L274.3 227.05 L273.8 227.2 L273.3 227.44 L272.8 227.52 L272.3 227.32 L271.8 227.5 L271.3 227.52 L270.8 227.34 L270.3 227.3 L269.8 227.67 L269.3 228.03 L268.8 227.85 L268.3 227.77 L267.8 228.65 L267.3 228.2 L266.8 228.51 L266.3 227.99 L265.8 228.28 L265.3 228.45 L264.8 228.48 L264.3 228.81 L263.8 228.9 L263.3 228.64 L262.8 228.59 L262.3 228.87 L261.8 229.18 L261.3 229.77 L260.8 229.16 L260.3 229.36 L259.8 229.55 L259.3 229.66 L258.8 229.66 L258.3 229.9 L257.8 230.16 L257.3 230.43 L256.8 229.85 L256.3 229.97 L255.8 230.41 L255.3 230.8 L254.8 230.88 L254.3 230.88 L253.8 231.01 L253.3 231.18 L252.8 230.75 L252.3 231.17 L251.8 231.42 L251.3 231.27 L250.8 231.5 L250.3 230.94 L249.8 231.87 L249.3 231.73 L248.8 232.38 L248.3 231.67 L247.8 232.61 L247.3 232.28 L246.8 232.3 L246.3 231.73 L245.8 232.41 L245.3 232.76 L244.8 232.97 L244.3 233.6 L243.8 232.87 L243.3 233.48 L242.8 233.03 L242.3 233.34 L241.8 233.26 L241.3 233.16 L240.8 233.04 L240.3 233.25 L239.8 233.25 L239.3 233.54 L238.8 233.36 L238.3 233.32 L237.8 233.83 L237.3 234.01 L236.8 233.77 L236.3 233.8 L235.8 233.92 L235.3 234.15 L234.8 234.05 L234.3 234.04 L233.8 233.97 L233.3 234.12 L232.8 234.52Z" fill="url(#st)"/>
<path d="M232.8 222.91 L233 223.05 L233.2 222.5 L233.4 223.15 L233.6 222.47 L233.8 222.95 L234 222.69 L234.2 223.06 L234.4 222.47 L234.6 222.88 L234.8 221.87 L235 222.52 L235.2 222.03 L235.4 222.15 L235.6 222.01 L235.8 222.35 L236 220.77 L236.2 221.87 L236.4 220.84 L236.6 222.14 L236.8 220.39 L237 220.8 L237.2 220.34 L237.4 222 L237.6 220.34 L237.8 220.99 L238 220.54 L238.2 219.76 L238.4 220.44 L238.6 220.88 L238.8 220.32 L239 220.82 L239.2 220.01 L239.4 220.1 L239.6 219.78 L239.8 220.06 L240 220.78 L240.2 219.84 L240.4 219.64 L240.6 219.1 L240.8 218.92 L241 219.96 L241.2 218.5 L241.4 218.49 L241.6 218.8 L241.8 218.51 L242 219.59 L242.2 217.31 L242.4 218.54 L242.6 218.59 L242.8 217.59 L243 217.69 L243.2 218.08 L243.4 218.5 L243.6 217.2 L243.8 216.78 L244 217.78 L244.2 217.88 L244.4 216.94 L244.6 216.01 L244.8 217.4 L245 216.57 L245.2 216.95 L245.4 216.34 L245.6 216.06 L245.8 215.88 L246 216.44 L246.2 216.26 L246.4 214.84 L246.6 215.11 L246.8 215.87 L247 214.99 L247.2 214.51 L247.4 214.79 L247.6 214.59 L247.8 214.43 L248 214.15 L248.2 214.03 L248.4 213.83 L248.6 213.87 L248.8 213.4 L249 213.37 L249.2 213.24 L249.4 213.42 L249.6 213.02 L249.8 212.73 L250 212.7 L250.2 212.5 L250.4 212.46 L250.6 212.17 L250.8 212.24 L251 211.97 L251.2 211.54 L251.4 211.3 L251.6 211.35 L251.8 211.11 L252 210.84 L252.2 210.45 L252.4 210.24 L252.6 210.39 L252.8 210.28 L253 210.11 L253.2 209.66 L253.4 209.79 L253.6 209.42 L253.8 209.36 L254 209.19 L254.2 208.87 L254.4 208.72 L254.6 208.39 L254.8 208.34 L255 208.07 L255.2 208.11 L255.4 207.9 L255.6 207.79 L255.8 207.56 L256 207.29 L256.2 207.19 L256.4 206.95 L256.6 206.84 L256.8 206.63 L257 206.35 L257.2 206.24 L257.4 206.06 L257.6 205.85 L257.8 205.74 L258 205.61 L258.2 205.29 L258.4 205.11 L258.6 204.81 L258.8 204.75 L259 204.55 L259.2 204.27 L259.4 204.22 L259.6 204.05 L259.8 203.8 L260 203.64 L260.2 203.42 L260.4 203.33 L260.6 203.03 L260.8 202.91 L261 202.84 L261.2 202.57 L261.4 202.41 L261.6 202.21 L261.8 201.98 L262 201.86 L262.2 201.71 L262.4 201.47 L262.6 201.36 L262.8 201.23 L263 201.05 L263.2 200.76 L263.4 200.62 L263.6 200.43 L263.8 200.37 L264 200.19 L264.2 200.03 L264.4 199.79 L264.6 199.62 L264.8 199.51 L265 199.34 L265.2 199.14 L265.4 199.02 L265.6 198.88 L265.8 198.7 L266 198.49 L266.2 198.28 L266.4 198.2 L266.6 198.06 L266.8 197.88 L267 197.71 L267.2 197.55 L267.4 197.44 L267.6 197.25 L267.8 197.1 L268 196.9 L268.2 196.76 L268.4 196.63 L268.6 196.43 L268.8 196.26 L269 196.14 L269.2 196.05 L269.4 195.85 L269.6 195.74 L269.8 195.52 L270 195.36 L270.2 195.16 L270.4 195.03 L270.6 194.96 L270.8 194.76 L271 194.61 L271.2 194.46 L271.4 194.27 L271.6 194.1 L271.8 193.96 L272 193.82 L272.2 193.66 L272.4 193.5 L272.6 193.33 L272.8 193.13 L273 192.99 L273.2 192.8 L273.4 192.72 L273.6 192.43 L273.8 192.34 L274 192.28 L274.2 192 L274.4 191.8 L274.6 191.68 L274.8 191.56 L275 191.33 L275.2 191.19 L275.4 191 L275.6 190.81 L275.8 190.78 L276 190.49 L276.2 190.29 L276.4 190.12 L276.6 189.98 L276.8 189.81 L277 189.65 L277.2 189.46 L277.4 189.22 L277.6 189.13 L277.8 188.93 L278 188.76 L278.2 188.54 L278.4 188.41 L278.6 188.24 L278.8 188.1 L279 187.88 L279.2 187.77 L279.4 187.61 L279.6 187.4 L279.8 187.26 L280 187.09 L280.2 187.01 L280.4 186.72 L280.6 186.65 L280.8 186.45 L281 186.35 L281.2 186.25 L281.4 186.05 L281.6 185.93 L281.8 185.76 L282 185.73 L282.2 185.55 L282.4 185.43 L282.6 185.2 L282.8 185.08 L283 185.04 L283.2 184.87 L283.4 184.75 L283.6 184.66 L283.8 184.49 L284 184.46 L284.2 184.32 L284.4 184.24 L284.6 184.09 L284.8 184.04 L285 183.89 L285.2 183.86 L285.4 183.77 L285.6 183.67 L285.8 183.55 L286 183.46 L286.2 183.23 L286.4 183.28 L286.6 183.13 L286.8 183.05 L287 182.93 L287.2 182.78 L287.4 182.71 L287.6 182.65 L287.8 182.57 L288 182.38 L288.2 182.25 L288.4 182.22 L288.6 182.01 L288.8 182 L289 181.8 L289.2 181.64 L289.4 181.58 L289.6 181.48 L289.8 181.23 L290 181.22 L290.2 181.01 L290.4 180.95 L290.6 180.74 L290.8 180.55 L291 180.5 L291.2 180.38 L291.4 180.29 L291.6 180.13 L291.8 179.95 L292 179.77 L292.2 179.62 L292.4 179.49 L292.6 179.32 L292.8 179.2 L293 178.97 L293.2 178.93 L293.4 178.78 L293.6 178.74 L293.8 178.53 L294 178.33 L294.2 178.23 L294.4 178.02 L294.6 177.9 L294.8 177.71 L295 177.7 L295.2 177.52 L295.4 177.31 L295.6 177.21 L295.8 177.11 L296 176.96 L296.2 176.81 L296.4 176.63 L296.6 176.5 L296.8 176.39 L297 176.29 L297.2 176.09 L297.4 175.94 L297.6 175.9 L297.8 175.69 L298 175.64 L298.2 175.48 L298.4 175.38 L298.6 175.29 L298.8 175.12 L299 174.99 L299.2 174.8 L299.4 174.68 L299.6 174.61 L299.8 174.51 L300 174.38 L300.2 174.29 L300.4 174.09 L300.6 173.96 L300.8 173.86 L301 173.7 L301.2 173.57 L301.4 173.4 L301.6 173.36 L301.8 173.15 L302 173.09 L302.2 172.89 L302.4 172.87 L302.6 172.66 L302.8 172.61 L303 172.39 L303.2 172.31 L303.4 172.26 L303.6 172.06 L303.8 171.97 L304 171.83 L304.2 171.64 L304.4 171.62 L304.6 171.51 L304.8 171.33 L305 171.28 L305.2 171.11 L305.4 170.99 L305.6 170.91 L305.8 170.77 L306 170.78 L306.2 170.51 L306.4 170.49 L306.6 170.39 L306.8 170.16 L307 170.06 L307.2 170.05 L307.4 169.9 L307.6 169.83 L307.8 169.75 L308 169.59 L308.2 169.45 L308.4 169.28 L308.6 169.3 L308.8 169.15 L309 169.1 L309.2 169 L309.4 168.83 L309.6 168.86 L309.8 168.73 L310 168.63 L310.2 168.45 L310.4 168.38 L310.6 168.28 L310.8 168.19 L311 168.07 L311.2 168.03 L311.4 167.93 L311.6 167.84 L311.8 167.71 L312 167.69 L312.2 167.56 L312.4 167.35 L312.6 167.34 L312.8 167.27 L313 167.22 L313.2 167.08 L313.4 166.99 L313.6 166.89 L313.8 166.85 L314 166.72 L314.2 166.62 L314.4 166.53 L314.6 166.49 L314.8 166.36 L315 166.23 L315.2 166.23 L315.4 166.09 L315.6 166.05 L315.8 165.96 L316 165.91 L316.2 165.81 L316.4 165.66 L316.6 165.59 L316.8 165.46 L317 165.5 L317.2 165.36 L317.4 165.31 L317.6 165.16 L317.8 165 L318 165.06 L318.2 164.92 L318.4 164.83 L318.6 164.75 L318.8 164.68 L319 164.59 L319.2 164.42 L319.4 164.44 L319.6 164.3 L319.8 164.21 L320 164.22 L320.2 164.1 L320.4 163.96 L320.6 163.82 L320.8 163.81 L321 163.74 L321.2 163.64 L321.4 163.51 L321.6 163.44 L321.8 163.34 L322 163.31 L322.2 163.25 L322.4 163.18 L322.6 163.03 L322.8 162.98 L323 162.92 L323.2 162.79 L323.4 162.73 L323.6 162.74 L323.8 162.58 L324 162.53 L324.2 162.39 L324.4 162.33 L324.6 162.19 L324.8 162.18 L325 162.15 L325.2 162.11 L325.4 161.99 L325.6 161.9 L325.8 161.8 L326 161.69 L326.2 161.64 L326.4 161.59 L326.6 161.46 L326.8 161.46 L327 161.31 L327.2 161.21 L327.4 161.17 L327.6 161.07 L327.8 161.01 L328 161.05 L328.2 160.92 L328.4 160.87 L328.6 160.84 L328.8 160.78 L329 160.64 L329.2 160.65 L329.4 160.55 L329.6 160.46 L329.8 160.42 L330 160.28 L330.2 160.24 L330.4 160.2 L330.6 160.17 L330.8 160.06 L331 160.01 L331.2 159.99 L331.4 159.95 L331.6 159.86 L331.8 159.82 L332 159.69 L332.2 159.63 L332.4 159.6 L332.6 159.51 L332.8 159.44 L333 159.47 L333.2 159.34 L333.4 159.25 L333.6 159.25 L333.8 159.24 L334 159.11 L334.2 159.1 L334.4 158.98 L334.6 158.92 L334.8 158.85 L335 158.82 L335.2 158.84 L335.4 158.66 L335.6 158.72 L335.8 158.56 L336 158.53 L336.2 158.52 L336.4 158.46 L336.6 158.39 L336.8 158.26 L337 158.28 L337.2 158.17 L337.4 158.26 L337.6 158.1 L337.8 158.06 L338 157.95 L338.2 157.93 L338.4 157.84 L338.6 157.88 L338.8 157.78 L339 157.76 L339.2 157.65 L339.4 157.61 L339.6 157.63 L339.8 157.49 L340 157.4 L340.2 157.44 L340.4 157.32 L340.6 157.3 L340.8 157.3 L341 157.18 L341.2 157.2 L341.4 157.08 L341.6 157.12 L341.8 157.06 L342 156.94 L342.2 156.9 L342.4 156.83 L342.6 156.82 L342.8 156.81 L343 156.65 L343.2 156.7 L343.4 156.56 L343.6 156.53 L343.8 156.45 L344 156.56 L344.2 156.43 L344.4 156.39 L344.6 156.3 L344.8 156.33 L345 156.15 L345.2 156.19 L345.4 156.24 L345.6 156.09 L345.8 156.06 L346 156.04 L346.2 155.94 L346.4 155.93 L346.6 155.92 L346.8 155.85 L347 155.82 L347.2 155.75 L347.4 155.73 L347.6 155.68 L347.8 155.7 L348 155.63 L348.2 155.55 L348.4 155.42 L348.6 155.51 L348.8 155.47 L349 155.37 L349.2 155.29 L349.4 155.28 L349.6 155.33 L349.8 155.21 L350 155.19 L350.2 155.18 L350.4 155.18 L350.6 155.1 L350.8 155.06 L351 155 L351.2 155.05 L351.4 154.99 L351.6 154.9 L351.8 154.82 L352 154.8 L352.2 154.82 L352.4 154.73 L352.6 154.76 L352.8 154.7 L353 154.66 L353.2 154.64 L353.4 154.6 L353.6 154.51 L353.8 154.49 L354 154.56 L354.2 154.38 L354.4 154.38 L354.6 154.4 L354.8 154.32 L355 154.26 L355.2 154.2 L355.4 154.24 L355.6 154.23 L355.8 154.21 L356 154.12 L356.2 154.12 L356.4 154.01 L356.6 154.02 L356.8 153.95 L357 153.95 L357.2 153.94 L357.4 153.92 L357.6 153.81 L357.8 153.86 L358 153.76 L358.2 153.71 L358.4 153.71 L358.6 153.63 L358.8 153.65 L359 153.63 L359.2 153.58 L359.4 153.58 L359.6 153.51 L359.8 153.49 L360 153.41 L360.2 153.43 L360.4 153.37 L360.6 153.35 L360.8 153.34 L361 153.32 L361.2 153.22 L361.4 153.19 L361.6 153.21 L361.8 153.21 L362 153.18 L362.2 153.17 L362.4 153.16 L362.6 153.1 L362.8 153.05 L363 152.98 L363.2 152.96 L363.4 152.95 L363.6 152.95 L363.8 152.92 L364 152.89 L364.2 152.85 L364.4 152.86 L364.6 152.82 L364.8 152.79 L365 152.77 L365.2 152.71 L365.4 152.66 L365.6 152.7 L365.8 152.67 L366 152.62 L366.2 152.59 L366.4 152.67 L366.6 152.53 L366.8 152.53 L367 152.52 L367.2 152.44 L367.4 152.47 L367.6 152.52 L367.8 152.46 L368 152.43 L368.2 152.4 L368.4 152.36 L368.6 152.37 L368.8 152.31 L369 152.27 L369.2 152.27 L369.4 152.29 L369.6 152.24 L369.8 152.23 L370 152.1 L370.2 152.21 L370.4 152.24 L370.6 152.17 L370.8 152.09 L371 152.05 L371.2 152.07 L371.4 152 L371.6 152.05 L371.8 151.98 L372 152.01 L372.2 152.01 L372.4 151.85 L372.6 151.93 L372.8 151.87 L373 151.82 L373.2 151.83 L373.4 151.83 L373.6 151.86 L373.8 151.73 L374 151.82 L374.2 151.84 L374.4 151.76 L374.6 151.74 L374.8 151.7 L375 151.63 L375.2 151.68 L375.4 151.65 L375.6 151.65 L375.8 151.7 L376 151.61 L376.2 151.58 L376.4 151.61 L376.6 151.47 L376.8 151.46 L377 151.47 L377.2 151.45 L377.4 151.48 L377.6 151.42 L377.8 151.49 L378 151.46 L378.2 151.41 L378.4 151.35 L378.6 151.37 L378.8 151.36 L379 151.27 L379.2 151.31 L379.4 151.31 L379.6 151.27 L379.8 151.31 L380 151.28 L380.2 151.18 L380.4 151.2 L380.6 151.15 L380.8 151.19 L381 151.11 L381.2 151.17 L381.4 151.13 L381.6 151.14 L381.8 151.08 L382 151.01 L382.2 151.13 L382.4 151.04 L382.6 151.08 L382.8 151.03 L383 151.03 L383.2 151.06 L383.4 150.98 L383.6 151.01 L383.8 150.88 L384 150.96 L384.2 150.91 L384.4 150.9 L384.6 150.89 L384.8 150.89 L385 150.93 L385.2 150.78 L385.4 150.84 L385.6 150.8 L385.8 150.86 L386 150.78 L386.2 150.81 L386.4 150.76 L386.6 150.79 L386.8 150.8 L387 150.73 L387.2 150.74 L387.4 150.67 L387.6 150.72 L387.8 150.74 L388 150.67 L388.2 150.73 L388.4 150.59 L388.6 150.59 L388.8 150.6 L389 150.62 L389.2 150.64 L389.4 150.62 L389.6 150.61 L389.8 150.64 L390 150.58 L390.2 150.55" fill="none" stroke="#00ff00" stroke-width="1.55" stroke-dasharray="2.7 1.0" stroke-linejoin="round"/>
<path d="M232.8 232.6 L233 233.68 L233.2 232.15 L233.4 232.76 L233.6 233.21 L233.8 232.8 L234 232.26 L234.2 232.45 L234.4 232.66 L234.6 232.68 L234.8 231.86 L235 232.35 L235.2 232.07 L235.4 232.28 L235.6 232.29 L235.8 231.57 L236 231.07 L236.2 231.65 L236.4 232.06 L236.6 231.57 L236.8 231.3 L237 232.01 L237.2 230.63 L237.4 231.26 L237.6 230.6 L237.8 230.74 L238 230.65 L238.2 231.1 L238.4 230.06 L238.6 230.11 L238.8 229.6 L239 230.3 L239.2 229.83 L239.4 230.07 L239.6 229.39 L239.8 229.56 L240 230 L240.2 229.43 L240.4 229.63 L240.6 229.49 L240.8 229.04 L241 228.47 L241.2 229.35 L241.4 228.93 L241.6 229.14 L241.8 227.87 L242 227.9 L242.2 227.61 L242.4 227.99 L242.6 228.62 L242.8 228.33 L243 227.99 L243.2 227.94 L243.4 228.07 L243.6 227.56 L243.8 227.71 L244 227.5 L244.2 226.52 L244.4 227.07 L244.6 227.6 L244.8 226.84 L245 226.82 L245.2 226.54 L245.4 226.46 L245.6 226.92 L245.8 226.3 L246 225.92 L246.2 225.08 L246.4 225.84 L246.6 225.25 L246.8 225.19 L247 225.94 L247.2 225.79 L247.4 224.81 L247.6 225.59 L247.8 225.34 L248 224.82 L248.2 225.18 L248.4 224.32 L248.6 224.33 L248.8 224.14 L249 224.12 L249.2 224.59 L249.4 223.81 L249.6 223.75 L249.8 223.69 L250 223.89 L250.2 223.62 L250.4 223.82 L250.6 223.27 L250.8 223 L251 223.08 L251.2 223.1 L251.4 222.73 L251.6 222.92 L251.8 223.18 L252 222.46 L252.2 222.49 L252.4 222.68 L252.6 222.09 L252.8 221.92 L253 221.75 L253.2 221.97 L253.4 221.87 L253.6 221.61 L253.8 221.53 L254 221.66 L254.2 221.46 L254.4 220.88 L254.6 221.04 L254.8 220.94 L255 220.94 L255.2 220.64 L255.4 220.45 L255.6 220.36 L255.8 220.01 L256 220.2 L256.2 219.99 L256.4 220.05 L256.6 219.68 L256.8 219.66 L257 219.46 L257.2 219.33 L257.4 219.48 L257.6 219.19 L257.8 219.2 L258 218.86 L258.2 218.91 L258.4 218.55 L258.6 218.6 L258.8 218.48 L259 218.5 L259.2 218.33 L259.4 218.16 L259.6 218.16 L259.8 217.97 L260 217.89 L260.2 217.79 L260.4 217.58 L260.6 217.43 L260.8 217.38 L261 217.18 L261.2 217.14 L261.4 217.09 L261.6 216.94 L261.8 216.7 L262 216.49 L262.2 216.48 L262.4 216.35 L262.6 216.34 L262.8 216.09 L263 215.98 L263.2 215.93 L263.4 215.71 L263.6 215.61 L263.8 215.63 L264 215.48 L264.2 215.29 L264.4 215.13 L264.6 214.92 L264.8 214.9 L265 214.73 L265.2 214.62 L265.4 214.44 L265.6 214.34 L265.8 214.2 L266 214.1 L266.2 214.04 L266.4 213.84 L266.6 213.58 L266.8 213.5 L267 213.33 L267.2 213.25 L267.4 213.2 L267.6 213.06 L267.8 212.87 L268 212.78 L268.2 212.6 L268.4 212.43 L268.6 212.3 L268.8 212.2 L269 212.19 L269.2 211.92 L269.4 211.92 L269.6 211.79 L269.8 211.59 L270 211.47 L270.2 211.31 L270.4 211.21 L270.6 211.12 L270.8 210.96 L271 210.88 L271.2 210.76 L271.4 210.59 L271.6 210.47 L271.8 210.33 L272 210.22 L272.2 210.03 L272.4 209.98 L272.6 209.85 L272.8 209.68 L273 209.69 L273.2 209.44 L273.4 209.32 L273.6 209.25 L273.8 209.04 L274 208.97 L274.2 208.82 L274.4 208.73 L274.6 208.65 L274.8 208.55 L275 208.47 L275.2 208.34 L275.4 208.24 L275.6 208.1 L275.8 207.94 L276 207.89 L276.2 207.71 L276.4 207.59 L276.6 207.56 L276.8 207.42 L277 207.28 L277.2 207.19 L277.4 207.08 L277.6 206.88 L277.8 206.82 L278 206.66 L278.2 206.6 L278.4 206.46 L278.6 206.43 L278.8 206.29 L279 206.12 L279.2 206.05 L279.4 205.89 L279.6 205.83 L279.8 205.74 L280 205.62 L280.2 205.42 L280.4 205.38 L280.6 205.3 L280.8 205.19 L281 205.11 L281.2 204.91 L281.4 204.87 L281.6 204.72 L281.8 204.64 L282 204.55 L282.2 204.45 L282.4 204.29 L282.6 204.22 L282.8 204.06 L283 203.94 L283.2 203.91 L283.4 203.79 L283.6 203.62 L283.8 203.55 L284 203.48 L284.2 203.44 L284.4 203.31 L284.6 203.2 L284.8 203 L285 202.96 L285.2 202.88 L285.4 202.78 L285.6 202.68 L285.8 202.56 L286 202.54 L286.2 202.43 L286.4 202.26 L286.6 202.13 L286.8 202.15 L287 201.95 L287.2 201.92 L287.4 201.85 L287.6 201.64 L287.8 201.59 L288 201.47 L288.2 201.4 L288.4 201.3 L288.6 201.27 L288.8 201.11 L289 200.99 L289.2 200.94 L289.4 200.79 L289.6 200.68 L289.8 200.69 L290 200.47 L290.2 200.38 L290.4 200.31 L290.6 200.16 L290.8 200.02 L291 200.05 L291.2 199.88 L291.4 199.79 L291.6 199.69 L291.8 199.57 L292 199.46 L292.2 199.41 L292.4 199.4 L292.6 199.23 L292.8 199.13 L293 198.94 L293.2 198.89 L293.4 198.74 L293.6 198.72 L293.8 198.57 L294 198.48 L294.2 198.36 L294.4 198.24 L294.6 198.09 L294.8 198.07 L295 197.88 L295.2 197.78 L295.4 197.7 L295.6 197.58 L295.8 197.51 L296 197.42 L296.2 197.28 L296.4 197.17 L296.6 197.05 L296.8 196.97 L297 196.75 L297.2 196.73 L297.4 196.56 L297.6 196.44 L297.8 196.37 L298 196.24 L298.2 196.17 L298.4 196.08 L298.6 195.83 L298.8 195.8 L299 195.77 L299.2 195.61 L299.4 195.52 L299.6 195.36 L299.8 195.18 L300 195.08 L300.2 195.04 L300.4 194.94 L300.6 194.76 L300.8 194.66 L301 194.57 L301.2 194.38 L301.4 194.33 L301.6 194.29 L301.8 194.2 L302 194 L302.2 193.97 L302.4 193.77 L302.6 193.65 L302.8 193.48 L303 193.5 L303.2 193.34 L303.4 193.34 L303.6 193.15 L303.8 193.04 L304 192.86 L304.2 192.88 L304.4 192.71 L304.6 192.61 L304.8 192.43 L305 192.45 L305.2 192.35 L305.4 192.19 L305.6 192.12 L305.8 192.03 L306 191.96 L306.2 191.83 L306.4 191.79 L306.6 191.62 L306.8 191.51 L307 191.43 L307.2 191.25 L307.4 191.23 L307.6 191.21 L307.8 191.1 L308 190.97 L308.2 190.93 L308.4 190.75 L308.6 190.73 L308.8 190.68 L309 190.61 L309.2 190.47 L309.4 190.45 L309.6 190.41 L309.8 190.24 L310 190.21 L310.2 190.04 L310.4 189.95 L310.6 189.98 L310.8 189.88 L311 189.81 L311.2 189.71 L311.4 189.65 L311.6 189.62 L311.8 189.58 L312 189.43 L312.2 189.3 L312.4 189.35 L312.6 189.25 L312.8 189.18 L313 189.09 L313.2 189.1 L313.4 188.94 L313.6 188.89 L313.8 188.72 L314 188.7 L314.2 188.63 L314.4 188.58 L314.6 188.53 L314.8 188.41 L315 188.44 L315.2 188.25 L315.4 188.2 L315.6 188.16 L315.8 188.02 L316 188.02 L316.2 187.95 L316.4 187.84 L316.6 187.85 L316.8 187.7 L317 187.63 L317.2 187.51 L317.4 187.4 L317.6 187.37 L317.8 187.31 L318 187.23 L318.2 187.2 L318.4 187 L318.6 186.97 L318.8 186.87 L319 186.92 L319.2 186.77 L319.4 186.69 L319.6 186.59 L319.8 186.6 L320 186.47 L320.2 186.42 L320.4 186.25 L320.6 186.31 L320.8 186.2 L321 186.13 L321.2 186.08 L321.4 185.95 L321.6 185.87 L321.8 185.83 L322 185.75 L322.2 185.64 L322.4 185.58 L322.6 185.48 L322.8 185.45 L323 185.39 L323.2 185.28 L323.4 185.28 L323.6 185.06 L323.8 185.04 L324 185.04 L324.2 184.88 L324.4 184.76 L324.6 184.81 L324.8 184.7 L325 184.55 L325.2 184.56 L325.4 184.41 L325.6 184.32 L325.8 184.3 L326 184.21 L326.2 184.11 L326.4 184.07 L326.6 183.97 L326.8 183.94 L327 183.86 L327.2 183.82 L327.4 183.7 L327.6 183.59 L327.8 183.52 L328 183.49 L328.2 183.49 L328.4 183.39 L328.6 183.25 L328.8 183.24 L329 183.08 L329.2 183.1 L329.4 182.96 L329.6 182.94 L329.8 182.85 L330 182.74 L330.2 182.69 L330.4 182.56 L330.6 182.52 L330.8 182.49 L331 182.54 L331.2 182.32 L331.4 182.22 L331.6 182.1 L331.8 182.11 L332 181.92 L332.2 181.88 L332.4 181.85 L332.6 181.72 L332.8 181.75 L333 181.66 L333.2 181.52 L333.4 181.44 L333.6 181.34 L333.8 181.27 L334 181.27 L334.2 181.2 L334.4 181.12 L334.6 181.05 L334.8 180.95 L335 180.91 L335.2 180.77 L335.4 180.77 L335.6 180.76 L335.8 180.69 L336 180.55 L336.2 180.5 L336.4 180.5 L336.6 180.46 L336.8 180.27 L337 180.25 L337.2 180.22 L337.4 180.21 L337.6 180.07 L337.8 180.08 L338 179.99 L338.2 180.04 L338.4 179.91 L338.6 179.84 L338.8 179.79 L339 179.79 L339.2 179.73 L339.4 179.61 L339.6 179.62 L339.8 179.51 L340 179.49 L340.2 179.42 L340.4 179.38 L340.6 179.36 L340.8 179.31 L341 179.32 L341.2 179.29 L341.4 179.21 L341.6 179.13 L341.8 179.17 L342 179.01 L342.2 178.98 L342.4 179.04 L342.6 179 L342.8 178.98 L343 178.89 L343.2 178.81 L343.4 178.8 L343.6 178.81 L343.8 178.72 L344 178.68 L344.2 178.62 L344.4 178.59 L344.6 178.63 L344.8 178.58 L345 178.48 L345.2 178.45 L345.4 178.43 L345.6 178.44 L345.8 178.34 L346 178.34 L346.2 178.23 L346.4 178.23 L346.6 178.26 L346.8 178.24 L347 178.13 L347.2 178.11 L347.4 178.13 L347.6 178.05 L347.8 178.01 L348 178.02 L348.2 177.97 L348.4 177.97 L348.6 177.93 L348.8 177.84 L349 177.82 L349.2 177.79 L349.4 177.7 L349.6 177.69 L349.8 177.73 L350 177.59 L350.2 177.66 L350.4 177.6 L350.6 177.55 L350.8 177.55 L351 177.51 L351.2 177.51 L351.4 177.41 L351.6 177.39 L351.8 177.35 L352 177.41 L352.2 177.34 L352.4 177.23 L352.6 177.22 L352.8 177.18 L353 177.17 L353.2 177.15 L353.4 177.2 L353.6 177.01 L353.8 177.09 L354 177.04 L354.2 176.96 L354.4 176.95 L354.6 176.91 L354.8 176.9 L355 176.91 L355.2 176.77 L355.4 176.86 L355.6 176.76 L355.8 176.81 L356 176.73 L356.2 176.73 L356.4 176.68 L356.6 176.67 L356.8 176.6 L357 176.53 L357.2 176.56 L357.4 176.54 L357.6 176.56 L357.8 176.37 L358 176.41 L358.2 176.43 L358.4 176.31 L358.6 176.32 L358.8 176.39 L359 176.33 L359.2 176.21 L359.4 176.28 L359.6 176.24 L359.8 176.19 L360 176.15 L360.2 176.11 L360.4 176.04 L360.6 176.03 L360.8 176.05 L361 176 L361.2 176.04 L361.4 175.92 L361.6 175.81 L361.8 175.86 L362 175.86 L362.2 175.83 L362.4 175.79 L362.6 175.73 L362.8 175.79 L363 175.68 L363.2 175.71 L363.4 175.64 L363.6 175.57 L363.8 175.65 L364 175.46 L364.2 175.5 L364.4 175.53 L364.6 175.47 L364.8 175.48 L365 175.42 L365.2 175.38 L365.4 175.45 L365.6 175.33 L365.8 175.31 L366 175.24 L366.2 175.23 L366.4 175.25 L366.6 175.22 L366.8 175.17 L367 175.11 L367.2 175.14 L367.4 175.02 L367.6 175.04 L367.8 175.02 L368 174.97 L368.2 174.98 L368.4 174.92 L368.6 174.88 L368.8 174.96 L369 174.89 L369.2 174.88 L369.4 174.8 L369.6 174.81 L369.8 174.77 L370 174.76 L370.2 174.78 L370.4 174.65 L370.6 174.64 L370.8 174.6 L371 174.43 L371.2 174.49 L371.4 174.52 L371.6 174.51 L371.8 174.44 L372 174.48 L372.2 174.46 L372.4 174.36 L372.6 174.41 L372.8 174.39 L373 174.31 L373.2 174.22 L373.4 174.29 L373.6 174.2 L373.8 174.17 L374 174.16 L374.2 174.1 L374.4 174.14 L374.6 174.1 L374.8 174.09 L375 174.04 L375.2 173.95 L375.4 173.95 L375.6 173.96 L375.8 173.89 L376 173.99 L376.2 173.84 L376.4 173.8 L376.6 173.84 L376.8 173.79 L377 173.74 L377.2 173.7 L377.4 173.7 L377.6 173.69 L377.8 173.66 L378 173.59 L378.2 173.59 L378.4 173.58 L378.6 173.55 L378.8 173.37 L379 173.43 L379.2 173.4 L379.4 173.4 L379.6 173.39 L379.8 173.39 L380 173.35 L380.2 173.29 L380.4 173.27 L380.6 173.31 L380.8 173.19 L381 173.2 L381.2 173.23 L381.4 173.15 L381.6 173.03 L381.8 173.1 L382 173.04 L382.2 173.02 L382.4 173.04 L382.6 172.99 L382.8 172.94 L383 172.96 L383.2 172.91 L383.4 172.87 L383.6 172.85 L383.8 172.82 L384 172.77 L384.2 172.74 L384.4 172.74 L384.6 172.67 L384.8 172.63 L385 172.71 L385.2 172.62 L385.4 172.6 L385.6 172.57 L385.8 172.55 L386 172.52 L386.2 172.5 L386.4 172.44 L386.6 172.48 L386.8 172.39 L387 172.43 L387.2 172.29 L387.4 172.3 L387.6 172.35 L387.8 172.28 L388 172.23 L388.2 172.25 L388.4 172.17 L388.6 172.18 L388.8 172.07 L389 172.11 L389.2 172.08 L389.4 172.1 L389.6 172.09 L389.8 171.99 L390 172.06 L390.2 171.98" fill="none" stroke="#0000ff" stroke-width="1.6" stroke-dasharray="1.5 1.0" stroke-linejoin="round"/>
<path d="M415.3 223.89 L415.8 222.39 L416.3 223.93 L416.8 224.01 L417.3 223.97 L417.8 223.43 L418.3 223.81 L418.8 222.82 L419.3 223.79 L419.8 222.29 L420.3 223.6 L420.8 221.62 L421.3 223.33 L421.8 223.03 L422.3 223.2 L422.8 221.76 L423.3 222.89 L423.8 221.7 L424.3 222.47 L424.8 221.54 L425.3 221.84 L425.8 221.04 L426.3 221.08 L426.8 220 L427.3 220.52 L427.8 219.57 L428.3 219.68 L428.8 219.1 L429.3 218.85 L429.8 218.36 L430.3 218.11 L430.8 216.87 L431.3 217.44 L431.8 216.65 L432.3 216.57 L432.8 215.87 L433.3 215.81 L433.8 214.69 L434.3 214.91 L434.8 214.09 L435.3 213.82 L435.8 213.16 L436.3 212.73 L436.8 212.27 L437.3 211.58 L437.8 210.71 L438.3 210.04 L438.8 208.66 L439.3 208.41 L439.8 207.24 L440.3 206.47 L440.8 205.26 L441.3 204.48 L441.8 202.66 L442.3 201.96 L442.8 200.39 L443.3 199.46 L443.8 197.8 L444.3 196.91 L444.8 195.24 L445.3 195.05 L445.8 193.98 L446.3 193.21 L446.8 191.97 L447.3 191.13 L447.8 189.44 L448.3 189.33 L448.8 186.29 L449.3 187.47 L449.8 185.02 L450.3 185.15 L450.8 183.86 L451.3 183.28 L451.8 182.09 L452.3 181.01 L452.8 179.78 L453.3 178.28 L453.8 177.01 L454.3 175.9 L454.8 173.22 L455.3 173.31 L455.8 169.87 L456.3 170.81 L456.8 168.34 L457.3 168.24 L457.8 165.98 L458.3 165.77 L458.8 163.83 L459.3 162.75 L459.8 161.06 L460.3 160.44 L460.8 158.75 L461.3 157.32 L461.8 154.3 L462.3 154.15 L462.8 150.92 L463.3 150.74 L463.8 147.82 L464.3 147.99 L464.8 145.47 L465.3 145.45 L465.8 142.19 L466.3 142.88 L466.8 140.44 L467.3 140.71 L467.8 138.27 L468.3 138.61 L468.8 137.64 L469.3 136.74 L469.8 133.42 L470.3 134.86 L470.8 133.69 L471.3 133.28 L471.8 131.36 L472.3 131.82 L472.8 130.58 L473.3 130.74 L473.8 130.15 L474.3 129.73 L474.8 126.84 L475.3 128.45 L475.8 127.22 L476.3 127.38 L476.8 124.56 L477.3 126.05 L477.8 123.55 L478.3 124.28 L478.8 123.13 L479.3 122.96 L479.8 122.08 L480.3 121.26 L480.8 119.44 L481.3 119.81 L481.8 118.08 L482.3 118.37 L482.8 117.53 L483.3 116.99 L483.8 114.78 L484.3 115.45 L484.8 112.31 L485.3 114.29 L485.8 113.08 L486.3 112.88 L486.8 111.78 L487.3 111.66 L487.8 110.33 L488.3 110.64 L488.8 108.88 L489.3 109.41 L489.8 108.79 L490.3 108.3 L490.8 106.29 L491.3 107.16 L491.8 105.29 L492.3 106.13 L492.8 104.56 L493.3 105.32 L493.8 104.45 L494.3 104.39 L494.8 102.91 L495.3 103.9 L495.8 103.22 L496.3 103.16 L496.8 102.89 L497.3 102.63 L497.8 102.08 L498.3 102.04 L498.8 99.82 L499.3 101.22 L499.8 100.08 L500.3 100.4 L500.8 99.48 L501.3 99.78 L501.8 98.98 L502.3 98.91 L502.8 98.32 L503.3 98.01 L503.8 95.85 L504.3 97.16 L504.8 95.22 L505.3 96.26 L505.8 95.44 L506.3 95.49 L506.8 94.8 L507.3 94.86 L507.8 93.46 L508.3 94.22 L508.8 93.22 L509.3 93.62 L509.8 93 L510.3 93.15 L510.8 92 L511.3 92.73 L511.8 92.12 L512.3 92.14 L512.8 91.68 L513.3 91.81 L513.8 91.46 L514.3 91.32 L514.8 90.65 L515.3 90.88 L515.8 90.33 L516.3 90.54 L516.8 89.16 L517.3 90.02 L517.8 89.76 L518.3 89.79 L518.8 88.93 L519.3 89.38 L519.8 89.04 L520.3 89.1 L520.8 88.56 L521.3 88.76 L521.8 87.79 L522.3 88.42 L522.8 87.28 L523.3 87.99 L523.8 87.24 L524.3 87.78 L524.8 87.57 L525.3 87.51 L525.8 86.82 L526.3 87.23 L526.8 86.72 L527.3 86.97 L527.8 86.71 L528.3 86.75 L528.8 86.13 L529.3 86.48 L529.8 86.26 L530.3 86.29 L530.8 85.66 L531.3 86.07 L531.8 85.46 L532.3 86 L532.8 85.76 L533.3 85.88 L533.8 85.4 L534.3 85.72 L534.8 85.23 L535.3 85.6 L535.8 84.72 L536.3 85.49 L536.8 84.98 L537.3 85.37 L537.8 85.03 L538.3 85.25 L538.8 84.95 L539.3 85.17 L539.8 84.81 L540.3 85.07 L540.8 85.01 L541.3 84.91 L541.8 84.33 L542.3 84.86 L542.8 84.56 L543.3 84.75 L543.8 84.68 L544.3 84.63 L544.8 84.54 L545.3 84.61 L545.8 84.3 L546.3 84.48 L546.8 84.38 L547.3 84.44 L547.8 84.37 L548.3 84.28 L548.8 84.28 L549.3 84.22 L549.8 83.84 L550.3 84.24 L550.8 83.91 L551.3 84.18 L551.8 83.88 L552.3 84.12 L552.8 83.8 L553.3 84.06 L553.8 84.05 L554.3 84 L554.8 83.73 L555.3 83.82 L555.8 83.85 L556.3 83.84 L556.8 83.85 L557.3 83.84 L557.8 83.82 L558.3 83.76 L558.8 83.25 L559.3 83.78 L559.8 83.74 L560.3 83.65 L560.8 83.51 L561.3 83.7 L561.8 83.51 L562.3 83.62 L562.8 82.61 L563.3 83.6 L563.8 83.03 L564.3 83.54 L564.8 83.45 L565.3 83.53 L565.8 83.51 L566.3 83.47 L566.8 83.33 L567.3 83.47 L567.8 83.05 L568.3 83.43 L568.8 83.33 L569.3 83.4 L569.8 83.28 L570.3 83.41 L570.8 83.41 L571.3 83.4 L571.8 82.77 L572.3 83.37 L572.3 217.01 L571.8 216.96 L571.3 216.88 L570.8 217.67 L570.3 217.03 L569.8 217.29 L569.3 217.21 L568.8 217.23 L568.3 217.65 L567.8 217.35 L567.3 217.66 L566.8 217.7 L566.3 218.01 L565.8 217.23 L565.3 218.13 L564.8 217.95 L564.3 217.65 L563.8 218.48 L563.3 217.79 L562.8 218.26 L562.3 218.32 L561.8 217.7 L561.3 218.03 L560.8 218.37 L560.3 217.63 L559.8 218.14 L559.3 217.72 L558.8 218.11 L558.3 218.12 L557.8 218.14 L557.3 217.63 L556.8 218.19 L556.3 218.09 L555.8 217.68 L555.3 217.97 L554.8 218.06 L554.3 218.44 L553.8 218.36 L553.3 217.8 L552.8 217.56 L552.3 218.2 L551.8 217.99 L551.3 218.21 L550.8 218.12 L550.3 217.86 L549.8 218.05 L549.3 217.94 L548.8 218.04 L548.3 217.93 L547.8 217.96 L547.3 217.41 L546.8 217.55 L546.3 217.88 L545.8 217.59 L545.3 217.93 L544.8 217.97 L544.3 217.49 L543.8 217.1 L543.3 217.49 L542.8 217.52 L542.3 217.07 L541.8 217.26 L541.3 217.06 L540.8 216.76 L540.3 217.09 L539.8 217.21 L539.3 216.98 L538.8 216.93 L538.3 216.99 L537.8 217.24 L537.3 217.11 L536.8 217.5 L536.3 218.57 L535.8 218.04 L535.3 218.25 L534.8 218.71 L534.3 218.86 L533.8 218.5 L533.3 219.53 L532.8 219.94 L532.3 220.26 L531.8 219.91 L531.3 219.66 L530.8 220.21 L530.3 220 L529.8 219.52 L529.3 220.33 L528.8 220.02 L528.3 219.89 L527.8 219.62 L527.3 219.24 L526.8 220.07 L526.3 219.4 L525.8 218.72 L525.3 219.46 L524.8 219.32 L524.3 219.54 L523.8 219.46 L523.3 218.9 L522.8 219.53 L522.3 219.35 L521.8 219.22 L521.3 219.23 L520.8 218.76 L520.3 219.01 L519.8 219.55 L519.3 218.93 L518.8 219.01 L518.3 219.1 L517.8 218.97 L517.3 218.87 L516.8 219.15 L516.3 218.85 L515.8 219.38 L515.3 218.85 L514.8 219.39 L514.3 219.05 L513.8 218.77 L513.3 219.75 L512.8 219.32 L512.3 219.66 L511.8 219.5 L511.3 219.71 L510.8 219.49 L510.3 219.68 L509.8 219.41 L509.3 219.8 L508.8 220.13 L508.3 220.23 L507.8 219.68 L507.3 220.36 L506.8 220.27 L506.3 220.46 L505.8 220.4 L505.3 220.41 L504.8 221.16 L504.3 221.28 L503.8 221.13 L503.3 221.65 L502.8 221.49 L502.3 221.53 L501.8 221.76 L501.3 221.65 L500.8 222.39 L500.3 222.02 L499.8 222.51 L499.3 222.76 L498.8 222.9 L498.3 222.53 L497.8 222.78 L497.3 223.62 L496.8 223.19 L496.3 223.83 L495.8 223.31 L495.3 223.94 L494.8 224.34 L494.3 224.33 L493.8 224.84 L493.3 224.44 L492.8 224.68 L492.3 225.23 L491.8 224.87 L491.3 225.31 L490.8 225.16 L490.3 225.26 L489.8 225.51 L489.3 225.66 L488.8 225.9 L488.3 226.19 L487.8 225.36 L487.3 225.71 L486.8 225.67 L486.3 226.27 L485.8 225.96 L485.3 225.92 L484.8 226.75 L484.3 226.76 L483.8 226.89 L483.3 226.44 L482.8 226.54 L482.3 226.76 L481.8 227.02 L481.3 226.47 L480.8 227.18 L480.3 227.33 L479.8 227.13 L479.3 227.5 L478.8 227.77 L478.3 227.38 L477.8 227.73 L477.3 227.91 L476.8 228.56 L476.3 228.43 L475.8 228.42 L475.3 228.07 L474.8 228.26 L474.3 228.64 L473.8 228.68 L473.3 229.18 L472.8 229.63 L472.3 229.42 L471.8 229.86 L471.3 229.67 L470.8 230.13 L470.3 230.18 L469.8 229.88 L469.3 230.41 L468.8 230.68 L468.3 231.52 L467.8 231.42 L467.3 231.5 L466.8 231.7 L466.3 231.86 L465.8 231.69 L465.3 232 L464.8 232.99 L464.3 232.66 L463.8 232.96 L463.3 232.84 L462.8 233.1 L462.3 233.61 L461.8 233.82 L461.3 233.39 L460.8 233.46 L460.3 233.55 L459.8 233.84 L459.3 233.3 L458.8 233.91 L458.3 233.81 L457.8 233.91 L457.3 233.6 L456.8 233.57 L456.3 233.7 L455.8 233.39 L455.3 233.5 L454.8 233.56 L454.3 233.68 L453.8 233.56 L453.3 233.8 L452.8 233.58 L452.3 233.36 L451.8 233.35 L451.3 233.56 L450.8 233.47 L450.3 232.89 L449.8 233.24 L449.3 233.5 L448.8 232.91 L448.3 232.63 L447.8 232.51 L447.3 233.25 L446.8 232.96 L446.3 232.97 L445.8 232.7 L445.3 233.05 L444.8 232.56 L444.3 232.43 L443.8 233.09 L443.3 233.09 L442.8 232.4 L442.3 232.27 L441.8 232.66 L441.3 232.37 L440.8 232.09 L440.3 232.49 L439.8 232.64 L439.3 232.44 L438.8 232.56 L438.3 232.94 L437.8 233.08 L437.3 233.07 L436.8 233.94 L436.3 234.13 L435.8 233.99 L435.3 234.45 L434.8 234.36 L434.3 234.78 L433.8 235.12 L433.3 235.47 L432.8 235.2 L432.3 236.11 L431.8 235.79 L431.3 235.76 L430.8 236.42 L430.3 235.9 L429.8 236.55 L429.3 236.76 L428.8 236.85 L428.3 236.71 L427.8 236.33 L427.3 236.7 L426.8 236.7 L426.3 236.87 L425.8 237.02 L425.3 237 L424.8 237.46 L424.3 237.41 L423.8 237.34 L423.3 237.53 L422.8 237.48 L422.3 237.73 L421.8 237.63 L421.3 237.36 L420.8 238.28 L420.3 237.79 L419.8 237.74 L419.3 238.12 L418.8 238.13 L418.3 238.05 L417.8 237.82 L417.3 238 L416.8 238.03 L416.3 237.75 L415.8 238.18 L415.3 238.12Z" fill="#fff" fill-opacity=".75"/>
<path d="M415.3 223.89 L415.8 222.39 L416.3 223.93 L416.8 224.01 L417.3 223.97 L417.8 223.43 L418.3 223.81 L418.8 222.82 L419.3 223.79 L419.8 222.29 L420.3 223.6 L420.8 221.62 L421.3 223.33 L421.8 223.03 L422.3 223.2 L422.8 221.76 L423.3 222.89 L423.8 221.7 L424.3 222.47 L424.8 221.54 L425.3 221.84 L425.8 221.04 L426.3 221.08 L426.8 220 L427.3 220.52 L427.8 219.57 L428.3 219.68 L428.8 219.1 L429.3 218.85 L429.8 218.36 L430.3 218.11 L430.8 216.87 L431.3 217.44 L431.8 216.65 L432.3 216.57 L432.8 215.87 L433.3 215.81 L433.8 214.69 L434.3 214.91 L434.8 214.09 L435.3 213.82 L435.8 213.16 L436.3 212.73 L436.8 212.27 L437.3 211.58 L437.8 210.71 L438.3 210.04 L438.8 208.66 L439.3 208.41 L439.8 207.24 L440.3 206.47 L440.8 205.26 L441.3 204.48 L441.8 202.66 L442.3 201.96 L442.8 200.39 L443.3 199.46 L443.8 197.8 L444.3 196.91 L444.8 195.24 L445.3 195.05 L445.8 193.98 L446.3 193.21 L446.8 191.97 L447.3 191.13 L447.8 189.44 L448.3 189.33 L448.8 186.29 L449.3 187.47 L449.8 185.02 L450.3 185.15 L450.8 183.86 L451.3 183.28 L451.8 182.09 L452.3 181.01 L452.8 179.78 L453.3 178.28 L453.8 177.01 L454.3 175.9 L454.8 173.22 L455.3 173.31 L455.8 169.87 L456.3 170.81 L456.8 168.34 L457.3 168.24 L457.8 165.98 L458.3 165.77 L458.8 163.83 L459.3 162.75 L459.8 161.06 L460.3 160.44 L460.8 158.75 L461.3 157.32 L461.8 154.3 L462.3 154.15 L462.8 150.92 L463.3 150.74 L463.8 147.82 L464.3 147.99 L464.8 145.47 L465.3 145.45 L465.8 142.19 L466.3 142.88 L466.8 140.44 L467.3 140.71 L467.8 138.27 L468.3 138.61 L468.8 137.64 L469.3 136.74 L469.8 133.42 L470.3 134.86 L470.8 133.69 L471.3 133.28 L471.8 131.36 L472.3 131.82 L472.8 130.58 L473.3 130.74 L473.8 130.15 L474.3 129.73 L474.8 126.84 L475.3 128.45 L475.8 127.22 L476.3 127.38 L476.8 124.56 L477.3 126.05 L477.8 123.55 L478.3 124.28 L478.8 123.13 L479.3 122.96 L479.8 122.08 L480.3 121.26 L480.8 119.44 L481.3 119.81 L481.8 118.08 L482.3 118.37 L482.8 117.53 L483.3 116.99 L483.8 114.78 L484.3 115.45 L484.8 112.31 L485.3 114.29 L485.8 113.08 L486.3 112.88 L486.8 111.78 L487.3 111.66 L487.8 110.33 L488.3 110.64 L488.8 108.88 L489.3 109.41 L489.8 108.79 L490.3 108.3 L490.8 106.29 L491.3 107.16 L491.8 105.29 L492.3 106.13 L492.8 104.56 L493.3 105.32 L493.8 104.45 L494.3 104.39 L494.8 102.91 L495.3 103.9 L495.8 103.22 L496.3 103.16 L496.8 102.89 L497.3 102.63 L497.8 102.08 L498.3 102.04 L498.8 99.82 L499.3 101.22 L499.8 100.08 L500.3 100.4 L500.8 99.48 L501.3 99.78 L501.8 98.98 L502.3 98.91 L502.8 98.32 L503.3 98.01 L503.8 95.85 L504.3 97.16 L504.8 95.22 L505.3 96.26 L505.8 95.44 L506.3 95.49 L506.8 94.8 L507.3 94.86 L507.8 93.46 L508.3 94.22 L508.8 93.22 L509.3 93.62 L509.8 93 L510.3 93.15 L510.8 92 L511.3 92.73 L511.8 92.12 L512.3 92.14 L512.8 91.68 L513.3 91.81 L513.8 91.46 L514.3 91.32 L514.8 90.65 L515.3 90.88 L515.8 90.33 L516.3 90.54 L516.8 89.16 L517.3 90.02 L517.8 89.76 L518.3 89.79 L518.8 88.93 L519.3 89.38 L519.8 89.04 L520.3 89.1 L520.8 88.56 L521.3 88.76 L521.8 87.79 L522.3 88.42 L522.8 87.28 L523.3 87.99 L523.8 87.24 L524.3 87.78 L524.8 87.57 L525.3 87.51 L525.8 86.82 L526.3 87.23 L526.8 86.72 L527.3 86.97 L527.8 86.71 L528.3 86.75 L528.8 86.13 L529.3 86.48 L529.8 86.26 L530.3 86.29 L530.8 85.66 L531.3 86.07 L531.8 85.46 L532.3 86 L532.8 85.76 L533.3 85.88 L533.8 85.4 L534.3 85.72 L534.8 85.23 L535.3 85.6 L535.8 84.72 L536.3 85.49 L536.8 84.98 L537.3 85.37 L537.8 85.03 L538.3 85.25 L538.8 84.95 L539.3 85.17 L539.8 84.81 L540.3 85.07 L540.8 85.01 L541.3 84.91 L541.8 84.33 L542.3 84.86 L542.8 84.56 L543.3 84.75 L543.8 84.68 L544.3 84.63 L544.8 84.54 L545.3 84.61 L545.8 84.3 L546.3 84.48 L546.8 84.38 L547.3 84.44 L547.8 84.37 L548.3 84.28 L548.8 84.28 L549.3 84.22 L549.8 83.84 L550.3 84.24 L550.8 83.91 L551.3 84.18 L551.8 83.88 L552.3 84.12 L552.8 83.8 L553.3 84.06 L553.8 84.05 L554.3 84 L554.8 83.73 L555.3 83.82 L555.8 83.85 L556.3 83.84 L556.8 83.85 L557.3 83.84 L557.8 83.82 L558.3 83.76 L558.8 83.25 L559.3 83.78 L559.8 83.74 L560.3 83.65 L560.8 83.51 L561.3 83.7 L561.8 83.51 L562.3 83.62 L562.8 82.61 L563.3 83.6 L563.8 83.03 L564.3 83.54 L564.8 83.45 L565.3 83.53 L565.8 83.51 L566.3 83.47 L566.8 83.33 L567.3 83.47 L567.8 83.05 L568.3 83.43 L568.8 83.33 L569.3 83.4 L569.8 83.28 L570.3 83.41 L570.8 83.41 L571.3 83.4 L571.8 82.77 L572.3 83.37 L572.3 217.01 L571.8 216.96 L571.3 216.88 L570.8 217.67 L570.3 217.03 L569.8 217.29 L569.3 217.21 L568.8 217.23 L568.3 217.65 L567.8 217.35 L567.3 217.66 L566.8 217.7 L566.3 218.01 L565.8 217.23 L565.3 218.13 L564.8 217.95 L564.3 217.65 L563.8 218.48 L563.3 217.79 L562.8 218.26 L562.3 218.32 L561.8 217.7 L561.3 218.03 L560.8 218.37 L560.3 217.63 L559.8 218.14 L559.3 217.72 L558.8 218.11 L558.3 218.12 L557.8 218.14 L557.3 217.63 L556.8 218.19 L556.3 218.09 L555.8 217.68 L555.3 217.97 L554.8 218.06 L554.3 218.44 L553.8 218.36 L553.3 217.8 L552.8 217.56 L552.3 218.2 L551.8 217.99 L551.3 218.21 L550.8 218.12 L550.3 217.86 L549.8 218.05 L549.3 217.94 L548.8 218.04 L548.3 217.93 L547.8 217.96 L547.3 217.41 L546.8 217.55 L546.3 217.88 L545.8 217.59 L545.3 217.93 L544.8 217.97 L544.3 217.49 L543.8 217.1 L543.3 217.49 L542.8 217.52 L542.3 217.07 L541.8 217.26 L541.3 217.06 L540.8 216.76 L540.3 217.09 L539.8 217.21 L539.3 216.98 L538.8 216.93 L538.3 216.99 L537.8 217.24 L537.3 217.11 L536.8 217.5 L536.3 218.57 L535.8 218.04 L535.3 218.25 L534.8 218.71 L534.3 218.86 L533.8 218.5 L533.3 219.53 L532.8 219.94 L532.3 220.26 L531.8 219.91 L531.3 219.66 L530.8 220.21 L530.3 220 L529.8 219.52 L529.3 220.33 L528.8 220.02 L528.3 219.89 L527.8 219.62 L527.3 219.24 L526.8 220.07 L526.3 219.4 L525.8 218.72 L525.3 219.46 L524.8 219.32 L524.3 219.54 L523.8 219.46 L523.3 218.9 L522.8 219.53 L522.3 219.35 L521.8 219.22 L521.3 219.23 L520.8 218.76 L520.3 219.01 L519.8 219.55 L519.3 218.93 L518.8 219.01 L518.3 219.1 L517.8 218.97 L517.3 218.87 L516.8 219.15 L516.3 218.85 L515.8 219.38 L515.3 218.85 L514.8 219.39 L514.3 219.05 L513.8 218.77 L513.3 219.75 L512.8 219.32 L512.3 219.66 L511.8 219.5 L511.3 219.71 L510.8 219.49 L510.3 219.68 L509.8 219.41 L509.3 219.8 L508.8 220.13 L508.3 220.23 L507.8 219.68 L507.3 220.36 L506.8 220.27 L506.3 220.46 L505.8 220.4 L505.3 220.41 L504.8 221.16 L504.3 221.28 L503.8 221.13 L503.3 221.65 L502.8 221.49 L502.3 221.53 L501.8 221.76 L501.3 221.65 L500.8 222.39 L500.3 222.02 L499.8 222.51 L499.3 222.76 L498.8 222.9 L498.3 222.53 L497.8 222.78 L497.3 223.62 L496.8 223.19 L496.3 223.83 L495.8 223.31 L495.3 223.94 L494.8 224.34 L494.3 224.33 L493.8 224.84 L493.3 224.44 L492.8 224.68 L492.3 225.23 L491.8 224.87 L491.3 225.31 L490.8 225.16 L490.3 225.26 L489.8 225.51 L489.3 225.66 L488.8 225.9 L488.3 226.19 L487.8 225.36 L487.3 225.71 L486.8 225.67 L486.3 226.27 L485.8 225.96 L485.3 225.92 L484.8 226.75 L484.3 226.76 L483.8 226.89 L483.3 226.44 L482.8 226.54 L482.3 226.76 L481.8 227.02 L481.3 226.47 L480.8 227.18 L480.3 227.33 L479.8 227.13 L479.3 227.5 L478.8 227.77 L478.3 227.38 L477.8 227.73 L477.3 227.91 L476.8 228.56 L476.3 228.43 L475.8 228.42 L475.3 228.07 L474.8 228.26 L474.3 228.64 L473.8 228.68 L473.3 229.18 L472.8 229.63 L472.3 229.42 L471.8 229.86 L471.3 229.67 L470.8 230.13 L470.3 230.18 L469.8 229.88 L469.3 230.41 L468.8 230.68 L468.3 231.52 L467.8 231.42 L467.3 231.5 L466.8 231.7 L466.3 231.86 L465.8 231.69 L465.3 232 L464.8 232.99 L464.3 232.66 L463.8 232.96 L463.3 232.84 L462.8 233.1 L462.3 233.61 L461.8 233.82 L461.3 233.39 L460.8 233.46 L460.3 233.55 L459.8 233.84 L459.3 233.3 L458.8 233.91 L458.3 233.81 L457.8 233.91 L457.3 233.6 L456.8 233.57 L456.3 233.7 L455.8 233.39 L455.3 233.5 L454.8 233.56 L454.3 233.68 L453.8 233.56 L453.3 233.8 L452.8 233.58 L452.3 233.36 L451.8 233.35 L451.3 233.56 L450.8 233.47 L450.3 232.89 L449.8 233.24 L449.3 233.5 L448.8 232.91 L448.3 232.63 L447.8 232.51 L447.3 233.25 L446.8 232.96 L446.3 232.97 L445.8 232.7 L445.3 233.05 L444.8 232.56 L444.3 232.43 L443.8 233.09 L443.3 233.09 L442.8 232.4 L442.3 232.27 L441.8 232.66 L441.3 232.37 L440.8 232.09 L440.3 232.49 L439.8 232.64 L439.3 232.44 L438.8 232.56 L438.3 232.94 L437.8 233.08 L437.3 233.07 L436.8 233.94 L436.3 234.13 L435.8 233.99 L435.3 234.45 L434.8 234.36 L434.3 234.78 L433.8 235.12 L433.3 235.47 L432.8 235.2 L432.3 236.11 L431.8 235.79 L431.3 235.76 L430.8 236.42 L430.3 235.9 L429.8 236.55 L429.3 236.76 L428.8 236.85 L428.3 236.71 L427.8 236.33 L427.3 236.7 L426.8 236.7 L426.3 236.87 L425.8 237.02 L425.3 237 L424.8 237.46 L424.3 237.41 L423.8 237.34 L423.3 237.53 L422.8 237.48 L422.3 237.73 L421.8 237.63 L421.3 237.36 L420.8 238.28 L420.3 237.79 L419.8 237.74 L419.3 238.12 L418.8 238.13 L418.3 238.05 L417.8 237.82 L417.3 238 L416.8 238.03 L416.3 237.75 L415.8 238.18 L415.3 238.12Z" fill="url(#st)"/>
<path d="M415.3 226.91 L415.7 226.56 L416.1 226.56 L416.5 226.79 L416.9 226.75 L417.3 226.91 L417.7 226.54 L418.1 226.59 L418.5 226.66 L418.9 225.95 L419.3 225.89 L419.7 226.4 L420.1 226.69 L420.5 226.63 L420.9 226.51 L421.3 226.24 L421.7 226.43 L422.1 226.32 L422.5 225.96 L422.9 225.38 L423.3 225.68 L423.7 225.34 L424.1 225.15 L424.5 225.14 L424.9 223.99 L425.3 224.54 L425.7 224.23 L426.1 223.36 L426.5 222.74 L426.9 222.94 L427.3 222.36 L427.7 222.12 L428.1 221.77 L428.5 221.31 L428.9 221.1 L429.3 220.26 L429.7 220.58 L430.1 220.13 L430.5 219.65 L430.9 219.4 L431.3 219.09 L431.7 218.53 L432.1 218.05 L432.5 217.89 L432.9 217.41 L433.3 217.32 L433.7 216.82 L434.1 216.42 L434.5 216.27 L434.9 216.05 L435.3 215.65 L435.7 214.29 L436.1 215.05 L436.5 214.64 L436.9 214.26 L437.3 214.07 L437.7 213.61 L438.1 212.82 L438.5 212.02 L438.9 212.3 L439.3 211.18 L439.7 211.2 L440.1 210.58 L440.5 209.25 L440.9 207.91 L441.3 207.32 L441.7 206.04 L442.1 204.59 L442.5 203.63 L442.9 202.91 L443.3 201.04 L443.7 201.06 L444.1 200.18 L444.5 198.87 L444.9 197.98 L445.3 197.09 L445.7 195.86 L446.1 195.09 L446.5 193.69 L446.9 193.7 L447.3 192.39 L447.7 192.35 L448.1 191.56 L448.5 190.54 L448.9 189.53 L449.3 188.94 L449.7 187.93 L450.1 187.14 L450.5 185.61 L450.9 184.43 L451.3 183.74 L451.7 182.56 L452.1 181.36 L452.5 180.55 L452.9 179.45 L453.3 178.56 L453.7 177.78 L454.1 177.1 L454.5 175.99 L454.9 174.79 L455.3 174.34 L455.7 173.6 L456.1 173.01 L456.5 171.67 L456.9 170.64 L457.3 170.53 L457.7 168.78 L458.1 168.48 L458.5 167.9 L458.9 166.28 L459.3 165.63 L459.7 165.58 L460.1 164.81 L460.5 163.99 L460.9 162.9 L461.3 161.53 L461.7 161.68 L462.1 160.63 L462.5 159.56 L462.9 159.36 L463.3 158.81 L463.7 157.82 L464.1 157.66 L464.5 156.83 L464.9 156.4 L465.3 155.42 L465.7 154.82 L466.1 154.54 L466.5 153.5 L466.9 152.92 L467.3 152.13 L467.7 151.69 L468.1 151.13 L468.5 150.17 L468.9 149.72 L469.3 148.43 L469.7 148.19 L470.1 147.44 L470.5 146.89 L470.9 146 L471.3 146.05 L471.7 145.37 L472.1 144.5 L472.5 144.59 L472.9 143.45 L473.3 142.97 L473.7 142.93 L474.1 142 L474.5 142 L474.9 141.54 L475.3 140.99 L475.7 140.93 L476.1 140.47 L476.5 140.18 L476.9 139.23 L477.3 139.19 L477.7 138.73 L478.1 138.45 L478.5 137.97 L478.9 137.6 L479.3 137.37 L479.7 137.04 L480.1 136.59 L480.5 136.37 L480.9 135.72 L481.3 134.99 L481.7 134.97 L482.1 134.71 L482.5 134.32 L482.9 133.9 L483.3 134 L483.7 133.52 L484.1 133.36 L484.5 133.12 L484.9 132.66 L485.3 132.32 L485.7 132.11 L486.1 131.36 L486.5 131.37 L486.9 131.29 L487.3 130.94 L487.7 130.52 L488.1 130.04 L488.5 129.79 L488.9 129.69 L489.3 128.7 L489.7 128.1 L490.1 127.91 L490.5 127.76 L490.9 127.31 L491.3 127.59 L491.7 126.81 L492.1 126.93 L492.5 126.08 L492.9 125.65 L493.3 125.72 L493.7 124.75 L494.1 125.21 L494.5 124.84 L494.9 124.61 L495.3 124.32 L495.7 123.62 L496.1 123.32 L496.5 122.54 L496.9 123.03 L497.3 122.96 L497.7 122.38 L498.1 122.32 L498.5 121.99 L498.9 121.64 L499.3 121 L499.7 120.64 L500.1 120.68 L500.5 120.62 L500.9 119.56 L501.3 119.76 L501.7 119.17 L502.1 119.52 L502.5 119.47 L502.9 118.67 L503.3 119.01 L503.7 117.83 L504.1 118.43 L504.5 117.59 L504.9 117.96 L505.3 117.38 L505.7 117.52 L506.1 116.87 L506.5 117.07 L506.9 116.91 L507.3 116.33 L507.7 115.8 L508.1 116.19 L508.5 116.18 L508.9 116.1 L509.3 115.83 L509.7 115.26 L510.1 115.58 L510.5 115.3 L510.9 115.12 L511.3 114.62 L511.7 114.95 L512.1 114.06 L512.5 114.26 L512.9 114.09 L513.3 114.27 L513.7 114.05 L514.1 113.84 L514.5 113.49 L514.9 113.03 L515.3 112.88 L515.7 113.4 L516.1 113.25 L516.5 112.28 L516.9 113.07 L517.3 112.7 L517.7 112.8 L518.1 112.14 L518.5 112.31 L518.9 112.26 L519.3 112.19 L519.7 112.02 L520.1 111.5 L520.5 110.99 L520.9 111.75 L521.3 111.51 L521.7 111.45 L522.1 110.59 L522.5 111.02 L522.9 110.9 L523.3 111.09 L523.7 110.88 L524.1 110.28 L524.5 110.75 L524.9 110.05 L525.3 110.38 L525.7 110.58 L526.1 110.62 L526.5 110.52 L526.9 110.44 L527.3 109.44 L527.7 110.14 L528.1 109.75 L528.5 109.96 L528.9 109.88 L529.3 110.03 L529.7 109.78 L530.1 109.62 L530.5 109.18 L530.9 109.85 L531.3 109.7 L531.7 109.69 L532.1 109.67 L532.5 109.07 L532.9 109.45 L533.3 109.12 L533.7 108.23 L534.1 109.43 L534.5 109.08 L534.9 108.64 L535.3 109.49 L535.7 108.74 L536.1 109.2 L536.5 109.2 L536.9 108.64 L537.3 109.15 L537.7 108.9 L538.1 108.81 L538.5 109.01 L538.9 108.87 L539.3 108.16 L539.7 108.78 L540.1 109.25 L540.5 108.62 L540.9 108.63 L541.3 109 L541.7 108.8 L542.1 109.15 L542.5 109.19 L542.9 109.11 L543.3 108.37 L543.7 108.73 L544.1 108.77 L544.5 109.04 L544.9 109.18 L545.3 109.04 L545.7 108.47 L546.1 108.98 L546.5 109.16 L546.9 108.99 L547.3 108.55 L547.7 108.96 L548.1 109.17 L548.5 109.13 L548.9 109.18 L549.3 108.88 L549.7 109.03 L550.1 109.11 L550.5 108.95 L550.9 109.17 L551.3 109.28 L551.3 110.93 L550.9 110.87 L550.5 110.89 L550.1 111.12 L549.7 110.83 L549.3 111 L548.9 111.77 L548.5 110.95 L548.1 111.26 L547.7 111.09 L547.3 110.96 L546.9 111.22 L546.5 111.63 L546.1 111.55 L545.7 111.3 L545.3 111.04 L544.9 111.58 L544.5 111.71 L544.1 111.74 L543.7 111.41 L543.3 111.39 L542.9 111.26 L542.5 111.21 L542.1 112.21 L541.7 111.96 L541.3 111.59 L540.9 111.47 L540.5 112.06 L540.1 111.98 L539.7 111.6 L539.3 111.7 L538.9 112.33 L538.5 112.08 L538.1 111.41 L537.7 111.62 L537.3 111.9 L536.9 111.77 L536.5 111.53 L536.1 111.86 L535.7 111.85 L535.3 111.97 L534.9 111.66 L534.5 111.6 L534.1 111.79 L533.7 111.89 L533.3 111.85 L532.9 112.16 L532.5 112.03 L532.1 112 L531.7 111.98 L531.3 111.86 L530.9 112.38 L530.5 112.15 L530.1 112.08 L529.7 112.49 L529.3 112.2 L528.9 112.39 L528.5 112.37 L528.1 113.14 L527.7 113.29 L527.3 112.84 L526.9 112.67 L526.5 112.65 L526.1 112.72 L525.7 112.88 L525.3 112.96 L524.9 113.74 L524.5 113.35 L524.1 113.26 L523.7 113.38 L523.3 113.95 L522.9 113.9 L522.5 113.67 L522.1 113.71 L521.7 114.22 L521.3 114.11 L520.9 114.46 L520.5 114.47 L520.1 114.91 L519.7 114.33 L519.3 115.74 L518.9 115.19 L518.5 114.76 L518.1 115.15 L517.7 115.08 L517.3 115.27 L516.9 115.32 L516.5 115.75 L516.1 115.9 L515.7 116.25 L515.3 115.93 L514.9 116.27 L514.5 116.42 L514.1 116.67 L513.7 116.49 L513.3 116.73 L512.9 116.84 L512.5 117.08 L512.1 117.24 L511.7 117.75 L511.3 117.83 L510.9 118.35 L510.5 117.89 L510.1 118.1 L509.7 118.67 L509.3 118.36 L508.9 119.09 L508.5 118.78 L508.1 119.38 L507.7 119.2 L507.3 119.71 L506.9 120.75 L506.5 120.21 L506.1 120.56 L505.7 120.8 L505.3 120.49 L504.9 121.29 L504.5 121.69 L504.1 121.59 L503.7 121.59 L503.3 121.84 L502.9 122.05 L502.5 123.21 L502.1 122.53 L501.7 122.97 L501.3 123.67 L500.9 123.39 L500.5 123.83 L500.1 124.1 L499.7 124.17 L499.3 124.33 L498.9 124.77 L498.5 124.99 L498.1 125.32 L497.7 125.99 L497.3 125.87 L496.9 126.25 L496.5 126.86 L496.1 127.28 L495.7 127.64 L495.3 127.48 L494.9 128.71 L494.5 128.28 L494.1 128.67 L493.7 129.17 L493.3 129.53 L492.9 129.82 L492.5 130.39 L492.1 130.28 L491.7 131.34 L491.3 131.05 L490.9 131.46 L490.5 131.78 L490.1 131.9 L489.7 132.88 L489.3 132.73 L488.9 133.27 L488.5 133.15 L488.1 133.49 L487.7 133.76 L487.3 134.34 L486.9 134.35 L486.5 134.79 L486.1 135.43 L485.7 135.69 L485.3 136.22 L484.9 136.75 L484.5 136.84 L484.1 137.21 L483.7 137.57 L483.3 138.38 L482.9 137.83 L482.5 138.39 L482.1 138.79 L481.7 138.76 L481.3 139.75 L480.9 139.62 L480.5 140.23 L480.1 140.34 L479.7 140.85 L479.3 141.01 L478.9 142.14 L478.5 142.06 L478.1 142.45 L477.7 143.06 L477.3 143.11 L476.9 144.24 L476.5 144.03 L476.1 144.74 L475.7 144.97 L475.3 145.7 L474.9 146.27 L474.5 146.4 L474.1 146.77 L473.7 148.32 L473.3 148.49 L472.9 148.39 L472.5 148.94 L472.1 149.56 L471.7 150.11 L471.3 151.03 L470.9 151.78 L470.5 152.07 L470.1 152.72 L469.7 153.81 L469.3 154.29 L468.9 155.19 L468.5 155.82 L468.1 156.39 L467.7 157.09 L467.3 158.32 L466.9 158.38 L466.5 159.34 L466.1 159.53 L465.7 160.7 L465.3 161.12 L464.9 161.53 L464.5 162.47 L464.1 163.08 L463.7 164.22 L463.3 164.32 L462.9 165.25 L462.5 166.47 L462.1 167.22 L461.7 168.02 L461.3 168.38 L460.9 169.33 L460.5 170.14 L460.1 171.12 L459.7 171.81 L459.3 172.74 L458.9 173.52 L458.5 174.94 L458.1 175.75 L457.7 176.27 L457.3 177.34 L456.9 178.23 L456.5 178.7 L456.1 179.55 L455.7 180.33 L455.3 181.36 L454.9 182.61 L454.5 183.27 L454.1 184.96 L453.7 185.16 L453.3 186.54 L452.9 187.26 L452.5 188.91 L452.1 189.73 L451.7 191.2 L451.3 191.79 L450.9 192.97 L450.5 194.07 L450.1 195.03 L449.7 195.41 L449.3 195.96 L448.9 196.85 L448.5 197.19 L448.1 197.99 L447.7 198.71 L447.3 199.65 L446.9 200.92 L446.5 202.36 L446.1 203.73 L445.7 203.95 L445.3 205.43 L444.9 206 L444.5 207.47 L444.1 207.94 L443.7 209.27 L443.3 210.46 L442.9 211.97 L442.5 212.66 L442.1 213.74 L441.7 214.41 L441.3 214.64 L440.9 215.36 L440.5 216.03 L440.1 215.89 L439.7 216.34 L439.3 216.76 L438.9 216.92 L438.5 217.24 L438.1 217.73 L437.7 217.97 L437.3 218.81 L436.9 219.2 L436.5 218.98 L436.1 219.36 L435.7 220.08 L435.3 221.52 L434.9 220.79 L434.5 221.26 L434.1 221.66 L433.7 221.88 L433.3 222.12 L432.9 222.55 L432.5 222.74 L432.1 223.21 L431.7 223.62 L431.3 223.86 L430.9 224.41 L430.5 224.67 L430.1 225.83 L429.7 225.92 L429.3 225.84 L428.9 226.5 L428.5 226.73 L428.1 227.53 L427.7 227.38 L427.3 228.12 L426.9 228.08 L426.5 228.51 L426.1 229.02 L425.7 229.45 L425.3 229.1 L424.9 229.21 L424.5 229.45 L424.1 230.21 L423.7 229.88 L423.3 230.25 L422.9 231.05 L422.5 230.43 L422.1 230.64 L421.7 231.24 L421.3 230.75 L420.9 231.06 L420.5 231.19 L420.1 230.82 L419.7 230.88 L419.3 230.95 L418.9 231.39 L418.5 231.32 L418.1 230.99 L417.7 231.5 L417.3 231.03 L416.9 231.43 L416.5 231.61 L416.1 231.65 L415.7 231.84 L415.3 231.32Z" fill="#00ff00"/>
<path d="M415.3 228.55 L415.5 228.22 L415.7 228.61 L415.9 227.94 L416.1 229.22 L416.3 227.9 L416.5 230.34 L416.7 230.09 L416.9 229.69 L417.1 228.8 L417.3 228.55 L417.5 229.74 L417.7 229.04 L417.9 229.28 L418.1 228.42 L418.3 229.6 L418.5 228.34 L418.7 228.93 L418.9 227.7 L419.1 228.4 L419.3 229.15 L419.5 228.5 L419.7 228.49 L419.9 229.29 L420.1 228.7 L420.3 229.56 L420.5 227.12 L420.7 229.07 L420.9 229.01 L421.1 227.64 L421.3 227.77 L421.5 229.16 L421.7 227.83 L421.9 228.06 L422.1 228.81 L422.3 228.13 L422.5 228.58 L422.7 227.61 L422.9 228.29 L423.1 228.71 L423.3 228.11 L423.5 226.37 L423.7 228.12 L423.9 227.62 L424.1 226.88 L424.3 228.27 L424.5 226.12 L424.7 228.35 L424.9 226.61 L425.1 227.93 L425.3 226.76 L425.5 225.79 L425.7 226.57 L425.9 226.57 L426.1 226.55 L426.3 226.72 L426.5 225.29 L426.7 226.01 L426.9 225.99 L427.1 225.16 L427.3 224.55 L427.5 224.35 L427.7 225.24 L427.9 225.08 L428.1 223.85 L428.3 223.34 L428.5 224.78 L428.7 222.82 L428.9 223.71 L429.1 222.92 L429.3 222.14 L429.5 223.14 L429.7 222.77 L429.9 223.62 L430.1 223.96 L430.3 222.24 L430.5 222.82 L430.7 222.66 L430.9 221.51 L431.1 221.12 L431.3 222.48 L431.5 221.08 L431.7 221.11 L431.9 220.77 L432.1 220.69 L432.3 220.22 L432.5 220.88 L432.7 221.01 L432.9 219.83 L433.1 219.04 L433.3 219.73 L433.5 218.61 L433.7 218.95 L433.9 219.9 L434.1 220.37 L434.3 219.01 L434.5 217.96 L434.7 218.89 L434.9 216.88 L435.1 217.63 L435.3 218.77 L435.5 218.11 L435.7 216.66 L435.9 216.31 L436.1 217.62 L436.3 216.91 L436.5 216.42 L436.7 216.84 L436.9 216.09 L437.1 215.13 L437.3 216.56 L437.5 215.53 L437.7 215.15 L437.9 214.78 L438.1 215.52 L438.3 214.72 L438.5 215.35 L438.7 214.64 L438.9 215.2 L439.1 214.15 L439.3 213.77 L439.5 212.79 L439.7 213.04 L439.9 213.82 L440.1 214.88 L440.3 212.16 L440.5 211.98 L440.7 212.41 L440.9 212.12 L441.1 211.07 L441.3 211.06 L441.5 209.67 L441.7 209.93 L441.9 210.1 L442.1 210.01 L442.3 208.49 L442.5 207.92 L442.7 207.79 L442.9 207.62 L443.1 206.75 L443.3 205.56 L443.5 205.65 L443.7 205.48 L443.9 204.08 L444.1 203.27 L444.3 203.78 L444.5 203.2 L444.7 203.03 L444.9 202.05 L445.1 201.16 L445.3 200.77 L445.5 199.95 L445.7 199.5 L445.9 199.21 L446.1 198.77 L446.3 199.13 L446.5 197.43 L446.7 197.59 L446.9 196.86 L447.1 197.52 L447.3 196.46 L447.5 195.73 L447.7 195.95 L447.9 195.17 L448.1 194.51 L448.3 195.17 L448.5 194.37 L448.7 194.51 L448.9 193.83 L449.1 193.24 L449.3 192.52 L449.5 191.49 L449.7 191.97 L449.9 191.21 L450.1 191.06 L450.3 190.24 L450.5 189.41 L450.7 188.75 L450.9 189.09 L451.1 188.86 L451.3 187.55 L451.5 187.38 L451.7 187.3 L451.9 185.66 L452.1 185.36 L452.3 184.44 L452.5 185.04 L452.7 184.06 L452.9 183.19 L453.1 182.1 L453.3 182.31 L453.5 182.4 L453.7 181.3 L453.9 180.78 L454.1 180.83 L454.3 179.48 L454.5 179.64 L454.7 179.46 L454.9 178.36 L455.1 177.9 L455.3 177.98 L455.5 177.38 L455.7 176.89 L455.9 176.67 L456.1 176.26 L456.3 175.3 L456.5 175 L456.7 175.11 L456.9 175 L457.1 174.7 L457.3 173.26 L457.5 173.75 L457.7 173.18 L457.9 172.4 L458.1 172.23 L458.3 171.97 L458.5 171.99 L458.7 170.28 L458.9 170.62 L459.1 169.87 L459.3 169.42 L459.5 169.62 L459.7 169.05 L459.9 167.81 L460.1 167.73 L460.3 167.54 L460.5 166.4 L460.7 167.01 L460.9 166.18 L461.1 165.88 L461.3 165.56 L461.5 165.81 L461.7 164.63 L461.9 164.07 L462.1 164.6 L462.3 163.23 L462.5 162.85 L462.7 162.1 L462.9 162.8 L463.1 162.08 L463.3 161.81 L463.5 161.33 L463.7 160.85 L463.9 160.23 L464.1 159.9 L464.3 160.09 L464.5 159.63 L464.7 159.95 L464.9 158.61 L465.1 158.4 L465.3 157.86 L465.5 158.56 L465.7 157.13 L465.9 157.66 L466.1 157.63 L466.3 156.64 L466.5 156.68 L466.7 155.16 L466.9 155.56 L467.1 154.7 L467.3 155.13 L467.5 154.72 L467.7 154.05 L467.9 154.42 L468.1 153.83 L468.3 153.12 L468.5 152.78 L468.7 152.04 L468.9 152.22 L469.1 152.83 L469.3 151.32 L469.5 151.45 L469.7 150.71 L469.9 150.93 L470.1 150.45 L470.3 149.85 L470.5 148.9 L470.7 149.11 L470.9 149.5 L471.1 148.61 L471.3 148.67 L471.5 147.94 L471.7 147.1 L471.9 147.75 L472.1 147.44 L472.3 146.81 L472.5 146.63 L472.7 146.63 L472.9 146.02 L473.1 146.14 L473.3 145.67 L473.5 144.56 L473.7 145.19 L473.9 144.77 L474.1 144.43 L474.3 144.69 L474.5 144.1 L474.7 144.27 L474.9 144.26 L475.1 143.65 L475.3 142.76 L475.5 142.85 L475.7 143.28 L475.9 142.6 L476.1 142.16 L476.3 142.23 L476.5 142.24 L476.7 141.93 L476.9 141.87 L477.1 141.09 L477.3 141.1 L477.5 140.9 L477.7 140.78 L477.9 139.77 L478.1 140.3 L478.3 139.67 L478.5 140.53 L478.7 140.4 L478.9 140.26 L479.1 139.73 L479.3 139.04 L479.5 139.42 L479.7 138.78 L479.9 138.91 L480.1 138.15 L480.3 138.09 L480.5 138.32 L480.7 138.64 L480.9 137.78 L481.1 138.48 L481.3 138.49 L481.5 136.77 L481.7 137.08 L481.9 136.56 L482.1 136.7 L482.3 136.38 L482.5 136.38 L482.7 136.61 L482.9 136.43 L483.1 136 L483.3 135.73 L483.5 135.61 L483.7 135.44 L483.9 135.44 L484.1 135.06 L484.3 135.08 L484.5 134.23 L484.7 134.86 L484.9 135.06 L485.1 134.3 L485.3 133.54 L485.5 134.42 L485.7 133.63 L485.9 132.46 L486.1 133.35 L486.3 133.5 L486.5 133.26 L486.7 133.42 L486.9 133.03 L487.1 132.69 L487.3 131.74 L487.5 131.91 L487.7 132.24 L487.9 132.27 L488.1 131.47 L488.3 131.47 L488.5 131.72 L488.7 130.67 L488.9 130.5 L489.1 130.98 L489.3 131.01 L489.5 130.57 L489.7 129.74 L489.9 130.44 L490.1 129.78 L490.3 130.36 L490.5 129.91 L490.7 129.89 L490.9 129.87 L491.1 129.27 L491.3 129.61 L491.5 129.6 L491.7 129.12 L491.9 129.3 L492.1 128.41 L492.3 128.82 L492.5 128.41 L492.7 127.77 L492.9 127.95 L493.1 127.61 L493.3 127.44 L493.5 127.51 L493.7 127.71 L493.9 127.03 L494.1 127.03 L494.3 126.27 L494.5 126.69 L494.7 126.91 L494.9 126.62 L495.1 126.33 L495.3 125.8 L495.5 125.47 L495.7 125.63 L495.9 125.01 L496.1 124.89 L496.3 125.54 L496.5 124.69 L496.7 125.54 L496.9 124.18 L497.1 124.72 L497.3 123.97 L497.5 124.31 L497.7 123.71 L497.9 123.96 L498.1 123.73 L498.3 123.47 L498.5 123.68 L498.7 123.9 L498.9 122.98 L499.1 123.38 L499.3 122.95 L499.5 122.76 L499.7 123.45 L499.9 121.7 L500.1 122.11 L500.3 121.56 L500.5 121.98 L500.7 121.88 L500.9 123.24 L501.1 121.83 L501.3 122.23 L501.5 121.92 L501.7 121.15 L501.9 121.36 L502.1 121.67 L502.3 120.99 L502.5 120.88 L502.7 120.86 L502.9 120 L503.1 120.13 L503.3 120.43 L503.5 120.39 L503.7 119.73 L503.9 119.83 L504.1 119.79 L504.3 119.66 L504.5 119.85 L504.7 119.52 L504.9 119.43 L505.1 118.74 L505.3 118.76 L505.5 119.15 L505.7 118.34 L505.9 118.92 L506.1 118.47 L506.3 118.3 L506.5 118.74 L506.7 118.15 L506.9 117.98 L507.1 117.94 L507.3 118.11 L507.5 119.01 L507.7 117.12 L507.9 117.79 L508.1 117.62 L508.3 117.96 L508.5 117.38 L508.7 116.51 L508.9 117.82 L509.1 116.84 L509.3 117.13 L509.5 116.56 L509.7 116.57 L509.9 116.7 L510.1 117.11 L510.3 117.02 L510.5 116.41 L510.7 116.73 L510.9 116.32 L511.1 116.42 L511.3 116.35 L511.5 116.44 L511.7 115.9 L511.9 116 L512.1 116.05 L512.3 115.92 L512.5 115.52 L512.7 116.37 L512.9 115.49 L513.1 115.86 L513.3 115.58 L513.5 115.88 L513.7 114.55 L513.9 116.04 L514.1 115.13 L514.3 114.68 L514.5 115.11 L514.7 115.82 L514.9 115.1 L515.1 114.39 L515.3 114.6 L515.5 115.19 L515.7 114.11 L515.9 114.49 L516.1 114.38 L516.3 115.21 L516.5 114.23 L516.7 114.75 L516.9 113.95 L517.1 113.83 L517.3 114.42 L517.5 114.21 L517.7 113.27 L517.9 114.08 L518.1 114.01 L518.3 113.47 L518.5 113.71 L518.7 113.66 L518.9 113.32 L519.1 113.21 L519.3 113.11 L519.5 113.19 L519.7 112.74 L519.9 113.15 L520.1 112.55 L520.3 113.06 L520.5 112.94 L520.7 112.53 L520.9 113.16 L521.1 113.5 L521.3 113.22 L521.5 112.17 L521.7 113.09 L521.9 112.64 L522.1 112.49 L522.3 112.23 L522.5 112.4 L522.7 112.86 L522.9 112.5 L523.1 112.1 L523.3 111.96 L523.5 112 L523.7 112.33 L523.9 112.76 L524.1 111.64 L524.3 111.99 L524.5 111.81 L524.7 111.63 L524.9 112.02 L525.1 112.04 L525.3 111.27 L525.5 111.37 L525.7 112.16 L525.9 111.8 L526.1 111.84 L526.3 111.42 L526.5 111.42 L526.7 111.7 L526.9 111.31 L527.1 111.04 L527.3 111.42 L527.5 111.74 L527.7 110.96 L527.9 111.73 L528.1 111.56 L528.3 110.92 L528.5 111.22 L528.7 111.17 L528.9 111.41 L529.1 111.4 L529.3 110.57 L529.5 110.51 L529.7 111.47 L529.9 111.06 L530.1 111.16 L530.3 111.1 L530.5 111.6 L530.7 110.37 L530.9 111.37 L531.1 110.48 L531.3 111.16 L531.5 111.44 L531.7 110.11 L531.9 110.96 L532.1 110.6 L532.3 110.57 L532.5 110.72 L532.7 110.12 L532.9 110.14 L533.1 111.01 L533.3 111.11 L533.5 110.28 L533.7 109.73 L533.9 112 L534.1 111.26 L534.3 110.79 L534.5 109.87 L534.7 110.14 L534.9 110.69 L535.1 109.83 L535.3 111.65 L535.5 110.59 L535.7 110.77 L535.9 109.67 L536.1 109.73 L536.3 109.8 L536.5 110.66 L536.7 110.19 L536.9 110.16 L537.1 110.67 L537.3 110.58 L537.5 111.72 L537.7 110.18 L537.9 109.39 L538.1 110.33 L538.3 111.76 L538.5 109.77 L538.7 110.35 L538.9 109.93 L539.1 110.7 L539.3 110.54 L539.5 109.41 L539.7 110.01 L539.9 111.25 L540.1 111.42 L540.3 111.23 L540.5 111.16 L540.7 109.84 L540.9 109.8 L541.1 111.21 L541.3 108.89 L541.5 110.11 L541.7 108.12 L541.9 109.74 L542.1 109.38 L542.3 108.83 L542.5 110.76 L542.7 109.34 L542.9 109.73 L543.1 109.84 L543.3 109.34 L543.5 111.58 L543.7 109.59 L543.9 110.29 L544.1 108.78 L544.3 109.61 L544.5 109.76 L544.7 109.77 L544.9 109.51 L545.1 110.19 L545.3 111.46 L545.5 109.93 L545.7 109.92 L545.9 109.71 L546.1 112.14 L546.3 111.34 L546.5 110.47 L546.7 110.57 L546.9 109.48 L547.1 109.9 L547.3 110.16 L547.5 110.09 L547.7 109.42 L547.9 109.49 L548.1 110.33 L548.3 110.19 L548.5 108.73 L548.7 110.05 L548.9 110.71 L549.1 109.64 L549.3 110.12 L549.5 109.26 L549.7 110.39 L549.9 109.47 L550.1 109.43 L550.3 109.85 L550.5 110.94 L550.7 109.76 L550.9 109.54 L551.1 110.15 L551.3 110.06 L551.5 110.48 L551.7 109.64 L551.9 109.59 L552.1 109.92 L552.3 110.07 L552.5 110.06 L552.7 110.19 L552.9 109.76 L553.1 109.88 L553.3 109.98 L553.5 110.09 L553.7 110.05 L553.9 109.96 L554.1 109.91 L554.3 110.07 L554.5 110.06 L554.7 110.17 L554.9 109.99 L555.1 110.08 L555.3 109.94 L555.5 109.98 L555.7 109.97 L555.9 109.98 L556.1 109.97 L556.3 109.98 L556.5 110 L556.7 109.99 L556.9 110.02 L557.1 110 L557.3 110 L557.5 110.04 L557.7 110.01 L557.9 110 L558.1 110 L558.3 110 L558.5 110.01 L558.7 109.98 L558.9 110.02 L559.1 110.03 L559.3 110.02 L559.5 109.99 L559.7 109.97 L559.9 109.99 L560.1 110 L560.3 110.02 L560.5 110 L560.7 109.99 L560.9 110.03 L561.1 109.99 L561.3 110.02 L561.5 110.02 L561.7 109.97 L561.9 110 L562.1 109.99 L562.3 109.98 L562.5 109.96 L562.7 109.97 L562.9 110.01 L563.1 109.99 L563.3 110 L563.5 109.98 L563.7 109.99 L563.9 109.99 L564.1 109.97 L564.3 109.97 L564.5 110.01 L564.7 110 L564.9 109.98 L565.1 110 L565.3 110.01 L565.5 110.04 L565.7 109.98 L565.9 110.01 L566.1 110.04 L566.3 110 L566.5 110.03 L566.7 109.95 L566.9 110.03 L567.1 110 L567.3 109.96 L567.5 110.01 L567.7 110.02 L567.9 110.02 L568.1 110.02 L568.3 110 L568.5 109.98 L568.7 109.99 L568.9 110 L569.1 110.01 L569.3 109.99 L569.5 110 L569.7 110.02 L569.9 110.01 L570.1 110.04 L570.3 110.04 L570.5 109.98 L570.7 109.99 L570.9 109.97 L571.1 109.98 L571.3 110.01 L571.5 109.98 L571.7 109.98 L571.9 109.99 L572.1 110.02 L572.3 109.99 L572.5 109.99 L572.7 110.02" fill="none" stroke="#00ff00" stroke-width="1.55" stroke-dasharray="2.7 1.0" stroke-linejoin="round"/>
<path d="M415.3 232.51 L415.7 232.52 L416.1 232.3 L416.5 232.25 L416.9 232.62 L417.3 232.4 L417.7 232.25 L418.1 232.33 L418.5 232.18 L418.9 232.06 L419.3 232.09 L419.7 232.09 L420.1 232.49 L420.5 232.14 L420.9 232 L421.3 232.33 L421.7 232.42 L422.1 232.08 L422.5 232.13 L422.9 231.69 L423.3 232.27 L423.7 232.23 L424.1 231.35 L424.5 232.02 L424.9 231.53 L425.3 230.93 L425.7 231.72 L426.1 231.83 L426.5 231.51 L426.9 231.61 L427.3 231.14 L427.7 231.06 L428.1 231.11 L428.5 230.89 L428.9 231.2 L429.3 230.94 L429.7 230.77 L430.1 230.48 L430.5 230.63 L430.9 230.44 L431.3 229.68 L431.7 229.93 L432.1 229.9 L432.5 229.28 L432.9 229.67 L433.3 229.22 L433.7 229.29 L434.1 228.85 L434.5 228.7 L434.9 228.2 L435.3 228.56 L435.7 228.34 L436.1 227.97 L436.5 227.58 L436.9 227.15 L437.3 227.78 L437.7 227.32 L438.1 226.89 L438.5 226.47 L438.9 226.55 L439.3 226.56 L439.7 226.01 L440.1 225.86 L440.5 225.3 L440.9 225.05 L441.3 224.8 L441.7 224.64 L442.1 223.49 L442.5 223.78 L442.9 223.39 L443.3 222.69 L443.7 222.84 L444.1 222.53 L444.5 221.84 L444.9 221.76 L445.3 221.43 L445.7 221 L446.1 220.89 L446.5 220.52 L446.9 219.97 L447.3 219.87 L447.7 219.19 L448.1 218.55 L448.5 218.48 L448.9 218.58 L449.3 217.86 L449.7 217.99 L450.1 217.31 L450.5 216.68 L450.9 216.73 L451.3 216.61 L451.7 216.19 L452.1 215.85 L452.5 214.83 L452.9 215.12 L453.3 214.73 L453.7 214.13 L454.1 214.03 L454.5 213.07 L454.9 212.8 L455.3 212.86 L455.7 211.86 L456.1 211.92 L456.5 211.43 L456.9 211.49 L457.3 210.49 L457.7 210.81 L458.1 210.21 L458.5 210.02 L458.9 209.73 L459.3 209.47 L459.7 208.3 L460.1 208.49 L460.5 207.8 L460.9 207.61 L461.3 207.05 L461.7 207.27 L462.1 206.34 L462.5 206.15 L462.9 205.59 L463.3 205.51 L463.7 205.08 L464.1 204.73 L464.5 204.46 L464.9 203.6 L465.3 203.29 L465.7 202.87 L466.1 202.79 L466.5 201.91 L466.9 202.05 L467.3 201.33 L467.7 201.39 L468.1 200.77 L468.5 200.25 L468.9 199.74 L469.3 199.45 L469.7 199.26 L470.1 198.32 L470.5 198 L470.9 197.69 L471.3 197.17 L471.7 196.78 L472.1 195.79 L472.5 195.95 L472.9 195.55 L473.3 194.76 L473.7 194.37 L474.1 194.26 L474.5 193.2 L474.9 193.1 L475.3 192.79 L475.7 192.66 L476.1 191.6 L476.5 191.33 L476.9 191.19 L477.3 190.78 L477.7 190.3 L478.1 189.72 L478.5 189.16 L478.9 188.71 L479.3 188.7 L479.7 188.27 L480.1 187.52 L480.5 187.18 L480.9 186.87 L481.3 186.71 L481.7 185.92 L482.1 185.66 L482.5 184.9 L482.9 184.96 L483.3 184.43 L483.7 184.34 L484.1 183.55 L484.5 183.55 L484.9 183.12 L485.3 183.02 L485.7 182.52 L486.1 181.82 L486.5 181.51 L486.9 181.68 L487.3 181.15 L487.7 180.21 L488.1 180.63 L488.5 180.18 L488.9 180.04 L489.3 179.25 L489.7 178.99 L490.1 178.52 L490.5 178.53 L490.9 177.8 L491.3 177.22 L491.7 177.78 L492.1 177.46 L492.5 177.19 L492.9 176.58 L493.3 176.49 L493.7 175.71 L494.1 176.06 L494.5 175.59 L494.9 175.16 L495.3 174.76 L495.7 174.67 L496.1 174.59 L496.5 174.34 L496.9 173.98 L497.3 173.78 L497.7 172.88 L498.1 171.98 L498.5 172.72 L498.9 172.08 L499.3 171.72 L499.7 171.77 L500.1 171.74 L500.5 171.17 L500.9 171.02 L501.3 170.47 L501.7 170.65 L502.1 170.3 L502.5 170.03 L502.9 169.67 L503.3 169.15 L503.7 169.14 L504.1 168.73 L504.5 168.65 L504.9 168.21 L505.3 167.87 L505.7 168.02 L506.1 166.72 L506.5 167.21 L506.9 167.21 L507.3 167.04 L507.7 167.04 L508.1 166.12 L508.5 166.04 L508.9 166.27 L509.3 166.25 L509.7 165.98 L510.1 165.83 L510.5 165.16 L510.9 165.5 L511.3 164.67 L511.7 165.01 L512.1 164.46 L512.5 164.58 L512.9 164.35 L513.3 164.16 L513.7 164.16 L514.1 163.73 L514.5 162.99 L514.9 163.08 L515.3 163.04 L515.7 162.92 L516.1 162.73 L516.5 161.8 L516.9 162.2 L517.3 162.1 L517.7 161.65 L518.1 161.4 L518.5 161.42 L518.9 160.61 L519.3 160.11 L519.7 160.32 L520.1 160.59 L520.5 160.05 L520.9 160.31 L521.3 160.12 L521.7 159.71 L522.1 159.52 L522.5 159.04 L522.9 158.96 L523.3 158.81 L523.7 159.07 L524.1 157.87 L524.5 158.78 L524.9 157.95 L525.3 158.28 L525.7 158.1 L526.1 158.15 L526.5 157.88 L526.9 157.44 L527.3 157.27 L527.7 157.46 L528.1 156.68 L528.5 156.85 L528.9 156.88 L529.3 156.66 L529.7 156.39 L530.1 156.15 L530.5 156.51 L530.9 156.18 L531.3 156.21 L531.7 155.96 L532.1 155.17 L532.5 155.56 L532.9 154.74 L533.3 155.49 L533.7 155.31 L534.1 155.19 L534.5 154.32 L534.9 154.47 L535.3 154.73 L535.7 154.58 L536.1 153.77 L536.5 154.2 L536.9 154.16 L537.3 153.54 L537.7 153.73 L538.1 153.24 L538.5 153.68 L538.9 153.12 L539.3 153.29 L539.7 152.78 L540.1 153.08 L540.5 152.91 L540.9 152.87 L541.3 152.54 L541.7 152.29 L542.1 152.51 L542.5 152.16 L542.9 152.33 L543.3 152.07 L543.7 151.1 L544.1 151.94 L544.5 151.34 L544.9 151.71 L545.3 151.47 L545.7 151.43 L546.1 151.23 L546.5 150.75 L546.9 150.96 L547.3 150.76 L547.7 150.87 L548.1 150.84 L548.5 150.76 L548.9 150.74 L549.3 150.63 L549.7 150.58 L550.1 150.44 L550.5 150 L550.9 150.06 L551.3 150.09 L551.7 150.03 L552.1 149.05 L552.5 150.07 L552.9 148.97 L553.3 149.15 L553.7 149.6 L554.1 149.56 L554.5 149.41 L554.9 149.15 L555.3 149.48 L555.7 149.52 L556.1 149.12 L556.1 151.29 L555.7 151.17 L555.3 151.37 L554.9 151.44 L554.5 151.58 L554.1 151.58 L553.7 151.71 L553.3 151.88 L552.9 151.82 L552.5 151.97 L552.1 152.2 L551.7 152.45 L551.3 152.65 L550.9 152.39 L550.5 152.35 L550.1 152.31 L549.7 152.44 L549.3 153.01 L548.9 152.71 L548.5 152.98 L548.1 153.57 L547.7 153.17 L547.3 153.26 L546.9 153.98 L546.5 153.76 L546.1 153.82 L545.7 153.78 L545.3 153.79 L544.9 154.14 L544.5 154.64 L544.1 154.44 L543.7 154.51 L543.3 154.53 L542.9 154.53 L542.5 155.57 L542.1 154.81 L541.7 155.16 L541.3 155.75 L540.9 155.38 L540.5 155.8 L540.1 156.03 L539.7 155.77 L539.3 156.04 L538.9 156.1 L538.5 155.95 L538.1 156.65 L537.7 156.99 L537.3 156.54 L536.9 156.94 L536.5 156.76 L536.1 157.17 L535.7 157.3 L535.3 157.75 L534.9 157.44 L534.5 157.63 L534.1 157.98 L533.7 158.28 L533.3 158.49 L532.9 158.07 L532.5 158.37 L532.1 158.39 L531.7 158.4 L531.3 159.15 L530.9 158.99 L530.5 159.15 L530.1 159.6 L529.7 159.92 L529.3 159.51 L528.9 159.76 L528.5 160.17 L528.1 160.05 L527.7 159.95 L527.3 160.66 L526.9 160.3 L526.5 160.69 L526.1 161.09 L525.7 160.69 L525.3 161.17 L524.9 161.06 L524.5 161.36 L524.1 161.46 L523.7 161.54 L523.3 161.92 L522.9 162.45 L522.5 162.08 L522.1 162.25 L521.7 162.78 L521.3 163.22 L520.9 162.95 L520.5 163.07 L520.1 163.27 L519.7 163.79 L519.3 164.25 L518.9 164.62 L518.5 164.14 L518.1 164.54 L517.7 165.26 L517.3 165.32 L516.9 165.1 L516.5 165.5 L516.1 166.02 L515.7 166.18 L515.3 166.31 L514.9 166.24 L514.5 166.69 L514.1 166.58 L513.7 167.31 L513.3 167.25 L512.9 167.15 L512.5 167.66 L512.1 167.86 L511.7 168.65 L511.3 167.94 L510.9 168.44 L510.5 168.62 L510.1 168.73 L509.7 168.77 L509.3 169.04 L508.9 169.09 L508.5 169.66 L508.1 169.65 L507.7 170.17 L507.3 170.31 L506.9 171.05 L506.5 171.19 L506.1 170.73 L505.7 171.52 L505.3 171.29 L504.9 171.48 L504.5 171.8 L504.1 172.05 L503.7 172.95 L503.3 173.07 L502.9 173.43 L502.5 173.79 L502.1 174.16 L501.7 174.12 L501.3 174 L500.9 174.82 L500.5 175.11 L500.1 175.12 L499.7 175.62 L499.3 175.42 L498.9 175.93 L498.5 176.32 L498.1 176.61 L497.7 177.07 L497.3 176.94 L496.9 177.99 L496.5 178.23 L496.1 177.75 L495.7 178.97 L495.3 178.44 L494.9 179.09 L494.5 179.18 L494.1 180.33 L493.7 179.88 L493.3 179.89 L492.9 180.3 L492.5 180.62 L492.1 181.07 L491.7 181.29 L491.3 182.14 L490.9 182.07 L490.5 182.33 L490.1 182.66 L489.7 182.86 L489.3 183.87 L488.9 183.78 L488.5 184.15 L488.1 184.21 L487.7 184.62 L487.3 185.18 L486.9 185.41 L486.5 186.25 L486.1 186.11 L485.7 186.34 L485.3 186.88 L484.9 187.29 L484.5 187.8 L484.1 187.98 L483.7 188.76 L483.3 188.92 L482.9 189.21 L482.5 189.46 L482.1 189.82 L481.7 190.72 L481.3 190.89 L480.9 191.16 L480.5 191.63 L480.1 191.99 L479.7 192.59 L479.3 192.93 L478.9 193.39 L478.5 193.8 L478.1 194.7 L477.7 194.9 L477.3 195.3 L476.9 196.31 L476.5 196.4 L476.1 197.3 L475.7 197.26 L475.3 197.59 L474.9 197.86 L474.5 198.64 L474.1 199.21 L473.7 199.43 L473.3 199.71 L472.9 200.41 L472.5 200.92 L472.1 201.15 L471.7 201.83 L471.3 202.04 L470.9 202.71 L470.5 203.08 L470.1 203.25 L469.7 203.71 L469.3 204.47 L468.9 204.54 L468.5 205 L468.1 205.54 L467.7 206.03 L467.3 206.3 L466.9 206.68 L466.5 207 L466.1 207.64 L465.7 208.29 L465.3 208.53 L464.9 209.18 L464.5 209.21 L464.1 209.57 L463.7 210.38 L463.3 210.26 L462.9 210.61 L462.5 210.88 L462.1 211.39 L461.7 211.78 L461.3 212.29 L460.9 212.83 L460.5 212.85 L460.1 213.01 L459.7 213.99 L459.3 213.73 L458.9 214.49 L458.5 214.93 L458.1 215.16 L457.7 215.55 L457.3 215.84 L456.9 216.15 L456.5 216.4 L456.1 217.13 L455.7 217.51 L455.3 218.26 L454.9 217.88 L454.5 218.59 L454.1 219.21 L453.7 219.15 L453.3 219.47 L452.9 219.69 L452.5 219.98 L452.1 220.5 L451.7 220.87 L451.3 221.42 L450.9 221.67 L450.5 222.18 L450.1 223 L449.7 222.37 L449.3 222.86 L448.9 223.12 L448.5 224.24 L448.1 224.48 L447.7 224.2 L447.3 224.54 L446.9 224.85 L446.5 225.64 L446.1 225.55 L445.7 226.07 L445.3 226.52 L444.9 226.93 L444.5 227.48 L444.1 227.81 L443.7 227.9 L443.3 228.53 L442.9 228.93 L442.5 229.06 L442.1 229.57 L441.7 229.86 L441.3 229.99 L440.9 230.6 L440.5 230.63 L440.1 230.96 L439.7 231.7 L439.3 231.4 L438.9 231.75 L438.5 232.06 L438.1 231.89 L437.7 232.32 L437.3 232.26 L436.9 232.67 L436.5 232.67 L436.1 232.77 L435.7 233.29 L435.3 233.43 L434.9 233.45 L434.5 234 L434.1 233.97 L433.7 233.84 L433.3 234.13 L432.9 235.47 L432.5 234.66 L432.1 234.84 L431.7 234.92 L431.3 235.16 L430.9 235.65 L430.5 235.46 L430.1 235.86 L429.7 235.67 L429.3 235.76 L428.9 235.91 L428.5 235.99 L428.1 236.25 L427.7 236.31 L427.3 236.18 L426.9 236.37 L426.5 236.8 L426.1 236.52 L425.7 236.8 L425.3 237 L424.9 236.97 L424.5 237.14 L424.1 236.78 L423.7 236.96 L423.3 237.01 L422.9 236.79 L422.5 237.16 L422.1 237.1 L421.7 236.95 L421.3 237.26 L420.9 237.05 L420.5 237.04 L420.1 237.72 L419.7 237.52 L419.3 237.2 L418.9 237.82 L418.5 237.84 L418.1 237.35 L417.7 237.55 L417.3 237.28 L416.9 238.24 L416.5 237.76 L416.1 237.5 L415.7 237.55 L415.3 237.32Z" fill="#0000ff"/>
<path d="M415.3 235.15 L415.5 234.98 L415.7 235.71 L415.9 234.45 L416.1 235.56 L416.3 235.27 L416.5 234.35 L416.7 235.66 L416.9 235.56 L417.1 234.13 L417.3 236.23 L417.5 234.23 L417.7 234.37 L417.9 234.74 L418.1 235.43 L418.3 235.3 L418.5 234.86 L418.7 235.78 L418.9 235.15 L419.1 235.77 L419.3 236.67 L419.5 234.98 L419.7 233.2 L419.9 234.54 L420.1 234.12 L420.3 234.85 L420.5 234.84 L420.7 233.98 L420.9 234.01 L421.1 234.56 L421.3 234.58 L421.5 233.03 L421.7 235.29 L421.9 234.67 L422.1 234.62 L422.3 234.79 L422.5 233.93 L422.7 234.53 L422.9 235.2 L423.1 235.2 L423.3 234.79 L423.5 234.29 L423.7 233.92 L423.9 235.26 L424.1 234.73 L424.3 234.1 L424.5 232.96 L424.7 233.77 L424.9 233.06 L425.1 235.06 L425.3 234.36 L425.5 233.74 L425.7 234.01 L425.9 235.81 L426.1 234.9 L426.3 233.25 L426.5 233.99 L426.7 233.26 L426.9 232.92 L427.1 234.1 L427.3 235.49 L427.5 234.91 L427.7 233.9 L427.9 233.59 L428.1 233.91 L428.3 234.39 L428.5 232.75 L428.7 232.44 L428.9 234.75 L429.1 233.67 L429.3 234.45 L429.5 233.51 L429.7 234.23 L429.9 232.84 L430.1 233.46 L430.3 234.05 L430.5 233.63 L430.7 232.62 L430.9 233.39 L431.1 232.33 L431.3 231.76 L431.5 232.9 L431.7 233.36 L431.9 232.93 L432.1 231.52 L432.3 232.76 L432.5 232.55 L432.7 231.75 L432.9 230.4 L433.1 232.49 L433.3 232.32 L433.5 231.98 L433.7 230.51 L433.9 230.57 L434.1 232.03 L434.3 231.81 L434.5 231.53 L434.7 230.98 L434.9 231.29 L435.1 230.62 L435.3 230.68 L435.5 230.25 L435.7 230.85 L435.9 230.35 L436.1 231.1 L436.3 230.87 L436.5 229.84 L436.7 231.37 L436.9 229.47 L437.1 230.34 L437.3 230.63 L437.5 230.65 L437.7 228.44 L437.9 230.28 L438.1 230.31 L438.3 230.34 L438.5 228.03 L438.7 228.85 L438.9 229.09 L439.1 228.77 L439.3 229.73 L439.5 228.4 L439.7 229.42 L439.9 228.9 L440.1 227.57 L440.3 227.71 L440.5 227.89 L440.7 228.08 L440.9 228.46 L441.1 227.61 L441.3 228.1 L441.5 226.47 L441.7 225.44 L441.9 226.86 L442.1 227.15 L442.3 226.5 L442.5 225.94 L442.7 226.59 L442.9 227.28 L443.1 225.91 L443.3 225.36 L443.5 225.11 L443.7 226.54 L443.9 225.19 L444.1 225.38 L444.3 225.53 L444.5 225.26 L444.7 223.92 L444.9 224.81 L445.1 224.56 L445.3 224.17 L445.5 224.28 L445.7 223.21 L445.9 223.31 L446.1 222.88 L446.3 223.43 L446.5 222.46 L446.7 222.88 L446.9 221.88 L447.1 222.26 L447.3 221.96 L447.5 221.93 L447.7 221.9 L447.9 221.56 L448.1 221.38 L448.3 220.19 L448.5 221.78 L448.7 220.66 L448.9 220.71 L449.1 220.23 L449.3 221.06 L449.5 219.85 L449.7 220.46 L449.9 220.66 L450.1 220.74 L450.3 220.33 L450.5 219.85 L450.7 218.7 L450.9 219.87 L451.1 219.64 L451.3 219.28 L451.5 219.08 L451.7 218.52 L451.9 218.03 L452.1 218.7 L452.3 218.63 L452.5 217.22 L452.7 218.08 L452.9 217.55 L453.1 217.7 L453.3 217.2 L453.5 217.46 L453.7 217.23 L453.9 216.98 L454.1 215.62 L454.3 216.58 L454.5 216 L454.7 215.21 L454.9 215.97 L455.1 214.72 L455.3 215.7 L455.5 215.93 L455.7 214.62 L455.9 215.16 L456.1 214.74 L456.3 214.66 L456.5 213.46 L456.7 214.27 L456.9 213.85 L457.1 213.97 L457.3 213.42 L457.5 213.79 L457.7 213.19 L457.9 213.22 L458.1 213.38 L458.3 212.61 L458.5 212.83 L458.7 212.27 L458.9 212.23 L459.1 211.54 L459.3 211.99 L459.5 212.03 L459.7 211.21 L459.9 211.46 L460.1 211.1 L460.3 210.17 L460.5 210.7 L460.7 210.98 L460.9 209.93 L461.1 209.12 L461.3 209.89 L461.5 209.3 L461.7 210.33 L461.9 209.22 L462.1 209.05 L462.3 208.57 L462.5 208.8 L462.7 208.23 L462.9 207.88 L463.1 208.08 L463.3 207.54 L463.5 208.35 L463.7 206.99 L463.9 207.31 L464.1 206.83 L464.3 206.32 L464.5 207.53 L464.7 205.6 L464.9 207.04 L465.1 205.53 L465.3 206.02 L465.5 206.82 L465.7 204.61 L465.9 204.76 L466.1 205.78 L466.3 205.07 L466.5 204.54 L466.7 204.57 L466.9 203.95 L467.1 204.24 L467.3 204.65 L467.5 203.6 L467.7 203.63 L467.9 203.91 L468.1 204.05 L468.3 202.69 L468.5 202.88 L468.7 202.29 L468.9 202.04 L469.1 201.94 L469.3 201.63 L469.5 200.94 L469.7 200.61 L469.9 200.95 L470.1 201.11 L470.3 201.37 L470.5 200.38 L470.7 200.32 L470.9 200.46 L471.1 200.27 L471.3 199.68 L471.5 199.48 L471.7 200.09 L471.9 198.91 L472.1 198.62 L472.3 197.9 L472.5 198.56 L472.7 198.04 L472.9 198.74 L473.1 197.55 L473.3 197.82 L473.5 197.64 L473.7 197.72 L473.9 196.24 L474.1 197.23 L474.3 196.35 L474.5 196.08 L474.7 195.77 L474.9 195.51 L475.1 195.31 L475.3 194.25 L475.5 195.23 L475.7 194.82 L475.9 194.18 L476.1 194.33 L476.3 195.1 L476.5 194.08 L476.7 193.53 L476.9 194.18 L477.1 192.92 L477.3 192.97 L477.5 192.58 L477.7 192.49 L477.9 192.67 L478.1 192.39 L478.3 191.63 L478.5 191.65 L478.7 191.52 L478.9 191.1 L479.1 191.04 L479.3 190.54 L479.5 190.32 L479.7 190.42 L479.9 189.77 L480.1 190.14 L480.3 189.68 L480.5 189.17 L480.7 189.09 L480.9 188.93 L481.1 188.86 L481.3 188.76 L481.5 188.43 L481.7 187.96 L481.9 188.68 L482.1 188.27 L482.3 187.75 L482.5 187.89 L482.7 187.45 L482.9 187.02 L483.1 186.97 L483.3 187.8 L483.5 186.95 L483.7 186.78 L483.9 186.02 L484.1 186.23 L484.3 186.69 L484.5 185.79 L484.7 185.86 L484.9 185.75 L485.1 185.32 L485.3 185.51 L485.5 184.8 L485.7 184.72 L485.9 184.1 L486.1 185.2 L486.3 184.11 L486.5 183.86 L486.7 184.18 L486.9 183.28 L487.1 183.29 L487.3 182.82 L487.5 182.96 L487.7 182.63 L487.9 182.82 L488.1 182.39 L488.3 182.04 L488.5 181.99 L488.7 181.89 L488.9 181.57 L489.1 181.96 L489.3 181.7 L489.5 181.33 L489.7 180.66 L489.9 181.15 L490.1 180.3 L490.3 180.69 L490.5 180.48 L490.7 180.08 L490.9 179.83 L491.1 179.72 L491.3 180.61 L491.5 179.57 L491.7 179.43 L491.9 179.72 L492.1 179.36 L492.3 179.45 L492.5 178.43 L492.7 178.33 L492.9 179.84 L493.1 178.42 L493.3 178.17 L493.5 178.19 L493.7 178.35 L493.9 177.38 L494.1 177.78 L494.3 177.52 L494.5 177.63 L494.7 177.29 L494.9 176.88 L495.1 176.61 L495.3 175.88 L495.5 177 L495.7 175.95 L495.9 176.2 L496.1 176.82 L496.3 175.9 L496.5 176.14 L496.7 175.69 L496.9 175.88 L497.1 175.49 L497.3 175.15 L497.5 175.69 L497.7 174.95 L497.9 174.41 L498.1 174.64 L498.3 174.82 L498.5 174.07 L498.7 174.62 L498.9 174.48 L499.1 174.83 L499.3 173.67 L499.5 174.01 L499.7 173.01 L499.9 173.33 L500.1 173.38 L500.3 173.35 L500.5 173.04 L500.7 172.88 L500.9 172.55 L501.1 172.47 L501.3 172.6 L501.5 172.55 L501.7 172.44 L501.9 172.43 L502.1 172.36 L502.3 171.13 L502.5 171.46 L502.7 171.45 L502.9 171.14 L503.1 171.62 L503.3 171.37 L503.5 170.92 L503.7 170.87 L503.9 171.15 L504.1 170.44 L504.3 170.32 L504.5 170.63 L504.7 170.34 L504.9 170.56 L505.1 170.05 L505.3 170.06 L505.5 169.47 L505.7 169.2 L505.9 169.42 L506.1 168.34 L506.3 169.33 L506.5 169.42 L506.7 168.98 L506.9 168.76 L507.1 169.12 L507.3 168.6 L507.5 168.87 L507.7 169.2 L507.9 168.56 L508.1 168.53 L508.3 168.27 L508.5 168.08 L508.7 167.99 L508.9 167.82 L509.1 168.08 L509.3 167.02 L509.5 167.4 L509.7 167.64 L509.9 167 L510.1 167.17 L510.3 166.87 L510.5 167.18 L510.7 167.23 L510.9 167.35 L511.1 166.91 L511.3 166.38 L511.5 166.63 L511.7 166.65 L511.9 166.86 L512.1 165.49 L512.3 166.29 L512.5 165.41 L512.7 166.22 L512.9 166.03 L513.1 165.95 L513.3 165.98 L513.5 165.7 L513.7 165.23 L513.9 165.48 L514.1 165.68 L514.3 165.1 L514.5 165.05 L514.7 164.5 L514.9 165.23 L515.1 164.53 L515.3 164.33 L515.5 164.33 L515.7 164.07 L515.9 164.17 L516.1 164.6 L516.3 164.32 L516.5 164.43 L516.7 164.34 L516.9 163.37 L517.1 163.75 L517.3 164 L517.5 164.17 L517.7 162.74 L517.9 162.62 L518.1 163.18 L518.3 162.78 L518.5 162.44 L518.7 162.82 L518.9 162.29 L519.1 161.66 L519.3 162.35 L519.5 162.3 L519.7 162.38 L519.9 162.38 L520.1 162.01 L520.3 161.76 L520.5 161.51 L520.7 161.06 L520.9 161.4 L521.1 161.82 L521.3 161.6 L521.5 162.01 L521.7 161.13 L521.9 160.46 L522.1 161.31 L522.3 161.29 L522.5 160.42 L522.7 160.17 L522.9 160.72 L523.1 160.83 L523.3 160.09 L523.5 160.28 L523.7 160.04 L523.9 159.81 L524.1 159.68 L524.3 160.12 L524.5 159.86 L524.7 159.67 L524.9 158.88 L525.1 160.39 L525.3 159.32 L525.5 159.54 L525.7 159.09 L525.9 159.57 L526.1 158.8 L526.3 159.31 L526.5 159.13 L526.7 159.47 L526.9 158.63 L527.1 158.72 L527.3 158.8 L527.5 159.62 L527.7 158.17 L527.9 158.78 L528.1 158.33 L528.3 158.64 L528.5 158.7 L528.7 158.42 L528.9 158.39 L529.1 158.33 L529.3 157.9 L529.5 157.98 L529.7 157.3 L529.9 157.77 L530.1 157.51 L530.3 157.66 L530.5 158.01 L530.7 157.78 L530.9 157.75 L531.1 157.96 L531.3 156.31 L531.5 157.52 L531.7 157.23 L531.9 157.12 L532.1 156.47 L532.3 157.29 L532.5 157.52 L532.7 157.39 L532.9 156.75 L533.1 157.06 L533.3 157.14 L533.5 157.56 L533.7 157.17 L533.9 156.51 L534.1 156.41 L534.3 156.38 L534.5 156.35 L534.7 155.84 L534.9 156.54 L535.1 155.57 L535.3 155.42 L535.5 156.08 L535.7 155.41 L535.9 155.55 L536.1 154.24 L536.3 156.12 L536.5 155.49 L536.7 155.34 L536.9 155.7 L537.1 155.45 L537.3 154.69 L537.5 156.68 L537.7 154.73 L537.9 155.78 L538.1 156.42 L538.3 154.37 L538.5 154.89 L538.7 154.06 L538.9 155.58 L539.1 154.32 L539.3 153.58 L539.5 155.65 L539.7 155.25 L539.9 153.54 L540.1 155.38 L540.3 154.41 L540.5 156.74 L540.7 155.74 L540.9 153.5 L541.1 153.71 L541.3 153.04 L541.5 153.98 L541.7 153.83 L541.9 154.47 L542.1 153.75 L542.3 152.08 L542.5 152.7 L542.7 154.95 L542.9 154.62 L543.1 153.18 L543.3 153.15 L543.5 153.05 L543.7 153.19 L543.9 151.32 L544.1 154 L544.3 152.28 L544.5 153.08 L544.7 150.16 L544.9 153.06 L545.1 154.18 L545.3 150.31 L545.5 154.24 L545.7 153.07 L545.9 151.74 L546.1 150.79 L546.3 153.62 L546.5 152.61 L546.7 152.9 L546.9 151.95 L547.1 151.36 L547.3 153 L547.5 151.11 L547.7 152.91 L547.9 150.31 L548.1 151 L548.3 150.45 L548.5 153.05 L548.7 150.09 L548.9 150.63 L549.1 152.26 L549.3 151.81 L549.5 153.52 L549.7 153.13 L549.9 151.99 L550.1 152 L550.3 149.81 L550.5 150.58 L550.7 151 L550.9 151.08 L551.1 150.09 L551.3 150.41 L551.5 150.44 L551.7 151.85 L551.9 151.32 L552.1 150.73 L552.3 150.73 L552.5 151.09 L552.7 150.37 L552.9 150.63 L553.1 149.65 L553.3 151.15 L553.5 151.28 L553.7 150.87 L553.9 150.89 L554.1 150.78 L554.3 151.66 L554.5 150.61 L554.7 149.78 L554.9 149.91 L555.1 150.73 L555.3 150.84 L555.5 150.65 L555.7 150.63 L555.9 150.32 L556.1 149.66 L556.3 149.93 L556.5 149.56 L556.7 149.99 L556.9 149.69 L557.1 150.07 L557.3 149.97 L557.5 149.55 L557.7 150.09 L557.9 150.04 L558.1 149.65 L558.3 149.86 L558.5 149.9 L558.7 149.74 L558.9 149.83 L559.1 149.73 L559.3 149.77 L559.5 149.66 L559.7 149.6 L559.9 149.61 L560.1 149.59 L560.3 149.53 L560.5 149.46 L560.7 149.42 L560.9 149.4 L561.1 149.36 L561.3 149.36 L561.5 149.32 L561.7 149.28 L561.9 149.25 L562.1 149.22 L562.3 149.23 L562.5 149.19 L562.7 149.11 L562.9 149.1 L563.1 149.05 L563.3 149.03 L563.5 148.99 L563.7 148.95 L563.9 148.9 L564.1 148.85 L564.3 148.87 L564.5 148.86 L564.7 148.79 L564.9 148.79 L565.1 148.74 L565.3 148.72 L565.5 148.67 L565.7 148.65 L565.9 148.62 L566.1 148.54 L566.3 148.56 L566.5 148.53 L566.7 148.45 L566.9 148.48 L567.1 148.44 L567.3 148.41 L567.5 148.39 L567.7 148.34 L567.9 148.3 L568.1 148.28 L568.3 148.25 L568.5 148.27 L568.7 148.24 L568.9 148.16 L569.1 148.14 L569.3 148.12 L569.5 148.1 L569.7 148.04 L569.9 148.01 L570.1 148.04 L570.3 147.99 L570.5 147.91 L570.7 147.88 L570.9 147.87 L571.1 147.86 L571.3 147.84 L571.5 147.8 L571.7 147.74 L571.9 147.75 L572.1 147.73 L572.3 147.69 L572.5 147.66 L572.7 147.65" fill="none" stroke="#0000ff" stroke-width="1.6" stroke-dasharray="1.5 1.0" stroke-linejoin="round"/>
<path d="M49.9 175.5h4 M207.9 175.5h-4 M49.9 103.5h4 M207.9 103.5h-4 M49.9 31.5h4 M207.9 31.5h-4 M49.9 247.5h4 M207.9 247.5h-4 " class="t"/>
<path d="M49.9 225.5h2.1 M207.9 225.5h-2.1 M49.9 212.5h2.1 M207.9 212.5h-2.1 M49.9 203.5h2.1 M207.9 203.5h-2.1 M49.9 196.5h2.1 M207.9 196.5h-2.1 M49.9 191.5h2.1 M207.9 191.5h-2.1 M49.9 186.5h2.1 M207.9 186.5h-2.1 M49.9 182.5h2.1 M207.9 182.5h-2.1 M49.9 178.5h2.1 M207.9 178.5h-2.1 M49.9 153.5h2.1 M207.9 153.5h-2.1 M49.9 140.5h2.1 M207.9 140.5h-2.1 M49.9 131.5h2.1 M207.9 131.5h-2.1 M49.9 124.5h2.1 M207.9 124.5h-2.1 M49.9 119.5h2.1 M207.9 119.5h-2.1 M49.9 114.5h2.1 M207.9 114.5h-2.1 M49.9 110.5h2.1 M207.9 110.5h-2.1 M49.9 106.5h2.1 M207.9 106.5h-2.1 M49.9 81.5h2.1 M207.9 81.5h-2.1 M49.9 68.5h2.1 M207.9 68.5h-2.1 M49.9 59.5h2.1 M207.9 59.5h-2.1 M49.9 52.5h2.1 M207.9 52.5h-2.1 M49.9 46.5h2.1 M207.9 46.5h-2.1 M49.9 42.5h2.1 M207.9 42.5h-2.1 M49.9 37.5h2.1 M207.9 37.5h-2.1 M49.9 34.5h2.1 M207.9 34.5h-2.1 " class="m"/>
<path d="M69.5 247.25v-4 M69.5 31v4 M128.5 247.25v-4 M128.5 31v4 M188.5 247.25v-4 M188.5 31v4 " class="t"/>
<rect x="49.9" y="31" width="158" height="216.25" fill="none" stroke="#000" stroke-width="1.15"/>
<text x="128.6" y="18.9" text-anchor="middle" font-size="10.3" font-family='"Liberation Sans", sans-serif' ><tspan font-family='"Liberation Serif", serif' font-size="10.6">&#915;</tspan> = 10</text>
<text x="70.95" y="261.9" text-anchor="middle" font-size="10.3" font-family='"Liberation Sans", sans-serif' >0.3</text>
<text x="130.2" y="261.9" text-anchor="middle" font-size="10.3" font-family='"Liberation Sans", sans-serif' >0.6</text>
<text x="189.45" y="261.9" text-anchor="middle" font-size="10.3" font-family='"Liberation Sans", sans-serif' >0.9</text>
<text x="128.9" y="276.7" text-anchor="middle" font-size="10.3" font-family='"Liberation Sans", sans-serif' >t/t<tspan font-size="8.2" dy="2.6">M</tspan></text>
<path d="M232.5 175.5h4 M390.5 175.5h-4 M232.5 103.5h4 M390.5 103.5h-4 M232.5 31.5h4 M390.5 31.5h-4 M232.5 247.5h4 M390.5 247.5h-4 " class="t"/>
<path d="M232.5 225.5h2.1 M390.5 225.5h-2.1 M232.5 212.5h2.1 M390.5 212.5h-2.1 M232.5 203.5h2.1 M390.5 203.5h-2.1 M232.5 196.5h2.1 M390.5 196.5h-2.1 M232.5 191.5h2.1 M390.5 191.5h-2.1 M232.5 186.5h2.1 M390.5 186.5h-2.1 M232.5 182.5h2.1 M390.5 182.5h-2.1 M232.5 178.5h2.1 M390.5 178.5h-2.1 M232.5 153.5h2.1 M390.5 153.5h-2.1 M232.5 140.5h2.1 M390.5 140.5h-2.1 M232.5 131.5h2.1 M390.5 131.5h-2.1 M232.5 124.5h2.1 M390.5 124.5h-2.1 M232.5 119.5h2.1 M390.5 119.5h-2.1 M232.5 114.5h2.1 M390.5 114.5h-2.1 M232.5 110.5h2.1 M390.5 110.5h-2.1 M232.5 106.5h2.1 M390.5 106.5h-2.1 M232.5 81.5h2.1 M390.5 81.5h-2.1 M232.5 68.5h2.1 M390.5 68.5h-2.1 M232.5 59.5h2.1 M390.5 59.5h-2.1 M232.5 52.5h2.1 M390.5 52.5h-2.1 M232.5 46.5h2.1 M390.5 46.5h-2.1 M232.5 42.5h2.1 M390.5 42.5h-2.1 M232.5 37.5h2.1 M390.5 37.5h-2.1 M232.5 34.5h2.1 M390.5 34.5h-2.1 " class="m"/>
<path d="M252.5 247.25v-4 M252.5 31v4 M311.5 247.25v-4 M311.5 31v4 M370.5 247.25v-4 M370.5 31v4 " class="t"/>
<rect x="232.5" y="31" width="158" height="216.25" fill="none" stroke="#000" stroke-width="1.15"/>
<text x="311.2" y="18.9" text-anchor="middle" font-size="10.3" font-family='"Liberation Sans", sans-serif' ><tspan font-family='"Liberation Serif", serif' font-size="10.6">&#915;</tspan> = 30</text>
<text x="253.55" y="261.9" text-anchor="middle" font-size="10.3" font-family='"Liberation Sans", sans-serif' >0.3</text>
<text x="312.8" y="261.9" text-anchor="middle" font-size="10.3" font-family='"Liberation Sans", sans-serif' >0.6</text>
<text x="372.05" y="261.9" text-anchor="middle" font-size="10.3" font-family='"Liberation Sans", sans-serif' >0.9</text>
<text x="311.5" y="276.7" text-anchor="middle" font-size="10.3" font-family='"Liberation Sans", sans-serif' >t/t<tspan font-size="8.2" dy="2.6">M</tspan></text>
<path d="M415 175.5h4 M573 175.5h-4 M415 103.5h4 M573 103.5h-4 M415 31.5h4 M573 31.5h-4 M415 247.5h4 M573 247.5h-4 " class="t"/>
<path d="M415 225.5h2.1 M573 225.5h-2.1 M415 212.5h2.1 M573 212.5h-2.1 M415 203.5h2.1 M573 203.5h-2.1 M415 196.5h2.1 M573 196.5h-2.1 M415 191.5h2.1 M573 191.5h-2.1 M415 186.5h2.1 M573 186.5h-2.1 M415 182.5h2.1 M573 182.5h-2.1 M415 178.5h2.1 M573 178.5h-2.1 M415 153.5h2.1 M573 153.5h-2.1 M415 140.5h2.1 M573 140.5h-2.1 M415 131.5h2.1 M573 131.5h-2.1 M415 124.5h2.1 M573 124.5h-2.1 M415 119.5h2.1 M573 119.5h-2.1 M415 114.5h2.1 M573 114.5h-2.1 M415 110.5h2.1 M573 110.5h-2.1 M415 106.5h2.1 M573 106.5h-2.1 M415 81.5h2.1 M573 81.5h-2.1 M415 68.5h2.1 M573 68.5h-2.1 M415 59.5h2.1 M573 59.5h-2.1 M415 52.5h2.1 M573 52.5h-2.1 M415 46.5h2.1 M573 46.5h-2.1 M415 42.5h2.1 M573 42.5h-2.1 M415 37.5h2.1 M573 37.5h-2.1 M415 34.5h2.1 M573 34.5h-2.1 " class="m"/>
<path d="M434.5 247.25v-4 M434.5 31v4 M494.5 247.25v-4 M494.5 31v4 M553.5 247.25v-4 M553.5 31v4 " class="t"/>
<rect x="415" y="31" width="158" height="216.25" fill="none" stroke="#000" stroke-width="1.15"/>
<text x="493.7" y="18.9" text-anchor="middle" font-size="10.3" font-family='"Liberation Sans", sans-serif' ><tspan font-family='"Liberation Serif", serif' font-size="10.6">&#915;</tspan> = 100</text>
<text x="436.05" y="261.9" text-anchor="middle" font-size="10.3" font-family='"Liberation Sans", sans-serif' >0.3</text>
<text x="495.3" y="261.9" text-anchor="middle" font-size="10.3" font-family='"Liberation Sans", sans-serif' >0.6</text>
<text x="554.55" y="261.9" text-anchor="middle" font-size="10.3" font-family='"Liberation Sans", sans-serif' >0.9</text>
<text x="494" y="276.7" text-anchor="middle" font-size="10.3" font-family='"Liberation Sans", sans-serif' >t/t<tspan font-size="8.2" dy="2.6">M</tspan></text>
<text x="43.9" y="251" text-anchor="end" font-size="10.3" font-family='"Liberation Sans", sans-serif' >1.00</text>
<text x="43.9" y="178.92" text-anchor="end" font-size="10.3" font-family='"Liberation Sans", sans-serif' >10.00</text>
<text x="43.9" y="106.83" text-anchor="end" font-size="10.3" font-family='"Liberation Sans", sans-serif' >100.00</text>
<text x="43.9" y="34.75" text-anchor="end" font-size="10.3" font-family='"Liberation Sans", sans-serif' >1000.00</text>
<text transform="translate(23.2 139.3) rotate(-90)" text-anchor="middle" font-size="10.6" font-style="italic" font-family='"Liberation Serif", serif'>&#967;</text>
<rect x="444" y="52.6" width="127.5" height="31.2" fill="#fff"/>
<text x="531.3" y="61.6" text-anchor="end" font-size="10.3" font-family='"Liberation Sans", sans-serif' >Perturbed Region</text>
<text x="531.3" y="72" text-anchor="end" font-size="10.3" font-family='"Liberation Sans", sans-serif' >1D Reverse Shock</text>
<text x="531.3" y="82.2" text-anchor="end" font-size="10.3" font-family='"Liberation Sans", sans-serif' >1D Contact</text>
<rect x="537.5" y="55" width="29" height="6" fill="#ff8080" stroke="#ff6a6a" stroke-width=".5"/>
<path d="M537.3 68.4H566.7" stroke="#00ff00" stroke-width="1.35" stroke-dasharray="2.8 1.1" fill="none"/>
<path d="M537.3 78.6H566.7" stroke="#0000ff" stroke-width="1.35" stroke-dasharray="1.3 1.3" fill="none"/>
<path d="M641.5 62.5H811.4" class="g"/>
<path d="M679.5 12.45V112.45" class="g"/>
<path d="M794.5 12.45V112.45" class="g"/>
<rect x="639.65" y="16.75" width="3.7" height="3.7" rx=".7" fill="#ff0000"/>
<path d="M639.55 17.25l3.9 3.9M639.55 21.15l3.9 -3.9" stroke="#00ff00" stroke-width="1.35" fill="none"/>
<path d="M639.5 16.4l4 4M639.5 20.4l4 -4" stroke="#0000ff" stroke-width="1.2" fill="none"/>
<path d="M641.5 16.3v4.2" stroke="#0000ff" stroke-width="1.2" fill="none"/>
<rect x="640" y="16.9" width="3.0" height="3.0" fill="#0000ff"/>
<rect x="678.13" y="24.55" width="3.7" height="3.7" rx=".7" fill="#ff0000"/>
<path d="M678.03 27.75l3.9 3.9M678.03 31.65l3.9 -3.9" stroke="#00ff00" stroke-width="1.35" fill="none"/>
<path d="M677.98 22l4 4M677.98 26l4 -4" stroke="#0000ff" stroke-width="1.2" fill="none"/>
<path d="M679.98 21.9v4.2" stroke="#0000ff" stroke-width="1.2" fill="none"/>
<rect x="678.48" y="22.5" width="3.0" height="3.0" fill="#0000ff"/>
<rect x="705.43" y="28.45" width="3.7" height="3.7" rx=".7" fill="#ff0000"/>
<path d="M705.33 34.05l3.9 3.9M705.33 37.95l3.9 -3.9" stroke="#00ff00" stroke-width="1.35" fill="none"/>
<path d="M705.28 31.3l4 4M705.28 35.3l4 -4" stroke="#0000ff" stroke-width="1.2" fill="none"/>
<path d="M707.28 31.2v4.2" stroke="#0000ff" stroke-width="1.2" fill="none"/>
<rect x="705.78" y="31.8" width="3.0" height="3.0" fill="#0000ff"/>
<rect x="726.6" y="32.25" width="3.7" height="3.7" rx=".7" fill="#ff0000"/>
<path d="M726.5 36.85l3.9 3.9M726.5 40.75l3.9 -3.9" stroke="#00ff00" stroke-width="1.35" fill="none"/>
<path d="M726.45 43.5l4 4M726.45 47.5l4 -4" stroke="#0000ff" stroke-width="1.2" fill="none"/>
<path d="M728.45 43.4v4.2" stroke="#0000ff" stroke-width="1.2" fill="none"/>
<rect x="726.95" y="44" width="3.0" height="3.0" fill="#0000ff"/>
<rect x="743.9" y="36.45" width="3.7" height="3.7" rx=".7" fill="#ff0000"/>
<path d="M743.8 41.75l3.9 3.9M743.8 45.65l3.9 -3.9" stroke="#00ff00" stroke-width="1.35" fill="none"/>
<path d="M743.75 50.7l4 4M743.75 54.7l4 -4" stroke="#0000ff" stroke-width="1.2" fill="none"/>
<path d="M745.75 50.6v4.2" stroke="#0000ff" stroke-width="1.2" fill="none"/>
<rect x="744.25" y="51.2" width="3.0" height="3.0" fill="#0000ff"/>
<rect x="758.53" y="41.45" width="3.7" height="3.7" rx=".7" fill="#ff0000"/>
<path d="M758.43 45.55l3.9 3.9M758.43 49.45l3.9 -3.9" stroke="#00ff00" stroke-width="1.35" fill="none"/>
<path d="M758.38 56.5l4 4M758.38 60.5l4 -4" stroke="#0000ff" stroke-width="1.2" fill="none"/>
<path d="M760.38 56.4v4.2" stroke="#0000ff" stroke-width="1.2" fill="none"/>
<rect x="758.88" y="57" width="3.0" height="3.0" fill="#0000ff"/>
<rect x="771.2" y="45.15" width="3.7" height="3.7" rx=".7" fill="#ff0000"/>
<path d="M771.1 55.45l3.9 3.9M771.1 59.35l3.9 -3.9" stroke="#00ff00" stroke-width="1.35" fill="none"/>
<path d="M771.05 63l4 4M771.05 67l4 -4" stroke="#0000ff" stroke-width="1.2" fill="none"/>
<path d="M773.05 62.9v4.2" stroke="#0000ff" stroke-width="1.2" fill="none"/>
<rect x="771.55" y="63.5" width="3.0" height="3.0" fill="#0000ff"/>
<rect x="782.38" y="50.85" width="3.7" height="3.7" rx=".7" fill="#ff0000"/>
<path d="M782.28 61.55l3.9 3.9M782.28 65.45l3.9 -3.9" stroke="#00ff00" stroke-width="1.35" fill="none"/>
<path d="M782.23 68.2l4 4M782.23 72.2l4 -4" stroke="#0000ff" stroke-width="1.2" fill="none"/>
<path d="M784.23 68.1v4.2" stroke="#0000ff" stroke-width="1.2" fill="none"/>
<rect x="782.73" y="68.7" width="3.0" height="3.0" fill="#0000ff"/>
<rect x="792.37" y="57.65" width="3.7" height="3.7" rx=".7" fill="#ff0000"/>
<path d="M792.27 66.25l3.9 3.9M792.27 70.15l3.9 -3.9" stroke="#00ff00" stroke-width="1.35" fill="none"/>
<path d="M792.22 72.8l4 4M792.22 76.8l4 -4" stroke="#0000ff" stroke-width="1.2" fill="none"/>
<path d="M794.22 72.7v4.2" stroke="#0000ff" stroke-width="1.2" fill="none"/>
<rect x="792.72" y="73.3" width="3.0" height="3.0" fill="#0000ff"/>
<rect x="801.42" y="62.35" width="3.7" height="3.7" rx=".7" fill="#ff0000"/>
<path d="M801.32 70.45l3.9 3.9M801.32 74.35l3.9 -3.9" stroke="#00ff00" stroke-width="1.35" fill="none"/>
<path d="M801.27 80.1l4 4M801.27 84.1l4 -4" stroke="#0000ff" stroke-width="1.2" fill="none"/>
<path d="M803.27 80v4.2" stroke="#0000ff" stroke-width="1.2" fill="none"/>
<rect x="801.77" y="80.6" width="3.0" height="3.0" fill="#0000ff"/>
<rect x="809.68" y="62.95" width="3.7" height="3.7" rx=".7" fill="#ff0000"/>
<path d="M809.58 74.35l3.9 3.9M809.58 78.25l3.9 -3.9" stroke="#00ff00" stroke-width="1.35" fill="none"/>
<path d="M809.53 84.5l4 4M809.53 88.5l4 -4" stroke="#0000ff" stroke-width="1.2" fill="none"/>
<path d="M811.53 84.4v4.2" stroke="#0000ff" stroke-width="1.2" fill="none"/>
<rect x="810.03" y="85" width="3.0" height="3.0" fill="#0000ff"/>
<path d="M641.5 62.5h4 M811.4 62.5h-4 M641.5 12.5h4 M811.4 12.5h-4 M641.5 112.5h4 M811.4 112.5h-4 " class="t"/>
<path d="M641.5 97.5h2.1 M811.4 97.5h-2.1 M641.5 88.5h2.1 M811.4 88.5h-2.1 M641.5 82.5h2.1 M811.4 82.5h-2.1 M641.5 77.5h2.1 M811.4 77.5h-2.1 M641.5 73.5h2.1 M811.4 73.5h-2.1 M641.5 70.5h2.1 M811.4 70.5h-2.1 M641.5 67.5h2.1 M811.4 67.5h-2.1 M641.5 64.5h2.1 M811.4 64.5h-2.1 M641.5 47.5h2.1 M811.4 47.5h-2.1 M641.5 38.5h2.1 M811.4 38.5h-2.1 M641.5 32.5h2.1 M811.4 32.5h-2.1 M641.5 27.5h2.1 M811.4 27.5h-2.1 M641.5 23.5h2.1 M811.4 23.5h-2.1 M641.5 20.5h2.1 M811.4 20.5h-2.1 M641.5 17.5h2.1 M811.4 17.5h-2.1 M641.5 14.5h2.1 M811.4 14.5h-2.1 " class="m"/>
<path d="M679.5 112.45v-4 M679.5 12.45v4 M794.5 112.45v-4 M794.5 12.45v4 " class="t"/>
<path d="M745.5 112.45v-2.1 M745.5 12.45v2.1 M784.5 112.45v-2.1 M784.5 12.45v2.1 " class="m"/>
<rect x="641.5" y="12.45" width="169.9" height="100" fill="none" stroke="#000" stroke-width="1.15"/>
<text x="634.9" y="16.2" text-anchor="end" font-size="10.3" font-family='"Liberation Sans", sans-serif' >1.00</text>
<text x="634.9" y="66.15" text-anchor="end" font-size="10.3" font-family='"Liberation Sans", sans-serif' >0.10</text>
<text x="634.9" y="116.1" text-anchor="end" font-size="10.3" font-family='"Liberation Sans", sans-serif' >0.01</text>
<text x="681.28" y="127.1" text-anchor="middle" font-size="10.3" font-family='"Liberation Sans", sans-serif' >0.3</text>
<text x="795.52" y="127.1" text-anchor="middle" font-size="10.3" font-family='"Liberation Sans", sans-serif' >1</text>
<text x="726.45" y="131.1" text-anchor="middle" font-size="10.3" font-family='"Liberation Sans", sans-serif' >t/t<tspan font-size="8.2" dy="2.6">M</tspan></text>
<text transform="translate(603.5 61.7) rotate(-90)" text-anchor="middle" font-size="10.3" font-family='"Liberation Sans", sans-serif'>Perturbed Fraction</text>
<text x="686.9" y="71.15" text-anchor="end" font-size="10.3" font-family='"Liberation Sans", sans-serif' ><tspan font-family='"Liberation Serif", serif' font-size="10.6">&#915;</tspan> = 10</text>
<rect x="705.95" y="65.55" width="3.7" height="3.7" rx=".7" fill="#ff0000"/>
<text x="686.9" y="81.35" text-anchor="end" font-size="10.3" font-family='"Liberation Sans", sans-serif' >30</text>
<path d="M705.85 75.65l3.9 3.9M705.85 79.55l3.9 -3.9" stroke="#00ff00" stroke-width="1.35" fill="none"/>
<text x="686.9" y="91.35" text-anchor="end" font-size="10.3" font-family='"Liberation Sans", sans-serif' >100</text>
<path d="M705.8 85.6l4 4M705.8 89.6l4 -4" stroke="#0000ff" stroke-width="1.2" fill="none"/>
<path d="M707.8 85.5v4.2" stroke="#0000ff" stroke-width="1.2" fill="none"/>
<rect x="706.3" y="86.1" width="3.0" height="3.0" fill="#0000ff"/>
<path d="M641.6 216.5H811.5" class="g"/>
<path d="M641.6 180.5H811.5" class="g"/>
<path d="M673.5 143.45V253.25" class="g"/>
<path d="M779.5 143.45V253.25" class="g"/>
<path d="M673.52 218 L724.12 198.3 L779.58 169.4 L779.58 237.7 L724.12 241.4 L673.52 238.8Z" fill="#ff8080"/>
<path d="M673.52 222.1 L779.58 181.5" stroke="#00ff00" stroke-width="1.4" stroke-dasharray="2.3 1.2" fill="none"/>
<path d="M673.52 229.1 L779.58 200.4" stroke="#0000ff" stroke-width="1.4" stroke-dasharray="1.3 1.1" fill="none"/>
<path d="M641.6 216.5h4 M811.5 216.5h-4 M641.6 180.5h4 M811.5 180.5h-4 M641.6 143.5h4 M811.5 143.5h-4 M641.6 253.5h4 M811.5 253.5h-4 " class="t"/>
<path d="M641.6 242.5h2.1 M811.5 242.5h-2.1 M641.6 235.5h2.1 M811.5 235.5h-2.1 M641.6 231.5h2.1 M811.5 231.5h-2.1 M641.6 227.5h2.1 M811.5 227.5h-2.1 M641.6 224.5h2.1 M811.5 224.5h-2.1 M641.6 222.5h2.1 M811.5 222.5h-2.1 M641.6 220.5h2.1 M811.5 220.5h-2.1 M641.6 218.5h2.1 M811.5 218.5h-2.1 M641.6 205.5h2.1 M811.5 205.5h-2.1 M641.6 199.5h2.1 M811.5 199.5h-2.1 M641.6 194.5h2.1 M811.5 194.5h-2.1 M641.6 191.5h2.1 M811.5 191.5h-2.1 M641.6 188.5h2.1 M811.5 188.5h-2.1 M641.6 185.5h2.1 M811.5 185.5h-2.1 M641.6 183.5h2.1 M811.5 183.5h-2.1 M641.6 181.5h2.1 M811.5 181.5h-2.1 M641.6 169.5h2.1 M811.5 169.5h-2.1 M641.6 162.5h2.1 M811.5 162.5h-2.1 M641.6 158.5h2.1 M811.5 158.5h-2.1 M641.6 154.5h2.1 M811.5 154.5h-2.1 M641.6 151.5h2.1 M811.5 151.5h-2.1 M641.6 149.5h2.1 M811.5 149.5h-2.1 M641.6 146.5h2.1 M811.5 146.5h-2.1 M641.6 145.5h2.1 M811.5 145.5h-2.1 " class="m"/>
<path d="M673.5 253.25v-4 M673.5 143.45v4 M779.5 253.25v-4 M779.5 143.45v4 " class="t"/>
<path d="M649.5 253.25v-2.1 M649.5 143.45v2.1 M657.5 253.25v-2.1 M657.5 143.45v2.1 M663.5 253.25v-2.1 M663.5 143.45v2.1 M668.5 253.25v-2.1 M668.5 143.45v2.1 M705.5 253.25v-2.1 M705.5 143.45v2.1 M724.5 253.25v-2.1 M724.5 143.45v2.1 M737.5 253.25v-2.1 M737.5 143.45v2.1 M747.5 253.25v-2.1 M747.5 143.45v2.1 M756.5 253.25v-2.1 M756.5 143.45v2.1 M763.5 253.25v-2.1 M763.5 143.45v2.1 M769.5 253.25v-2.1 M769.5 143.45v2.1 M774.5 253.25v-2.1 M774.5 143.45v2.1 " class="m"/>
<rect x="641.6" y="143.45" width="169.9" height="109.8" fill="none" stroke="#000" stroke-width="1.15"/>
<text x="635.2" y="257" text-anchor="end" font-size="10.3" font-family='"Liberation Sans", sans-serif' >1.00</text>
<text x="635.2" y="220.4" text-anchor="end" font-size="10.3" font-family='"Liberation Sans", sans-serif' >10.00</text>
<text x="635.2" y="183.8" text-anchor="end" font-size="10.3" font-family='"Liberation Sans", sans-serif' >100.00</text>
<text x="635.2" y="147.2" text-anchor="end" font-size="10.3" font-family='"Liberation Sans", sans-serif' >1000.00</text>
<text x="675.12" y="268.1" text-anchor="middle" font-size="10.3" font-family='"Liberation Sans", sans-serif' >10</text>
<text x="781.18" y="268.1" text-anchor="middle" font-size="10.3" font-family='"Liberation Sans", sans-serif' >100</text>
<text x="726.85" y="272.7" text-anchor="middle" font-size="10.6" font-family='"Liberation Serif", serif' >&#915;</text>
<text transform="translate(592.3 198.7) rotate(-90)" text-anchor="middle" font-size="10.6" font-style="italic" font-family='"Liberation Serif", serif'>&#967;<tspan font-style="normal" font-family='"Liberation Sans", sans-serif' font-size="8.2" dy="2.6">M</tspan></text>
<text x="784.2" y="167.2" font-size="10.6" font-family='"Liberation Serif", serif'>&#915;<tspan font-family='"Liberation Sans", sans-serif' font-size="8.2" dy="-5.2">1.36</tspan></text>
<text x="784.2" y="184.5" font-size="10.6" font-family='"Liberation Serif", serif'>&#915;<tspan font-family='"Liberation Sans", sans-serif' font-size="8.2" dy="-5.2">1.13</tspan></text>
<text x="784.2" y="203.7" font-size="10.6" font-family='"Liberation Serif", serif'>&#915;<tspan font-family='"Liberation Sans", sans-serif' font-size="8.2" dy="-5.2">0.78</tspan></text>
<text x="784.2" y="240.5" font-size="10.6" font-family='"Liberation Serif", serif'>&#915;<tspan font-family='"Liberation Sans", sans-serif' font-size="8.2" dy="-5.2">0.03</tspan></text>
</svg>
</body></html>
